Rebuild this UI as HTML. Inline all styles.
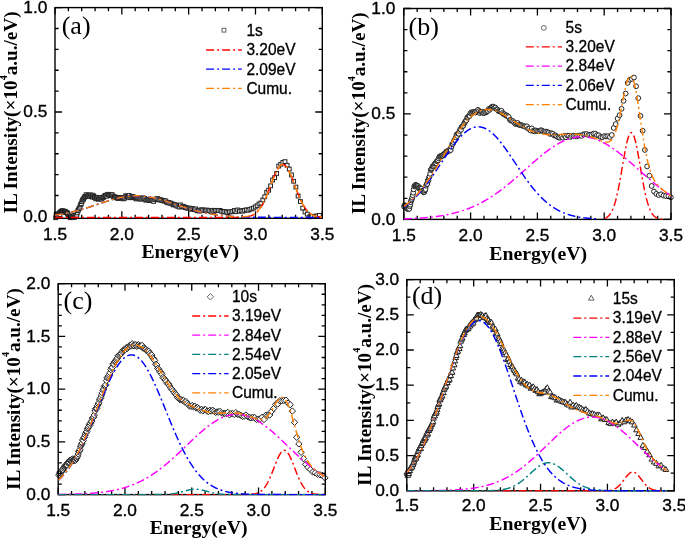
<!DOCTYPE html>
<html><head><meta charset="utf-8"><style>
html,body{margin:0;padding:0;background:#fff;}
svg{display:block;will-change:transform;}
</style></head><body>
<svg width="685" height="539" viewBox="0 0 685 539">
<rect width="685" height="539" fill="#fff"/>
<clipPath id="clipa"><rect x="55.0" y="7.6" width="267.3" height="211.6"/></clipPath>
<g fill="#fff" stroke="#222" stroke-width="1.0">
<rect x="53.77" y="215.82" width="3.8" height="3.8"/>
<rect x="54.24" y="213.02" width="3.8" height="3.8"/>
<rect x="54.71" y="214.73" width="3.8" height="3.8"/>
<rect x="55.18" y="214.04" width="3.8" height="3.8"/>
<rect x="55.65" y="213.83" width="3.8" height="3.8"/>
<rect x="56.12" y="213.51" width="3.8" height="3.8"/>
<rect x="56.6" y="211.89" width="3.8" height="3.8"/>
<rect x="57.07" y="212.21" width="3.8" height="3.8"/>
<rect x="57.55" y="210.9" width="3.8" height="3.8"/>
<rect x="58.04" y="212.66" width="3.8" height="3.8"/>
<rect x="58.52" y="210.35" width="3.8" height="3.8"/>
<rect x="59.01" y="209.63" width="3.8" height="3.8"/>
<rect x="59.5" y="209.45" width="3.8" height="3.8"/>
<rect x="59.99" y="209.14" width="3.8" height="3.8"/>
<rect x="60.49" y="208.85" width="3.8" height="3.8"/>
<rect x="60.98" y="209.21" width="3.8" height="3.8"/>
<rect x="61.48" y="209.7" width="3.8" height="3.8"/>
<rect x="61.98" y="209.26" width="3.8" height="3.8"/>
<rect x="62.49" y="210" width="3.8" height="3.8"/>
<rect x="62.99" y="209.4" width="3.8" height="3.8"/>
<rect x="63.5" y="209.68" width="3.8" height="3.8"/>
<rect x="64.01" y="210.79" width="3.8" height="3.8"/>
<rect x="64.52" y="210.53" width="3.8" height="3.8"/>
<rect x="65.04" y="210.52" width="3.8" height="3.8"/>
<rect x="65.56" y="211.44" width="3.8" height="3.8"/>
<rect x="66.08" y="212.72" width="3.8" height="3.8"/>
<rect x="66.6" y="214.53" width="3.8" height="3.8"/>
<rect x="67.13" y="213.97" width="3.8" height="3.8"/>
<rect x="67.66" y="214.57" width="3.8" height="3.8"/>
<rect x="68.19" y="215.77" width="3.8" height="3.8"/>
<rect x="68.72" y="214.77" width="3.8" height="3.8"/>
<rect x="69.26" y="215.11" width="3.8" height="3.8"/>
<rect x="69.8" y="215.77" width="3.8" height="3.8"/>
<rect x="70.34" y="215.54" width="3.8" height="3.8"/>
<rect x="70.89" y="215.18" width="3.8" height="3.8"/>
<rect x="71.44" y="215.46" width="3.8" height="3.8"/>
<rect x="71.99" y="213.28" width="3.8" height="3.8"/>
<rect x="72.54" y="215.48" width="3.8" height="3.8"/>
<rect x="73.09" y="214.14" width="3.8" height="3.8"/>
<rect x="73.65" y="213.51" width="3.8" height="3.8"/>
<rect x="74.21" y="214.26" width="3.8" height="3.8"/>
<rect x="74.78" y="213.33" width="3.8" height="3.8"/>
<rect x="75.35" y="210.99" width="3.8" height="3.8"/>
<rect x="75.92" y="208.93" width="3.8" height="3.8"/>
<rect x="76.49" y="208.15" width="3.8" height="3.8"/>
<rect x="77.07" y="206.63" width="3.8" height="3.8"/>
<rect x="77.64" y="206.05" width="3.8" height="3.8"/>
<rect x="78.23" y="204.25" width="3.8" height="3.8"/>
<rect x="78.81" y="202.53" width="3.8" height="3.8"/>
<rect x="79.4" y="201.74" width="3.8" height="3.8"/>
<rect x="79.99" y="199.69" width="3.8" height="3.8"/>
<rect x="80.59" y="198.08" width="3.8" height="3.8"/>
<rect x="81.18" y="197.86" width="3.8" height="3.8"/>
<rect x="81.78" y="196.87" width="3.8" height="3.8"/>
<rect x="82.39" y="195.63" width="3.8" height="3.8"/>
<rect x="82.99" y="194.58" width="3.8" height="3.8"/>
<rect x="83.6" y="194.64" width="3.8" height="3.8"/>
<rect x="84.22" y="192.79" width="3.8" height="3.8"/>
<rect x="84.83" y="194.63" width="3.8" height="3.8"/>
<rect x="85.45" y="194.46" width="3.8" height="3.8"/>
<rect x="86.08" y="193.14" width="3.8" height="3.8"/>
<rect x="86.7" y="194.14" width="3.8" height="3.8"/>
<rect x="87.33" y="193.52" width="3.8" height="3.8"/>
<rect x="87.97" y="194.58" width="3.8" height="3.8"/>
<rect x="88.6" y="192.97" width="3.8" height="3.8"/>
<rect x="89.24" y="193.72" width="3.8" height="3.8"/>
<rect x="89.89" y="194.79" width="3.8" height="3.8"/>
<rect x="90.53" y="195.18" width="3.8" height="3.8"/>
<rect x="91.18" y="193.32" width="3.8" height="3.8"/>
<rect x="91.84" y="194.59" width="3.8" height="3.8"/>
<rect x="92.5" y="195.48" width="3.8" height="3.8"/>
<rect x="93.16" y="195.33" width="3.8" height="3.8"/>
<rect x="93.82" y="196.98" width="3.8" height="3.8"/>
<rect x="94.49" y="195.46" width="3.8" height="3.8"/>
<rect x="95.16" y="196.52" width="3.8" height="3.8"/>
<rect x="95.84" y="195.79" width="3.8" height="3.8"/>
<rect x="96.52" y="197.35" width="3.8" height="3.8"/>
<rect x="97.2" y="196.56" width="3.8" height="3.8"/>
<rect x="97.89" y="196.37" width="3.8" height="3.8"/>
<rect x="98.58" y="195.51" width="3.8" height="3.8"/>
<rect x="99.28" y="197.28" width="3.8" height="3.8"/>
<rect x="99.98" y="196.32" width="3.8" height="3.8"/>
<rect x="100.68" y="195.85" width="3.8" height="3.8"/>
<rect x="101.39" y="195.63" width="3.8" height="3.8"/>
<rect x="102.1" y="194.81" width="3.8" height="3.8"/>
<rect x="102.82" y="193.93" width="3.8" height="3.8"/>
<rect x="103.54" y="193.54" width="3.8" height="3.8"/>
<rect x="104.26" y="193.26" width="3.8" height="3.8"/>
<rect x="104.99" y="194.3" width="3.8" height="3.8"/>
<rect x="105.72" y="192.4" width="3.8" height="3.8"/>
<rect x="106.46" y="192.78" width="3.8" height="3.8"/>
<rect x="107.2" y="192.91" width="3.8" height="3.8"/>
<rect x="107.94" y="193.31" width="3.8" height="3.8"/>
<rect x="108.69" y="193.68" width="3.8" height="3.8"/>
<rect x="109.45" y="192.81" width="3.8" height="3.8"/>
<rect x="110.21" y="192.77" width="3.8" height="3.8"/>
<rect x="110.97" y="194.06" width="3.8" height="3.8"/>
<rect x="111.74" y="195.06" width="3.8" height="3.8"/>
<rect x="112.51" y="195.16" width="3.8" height="3.8"/>
<rect x="113.28" y="195.25" width="3.8" height="3.8"/>
<rect x="114.07" y="195.34" width="3.8" height="3.8"/>
<rect x="114.85" y="196.04" width="3.8" height="3.8"/>
<rect x="115.64" y="195.92" width="3.8" height="3.8"/>
<rect x="116.44" y="196.58" width="3.8" height="3.8"/>
<rect x="117.24" y="195.55" width="3.8" height="3.8"/>
<rect x="118.04" y="196" width="3.8" height="3.8"/>
<rect x="118.85" y="195.72" width="3.8" height="3.8"/>
<rect x="119.67" y="195.98" width="3.8" height="3.8"/>
<rect x="120.49" y="195.69" width="3.8" height="3.8"/>
<rect x="121.31" y="196.96" width="3.8" height="3.8"/>
<rect x="122.14" y="196.2" width="3.8" height="3.8"/>
<rect x="122.98" y="196.07" width="3.8" height="3.8"/>
<rect x="123.82" y="193.84" width="3.8" height="3.8"/>
<rect x="124.67" y="194.77" width="3.8" height="3.8"/>
<rect x="125.52" y="194.55" width="3.8" height="3.8"/>
<rect x="126.37" y="195.22" width="3.8" height="3.8"/>
<rect x="127.24" y="193.58" width="3.8" height="3.8"/>
<rect x="128.1" y="195.74" width="3.8" height="3.8"/>
<rect x="128.98" y="195.8" width="3.8" height="3.8"/>
<rect x="129.85" y="194.51" width="3.8" height="3.8"/>
<rect x="130.74" y="194.84" width="3.8" height="3.8"/>
<rect x="131.63" y="195.07" width="3.8" height="3.8"/>
<rect x="132.52" y="195.67" width="3.8" height="3.8"/>
<rect x="133.42" y="196.1" width="3.8" height="3.8"/>
<rect x="134.33" y="197.01" width="3.8" height="3.8"/>
<rect x="135.24" y="195.73" width="3.8" height="3.8"/>
<rect x="136.16" y="196.37" width="3.8" height="3.8"/>
<rect x="137.09" y="196.09" width="3.8" height="3.8"/>
<rect x="138.02" y="197.15" width="3.8" height="3.8"/>
<rect x="138.95" y="196.67" width="3.8" height="3.8"/>
<rect x="139.9" y="197.21" width="3.8" height="3.8"/>
<rect x="140.85" y="195.94" width="3.8" height="3.8"/>
<rect x="141.8" y="196.69" width="3.8" height="3.8"/>
<rect x="142.76" y="196.54" width="3.8" height="3.8"/>
<rect x="143.73" y="198.16" width="3.8" height="3.8"/>
<rect x="144.71" y="197.95" width="3.8" height="3.8"/>
<rect x="145.69" y="197.69" width="3.8" height="3.8"/>
<rect x="146.68" y="197.9" width="3.8" height="3.8"/>
<rect x="147.67" y="198.69" width="3.8" height="3.8"/>
<rect x="148.67" y="198.08" width="3.8" height="3.8"/>
<rect x="149.68" y="197.88" width="3.8" height="3.8"/>
<rect x="150.7" y="198.55" width="3.8" height="3.8"/>
<rect x="151.72" y="199.51" width="3.8" height="3.8"/>
<rect x="152.75" y="197.7" width="3.8" height="3.8"/>
<rect x="153.78" y="197.39" width="3.8" height="3.8"/>
<rect x="154.83" y="196.92" width="3.8" height="3.8"/>
<rect x="155.88" y="196.74" width="3.8" height="3.8"/>
<rect x="156.94" y="197.82" width="3.8" height="3.8"/>
<rect x="158" y="198.11" width="3.8" height="3.8"/>
<rect x="159.07" y="197.88" width="3.8" height="3.8"/>
<rect x="160.15" y="198.46" width="3.8" height="3.8"/>
<rect x="161.24" y="198.72" width="3.8" height="3.8"/>
<rect x="162.34" y="199.25" width="3.8" height="3.8"/>
<rect x="163.44" y="198.86" width="3.8" height="3.8"/>
<rect x="164.55" y="200.09" width="3.8" height="3.8"/>
<rect x="165.67" y="200.87" width="3.8" height="3.8"/>
<rect x="166.8" y="200.7" width="3.8" height="3.8"/>
<rect x="167.94" y="201.21" width="3.8" height="3.8"/>
<rect x="169.08" y="201.31" width="3.8" height="3.8"/>
<rect x="170.23" y="201.94" width="3.8" height="3.8"/>
<rect x="171.39" y="203.02" width="3.8" height="3.8"/>
<rect x="172.56" y="202.65" width="3.8" height="3.8"/>
<rect x="173.74" y="203.17" width="3.8" height="3.8"/>
<rect x="174.93" y="204.08" width="3.8" height="3.8"/>
<rect x="176.12" y="204.24" width="3.8" height="3.8"/>
<rect x="177.33" y="205.1" width="3.8" height="3.8"/>
<rect x="178.54" y="203.03" width="3.8" height="3.8"/>
<rect x="179.76" y="204.98" width="3.8" height="3.8"/>
<rect x="180.99" y="204.37" width="3.8" height="3.8"/>
<rect x="182.23" y="204.94" width="3.8" height="3.8"/>
<rect x="183.48" y="205.6" width="3.8" height="3.8"/>
<rect x="184.74" y="206.03" width="3.8" height="3.8"/>
<rect x="186.01" y="206.34" width="3.8" height="3.8"/>
<rect x="187.29" y="206.16" width="3.8" height="3.8"/>
<rect x="188.58" y="207.39" width="3.8" height="3.8"/>
<rect x="189.88" y="206.58" width="3.8" height="3.8"/>
<rect x="191.19" y="206.93" width="3.8" height="3.8"/>
<rect x="192.51" y="207.7" width="3.8" height="3.8"/>
<rect x="193.84" y="207.07" width="3.8" height="3.8"/>
<rect x="195.18" y="208.87" width="3.8" height="3.8"/>
<rect x="196.53" y="208.34" width="3.8" height="3.8"/>
<rect x="197.89" y="209.18" width="3.8" height="3.8"/>
<rect x="199.26" y="207.99" width="3.8" height="3.8"/>
<rect x="200.65" y="207.9" width="3.8" height="3.8"/>
<rect x="202.04" y="208.35" width="3.8" height="3.8"/>
<rect x="203.45" y="208.8" width="3.8" height="3.8"/>
<rect x="204.86" y="208.11" width="3.8" height="3.8"/>
<rect x="206.29" y="208.78" width="3.8" height="3.8"/>
<rect x="207.73" y="208.63" width="3.8" height="3.8"/>
<rect x="209.18" y="209.69" width="3.8" height="3.8"/>
<rect x="210.65" y="208.4" width="3.8" height="3.8"/>
<rect x="212.12" y="209.51" width="3.8" height="3.8"/>
<rect x="213.61" y="208.57" width="3.8" height="3.8"/>
<rect x="215.11" y="208.46" width="3.8" height="3.8"/>
<rect x="216.62" y="208.69" width="3.8" height="3.8"/>
<rect x="218.15" y="208.51" width="3.8" height="3.8"/>
<rect x="219.68" y="209.42" width="3.8" height="3.8"/>
<rect x="221.24" y="210.07" width="3.8" height="3.8"/>
<rect x="222.8" y="209.66" width="3.8" height="3.8"/>
<rect x="224.38" y="210.04" width="3.8" height="3.8"/>
<rect x="225.97" y="210.73" width="3.8" height="3.8"/>
<rect x="227.57" y="209.95" width="3.8" height="3.8"/>
<rect x="229.19" y="209.91" width="3.8" height="3.8"/>
<rect x="230.83" y="209.54" width="3.8" height="3.8"/>
<rect x="232.47" y="208.58" width="3.8" height="3.8"/>
<rect x="234.13" y="209.8" width="3.8" height="3.8"/>
<rect x="235.81" y="208.06" width="3.8" height="3.8"/>
<rect x="237.5" y="209.29" width="3.8" height="3.8"/>
<rect x="239.21" y="208.71" width="3.8" height="3.8"/>
<rect x="240.93" y="209.27" width="3.8" height="3.8"/>
<rect x="242.66" y="208.45" width="3.8" height="3.8"/>
<rect x="244.42" y="207.88" width="3.8" height="3.8"/>
<rect x="246.18" y="208.4" width="3.8" height="3.8"/>
<rect x="247.97" y="207.41" width="3.8" height="3.8"/>
<rect x="249.77" y="206.9" width="3.8" height="3.8"/>
<rect x="251.58" y="206.19" width="3.8" height="3.8"/>
<rect x="253.42" y="205.06" width="3.8" height="3.8"/>
<rect x="255.27" y="203.79" width="3.8" height="3.8"/>
<rect x="257.13" y="202.06" width="3.8" height="3.8"/>
<rect x="259.02" y="201.13" width="3.8" height="3.8"/>
<rect x="260.92" y="198.05" width="3.8" height="3.8"/>
<rect x="262.84" y="194.91" width="3.8" height="3.8"/>
<rect x="264.78" y="190.42" width="3.8" height="3.8"/>
<rect x="266.74" y="188.3" width="3.8" height="3.8"/>
<rect x="268.71" y="183.96" width="3.8" height="3.8"/>
<rect x="270.71" y="178.11" width="3.8" height="3.8"/>
<rect x="272.72" y="175.76" width="3.8" height="3.8"/>
<rect x="274.75" y="171.54" width="3.8" height="3.8"/>
<rect x="276.81" y="164.16" width="3.8" height="3.8"/>
<rect x="278.88" y="162.35" width="3.8" height="3.8"/>
<rect x="280.97" y="160.52" width="3.8" height="3.8"/>
<rect x="283.09" y="159.74" width="3.8" height="3.8"/>
<rect x="285.22" y="163.42" width="3.8" height="3.8"/>
<rect x="287.38" y="167.16" width="3.8" height="3.8"/>
<rect x="289.56" y="173.03" width="3.8" height="3.8"/>
<rect x="291.76" y="179.36" width="3.8" height="3.8"/>
<rect x="293.98" y="185.18" width="3.8" height="3.8"/>
<rect x="296.22" y="194.14" width="3.8" height="3.8"/>
<rect x="298.49" y="199.63" width="3.8" height="3.8"/>
<rect x="300.78" y="206.23" width="3.8" height="3.8"/>
<rect x="303.09" y="210.05" width="3.8" height="3.8"/>
<rect x="305.43" y="212.24" width="3.8" height="3.8"/>
<rect x="307.8" y="214.89" width="3.8" height="3.8"/>
<rect x="310.18" y="214.65" width="3.8" height="3.8"/>
<rect x="312.6" y="214.29" width="3.8" height="3.8"/>
<rect x="315.04" y="214.1" width="3.8" height="3.8"/>
<rect x="317.5" y="213.47" width="3.8" height="3.8"/>
</g>
<rect x="55.0" y="7.6" width="267.3" height="210.7" fill="none" stroke="#000" stroke-width="1.4"/>
<path d="M55 218.3v-7M55 7.6v7M68.37 218.3v-3.6M68.37 7.6v3.6M81.73 218.3v-3.6M81.73 7.6v3.6M95.09 218.3v-3.6M95.09 7.6v3.6M108.46 218.3v-3.6M108.46 7.6v3.6M121.83 218.3v-7M121.83 7.6v7M135.19 218.3v-3.6M135.19 7.6v3.6M148.56 218.3v-3.6M148.56 7.6v3.6M161.92 218.3v-3.6M161.92 7.6v3.6M175.28 218.3v-3.6M175.28 7.6v3.6M188.65 218.3v-7M188.65 7.6v7M202.02 218.3v-3.6M202.02 7.6v3.6M215.38 218.3v-3.6M215.38 7.6v3.6M228.74 218.3v-3.6M228.74 7.6v3.6M242.11 218.3v-3.6M242.11 7.6v3.6M255.48 218.3v-7M255.48 7.6v7M268.84 218.3v-3.6M268.84 7.6v3.6M282.21 218.3v-3.6M282.21 7.6v3.6M295.57 218.3v-3.6M295.57 7.6v3.6M308.94 218.3v-3.6M308.94 7.6v3.6M322.3 218.3v-7M322.3 7.6v7M55 218.3h7M322.3 218.3h-7M55 195.52h3.6M322.3 195.52h-3.6M55 174.64h3.6M322.3 174.64h-3.6M55 153.76h3.6M322.3 153.76h-3.6M55 132.88h3.6M322.3 132.88h-3.6M55 112h7M322.3 112h-7M55 91.12h3.6M322.3 91.12h-3.6M55 70.24h3.6M322.3 70.24h-3.6M55 49.36h3.6M322.3 49.36h-3.6M55 28.48h3.6M322.3 28.48h-3.6M55 7.6h7M322.3 7.6h-7" stroke="#000" stroke-width="1.3" fill="none"/>
<g fill="none" stroke-width="1.45" stroke-dasharray="8 3 2 3" clip-path="url(#clipa)">
<path stroke="#ff0000" d="M55 217.4 L55.67 217.4 L56.34 217.4 L57.01 217.4 L57.68 217.4 L58.35 217.4 L59.02 217.4 L59.69 217.4 L60.36 217.4 L61.03 217.4 L61.7 217.4 L62.37 217.4 L63.04 217.4 L63.71 217.4 L64.38 217.4 L65.05 217.4 L65.72 217.4 L66.39 217.4 L67.06 217.4 L67.73 217.4 L68.4 217.4 L69.07 217.4 L69.74 217.4 L70.41 217.4 L71.08 217.4 L71.75 217.4 L72.42 217.4 L73.09 217.4 L73.76 217.4 L74.43 217.4 L75.1 217.4 L75.77 217.4 L76.44 217.4 L77.11 217.4 L77.78 217.4 L78.45 217.4 L79.12 217.4 L79.79 217.4 L80.46 217.4 L81.13 217.4 L81.8 217.4 L82.47 217.4 L83.14 217.4 L83.81 217.4 L84.48 217.4 L85.15 217.4 L85.82 217.4 L86.49 217.4 L87.16 217.4 L87.83 217.4 L88.5 217.4 L89.17 217.4 L89.84 217.4 L90.51 217.4 L91.18 217.4 L91.85 217.4 L92.52 217.4 L93.19 217.4 L93.86 217.4 L94.53 217.4 L95.2 217.4 L95.87 217.4 L96.54 217.4 L97.21 217.4 L97.88 217.4 L98.55 217.4 L99.22 217.4 L99.88 217.4 L100.55 217.4 L101.22 217.4 L101.89 217.4 L102.56 217.4 L103.23 217.4 L103.9 217.4 L104.57 217.4 L105.24 217.4 L105.91 217.4 L106.58 217.4 L107.25 217.4 L107.92 217.4 L108.59 217.4 L109.26 217.4 L109.93 217.4 L110.6 217.4 L111.27 217.4 L111.94 217.4 L112.61 217.4 L113.28 217.4 L113.95 217.4 L114.62 217.4 L115.29 217.4 L115.96 217.4 L116.63 217.4 L117.3 217.4 L117.97 217.4 L118.64 217.4 L119.31 217.4 L119.98 217.4 L120.65 217.4 L121.32 217.4 L121.99 217.4 L122.66 217.4 L123.33 217.4 L124 217.4 L124.67 217.4 L125.34 217.4 L126.01 217.4 L126.68 217.4 L127.35 217.4 L128.02 217.4 L128.69 217.4 L129.36 217.4 L130.03 217.4 L130.7 217.4 L131.37 217.4 L132.04 217.4 L132.71 217.4 L133.38 217.4 L134.05 217.4 L134.72 217.4 L135.39 217.4 L136.06 217.4 L136.73 217.4 L137.4 217.4 L138.07 217.4 L138.74 217.4 L139.41 217.4 L140.08 217.4 L140.75 217.4 L141.42 217.4 L142.09 217.4 L142.76 217.4 L143.43 217.4 L144.1 217.4 L144.77 217.4 L145.44 217.4 L146.11 217.4 L146.78 217.4 L147.45 217.4 L148.12 217.4 L148.79 217.4 L149.46 217.4 L150.13 217.4 L150.8 217.4 L151.47 217.4 L152.14 217.4 L152.81 217.4 L153.48 217.4 L154.15 217.4 L154.82 217.4 L155.49 217.4 L156.16 217.4 L156.83 217.4 L157.5 217.4 L158.17 217.4 L158.84 217.4 L159.51 217.4 L160.18 217.4 L160.85 217.4 L161.52 217.4 L162.19 217.4 L162.86 217.4 L163.53 217.4 L164.2 217.4 L164.87 217.4 L165.54 217.4 L166.21 217.4 L166.88 217.4 L167.55 217.4 L168.22 217.4 L168.89 217.4 L169.56 217.4 L170.23 217.4 L170.9 217.4 L171.57 217.4 L172.24 217.4 L172.91 217.4 L173.58 217.4 L174.25 217.4 L174.92 217.4 L175.59 217.4 L176.26 217.4 L176.93 217.4 L177.6 217.4 L178.27 217.4 L178.94 217.4 L179.61 217.4 L180.28 217.4 L180.95 217.4 L181.62 217.4 L182.29 217.4 L182.96 217.4 L183.63 217.4 L184.3 217.4 L184.97 217.4 L185.64 217.4 L186.31 217.4 L186.98 217.4 L187.65 217.4 L188.32 217.4 L188.98 217.4 L189.65 217.4 L190.32 217.4 L190.99 217.4 L191.66 217.4 L192.33 217.4 L193 217.4 L193.67 217.4 L194.34 217.4 L195.01 217.4 L195.68 217.4 L196.35 217.4 L197.02 217.4 L197.69 217.4 L198.36 217.4 L199.03 217.4 L199.7 217.4 L200.37 217.4 L201.04 217.4 L201.71 217.4 L202.38 217.4 L203.05 217.4 L203.72 217.4 L204.39 217.4 L205.06 217.4 L205.73 217.4 L206.4 217.4 L207.07 217.4 L207.74 217.4 L208.41 217.4 L209.08 217.4 L209.75 217.4 L210.42 217.4 L211.09 217.4 L211.76 217.4 L212.43 217.4 L213.1 217.4 L213.77 217.4 L214.44 217.4 L215.11 217.4 L215.78 217.4 L216.45 217.4 L217.12 217.4 L217.79 217.4 L218.46 217.4 L219.13 217.4 L219.8 217.4 L220.47 217.4 L221.14 217.4 L221.81 217.4 L222.48 217.4 L223.15 217.4 L223.82 217.4 L224.49 217.4 L225.16 217.4 L225.83 217.4 L226.5 217.4 L227.17 217.4 L227.84 217.4 L228.51 217.4 L229.18 217.4 L229.85 217.4 L230.52 217.4 L231.19 217.39 L231.86 217.39 L232.53 217.39 L233.2 217.39 L233.87 217.39 L234.54 217.38 L235.21 217.38 L235.88 217.37 L236.55 217.37 L237.22 217.36 L237.89 217.35 L238.56 217.34 L239.23 217.32 L239.9 217.31 L240.57 217.29 L241.24 217.26 L241.91 217.23 L242.58 217.2 L243.25 217.16 L243.92 217.11 L244.59 217.05 L245.26 216.99 L245.93 216.91 L246.6 216.82 L247.27 216.72 L247.94 216.6 L248.61 216.46 L249.28 216.3 L249.95 216.11 L250.62 215.9 L251.29 215.67 L251.96 215.4 L252.63 215.1 L253.3 214.76 L253.97 214.37 L254.64 213.95 L255.31 213.48 L255.98 212.95 L256.65 212.37 L257.32 211.73 L257.99 211.04 L258.66 210.28 L259.33 209.45 L260 208.55 L260.67 207.58 L261.34 206.54 L262.01 205.43 L262.68 204.24 L263.35 202.99 L264.02 201.66 L264.69 200.26 L265.36 198.79 L266.03 197.26 L266.7 195.68 L267.37 194.04 L268.04 192.35 L268.71 190.63 L269.38 188.88 L270.05 187.1 L270.72 185.32 L271.39 183.54 L272.06 181.76 L272.73 180.01 L273.4 178.3 L274.07 176.64 L274.74 175.03 L275.41 173.5 L276.08 172.05 L276.75 170.7 L277.42 169.46 L278.08 168.34 L278.75 167.35 L279.42 166.5 L280.09 165.79 L280.76 165.24 L281.43 164.84 L282.1 164.6 L282.77 164.53 L283.44 164.62 L284.11 164.87 L284.78 165.29 L285.45 165.86 L286.12 166.58 L286.79 167.45 L287.46 168.45 L288.13 169.59 L288.8 170.84 L289.47 172.2 L290.14 173.65 L290.81 175.19 L291.48 176.81 L292.15 178.48 L292.82 180.2 L293.49 181.95 L294.16 183.72 L294.83 185.51 L295.5 187.29 L296.17 189.06 L296.84 190.81 L297.51 192.53 L298.18 194.21 L298.85 195.85 L299.52 197.43 L300.19 198.95 L300.86 200.41 L301.53 201.8 L302.2 203.12 L302.87 204.37 L303.54 205.55 L304.21 206.65 L304.88 207.69 L305.55 208.65 L306.22 209.54 L306.89 210.36 L307.56 211.11 L308.23 211.8 L308.9 212.43 L309.57 213.01 L310.24 213.53 L310.91 214 L311.58 214.42 L312.25 214.79 L312.92 215.13 L313.59 215.43 L314.26 215.69 L314.93 215.93 L315.6 216.13 L316.27 216.31 L316.94 216.47 L317.61 216.61 L318.28 216.73 L318.95 216.83 L319.62 216.92 L320.29 217 L320.96 217.06 L321.63 217.12 L322.3 217.16"/>
<path stroke="#0000ff" d="M55 215.03 L55.67 214.95 L56.34 214.86 L57.01 214.77 L57.68 214.67 L58.35 214.57 L59.02 214.47 L59.69 214.37 L60.36 214.27 L61.03 214.16 L61.7 214.05 L62.37 213.93 L63.04 213.82 L63.71 213.7 L64.38 213.58 L65.05 213.45 L65.72 213.33 L66.39 213.2 L67.06 213.06 L67.73 212.93 L68.4 212.79 L69.07 212.65 L69.74 212.5 L70.41 212.36 L71.08 212.21 L71.75 212.05 L72.42 211.9 L73.09 211.74 L73.76 211.58 L74.43 211.41 L75.1 211.25 L75.77 211.08 L76.44 210.9 L77.11 210.73 L77.78 210.55 L78.45 210.37 L79.12 210.19 L79.79 210 L80.46 209.81 L81.13 209.62 L81.8 209.43 L82.47 209.23 L83.14 209.03 L83.81 208.83 L84.48 208.63 L85.15 208.42 L85.82 208.22 L86.49 208.01 L87.16 207.8 L87.83 207.59 L88.5 207.37 L89.17 207.16 L89.84 206.94 L90.51 206.72 L91.18 206.5 L91.85 206.28 L92.52 206.06 L93.19 205.84 L93.86 205.61 L94.53 205.39 L95.2 205.16 L95.87 204.94 L96.54 204.71 L97.21 204.48 L97.88 204.26 L98.55 204.03 L99.22 203.8 L99.88 203.58 L100.55 203.35 L101.22 203.13 L101.89 202.9 L102.56 202.68 L103.23 202.46 L103.9 202.24 L104.57 202.02 L105.24 201.8 L105.91 201.58 L106.58 201.37 L107.25 201.15 L107.92 200.94 L108.59 200.73 L109.26 200.53 L109.93 200.32 L110.6 200.12 L111.27 199.92 L111.94 199.73 L112.61 199.54 L113.28 199.35 L113.95 199.16 L114.62 198.98 L115.29 198.8 L115.96 198.63 L116.63 198.46 L117.3 198.29 L117.97 198.13 L118.64 197.97 L119.31 197.82 L119.98 197.67 L120.65 197.53 L121.32 197.39 L121.99 197.26 L122.66 197.13 L123.33 197.01 L124 196.89 L124.67 196.78 L125.34 196.67 L126.01 196.57 L126.68 196.48 L127.35 196.39 L128.02 196.3 L128.69 196.23 L129.36 196.16 L130.03 196.09 L130.7 196.03 L131.37 195.98 L132.04 195.93 L132.71 195.9 L133.38 195.86 L134.05 195.83 L134.72 195.81 L135.39 195.8 L136.06 195.79 L136.73 195.79 L137.4 195.8 L138.07 195.81 L138.74 195.83 L139.41 195.85 L140.08 195.88 L140.75 195.92 L141.42 195.96 L142.09 196.01 L142.76 196.07 L143.43 196.13 L144.1 196.2 L144.77 196.27 L145.44 196.35 L146.11 196.44 L146.78 196.53 L147.45 196.63 L148.12 196.74 L148.79 196.85 L149.46 196.96 L150.13 197.08 L150.8 197.21 L151.47 197.34 L152.14 197.47 L152.81 197.62 L153.48 197.76 L154.15 197.91 L154.82 198.07 L155.49 198.23 L156.16 198.39 L156.83 198.56 L157.5 198.73 L158.17 198.91 L158.84 199.09 L159.51 199.27 L160.18 199.46 L160.85 199.65 L161.52 199.85 L162.19 200.04 L162.86 200.24 L163.53 200.45 L164.2 200.65 L164.87 200.86 L165.54 201.07 L166.21 201.28 L166.88 201.5 L167.55 201.71 L168.22 201.93 L168.89 202.15 L169.56 202.37 L170.23 202.59 L170.9 202.82 L171.57 203.04 L172.24 203.26 L172.91 203.49 L173.58 203.72 L174.25 203.94 L174.92 204.17 L175.59 204.4 L176.26 204.62 L176.93 204.85 L177.6 205.07 L178.27 205.3 L178.94 205.52 L179.61 205.75 L180.28 205.97 L180.95 206.19 L181.62 206.42 L182.29 206.64 L182.96 206.86 L183.63 207.07 L184.3 207.29 L184.97 207.5 L185.64 207.72 L186.31 207.93 L186.98 208.14 L187.65 208.34 L188.32 208.55 L188.98 208.75 L189.65 208.95 L190.32 209.15 L190.99 209.35 L191.66 209.54 L192.33 209.74 L193 209.93 L193.67 210.11 L194.34 210.3 L195.01 210.48 L195.68 210.66 L196.35 210.83 L197.02 211.01 L197.69 211.18 L198.36 211.35 L199.03 211.51 L199.7 211.68 L200.37 211.84 L201.04 211.99 L201.71 212.15 L202.38 212.3 L203.05 212.45 L203.72 212.59 L204.39 212.73 L205.06 212.87 L205.73 213.01 L206.4 213.15 L207.07 213.28 L207.74 213.41 L208.41 213.53 L209.08 213.65 L209.75 213.77 L210.42 213.89 L211.09 214 L211.76 214.12 L212.43 214.22 L213.1 214.33 L213.77 214.43 L214.44 214.54 L215.11 214.63 L215.78 214.73 L216.45 214.82 L217.12 214.91 L217.79 215 L218.46 215.09 L219.13 215.17 L219.8 215.25 L220.47 215.33 L221.14 215.41 L221.81 215.48 L222.48 215.55 L223.15 215.62 L223.82 215.69 L224.49 215.76 L225.16 215.82 L225.83 215.88 L226.5 215.94 L227.17 216 L227.84 216.05 L228.51 216.11 L229.18 216.16 L229.85 216.21 L230.52 216.26 L231.19 216.31 L231.86 216.35 L232.53 216.39 L233.2 216.44 L233.87 216.48 L234.54 216.52 L235.21 216.55 L235.88 216.59 L236.55 216.63 L237.22 216.66 L237.89 216.69 L238.56 216.72 L239.23 216.75 L239.9 216.78 L240.57 216.81 L241.24 216.84 L241.91 216.86 L242.58 216.89 L243.25 216.91 L243.92 216.93 L244.59 216.96 L245.26 216.98 L245.93 217 L246.6 217.02 L247.27 217.04 L247.94 217.05 L248.61 217.07 L249.28 217.09 L249.95 217.1 L250.62 217.12 L251.29 217.13 L251.96 217.14 L252.63 217.16 L253.3 217.17 L253.97 217.18 L254.64 217.19 L255.31 217.2 L255.98 217.21 L256.65 217.22 L257.32 217.23 L257.99 217.24 L258.66 217.25 L259.33 217.26 L260 217.26 L260.67 217.27 L261.34 217.28 L262.01 217.29 L262.68 217.29 L263.35 217.3 L264.02 217.3 L264.69 217.31 L265.36 217.31 L266.03 217.32 L266.7 217.32 L267.37 217.33 L268.04 217.33 L268.71 217.34 L269.38 217.34 L270.05 217.34 L270.72 217.35 L271.39 217.35 L272.06 217.35 L272.73 217.36 L273.4 217.36 L274.07 217.36 L274.74 217.36 L275.41 217.36 L276.08 217.37 L276.75 217.37 L277.42 217.37 L278.08 217.37 L278.75 217.37 L279.42 217.38 L280.09 217.38 L280.76 217.38 L281.43 217.38 L282.1 217.38 L282.77 217.38 L283.44 217.38 L284.11 217.38 L284.78 217.39 L285.45 217.39 L286.12 217.39 L286.79 217.39 L287.46 217.39 L288.13 217.39 L288.8 217.39 L289.47 217.39 L290.14 217.39 L290.81 217.39 L291.48 217.39 L292.15 217.39 L292.82 217.39 L293.49 217.39 L294.16 217.39 L294.83 217.39 L295.5 217.4 L296.17 217.4 L296.84 217.4 L297.51 217.4 L298.18 217.4 L298.85 217.4 L299.52 217.4 L300.19 217.4 L300.86 217.4 L301.53 217.4 L302.2 217.4 L302.87 217.4 L303.54 217.4 L304.21 217.4 L304.88 217.4 L305.55 217.4 L306.22 217.4 L306.89 217.4 L307.56 217.4 L308.23 217.4 L308.9 217.4 L309.57 217.4 L310.24 217.4 L310.91 217.4 L311.58 217.4 L312.25 217.4 L312.92 217.4 L313.59 217.4 L314.26 217.4 L314.93 217.4 L315.6 217.4 L316.27 217.4 L316.94 217.4 L317.61 217.4 L318.28 217.4 L318.95 217.4 L319.62 217.4 L320.29 217.4 L320.96 217.4 L321.63 217.4 L322.3 217.4"/>
<path stroke="#ff8000" d="M55 215.03 L55.67 214.95 L56.34 214.86 L57.01 214.77 L57.68 214.67 L58.35 214.57 L59.02 214.47 L59.69 214.37 L60.36 214.27 L61.03 214.16 L61.7 214.05 L62.37 213.93 L63.04 213.82 L63.71 213.7 L64.38 213.58 L65.05 213.45 L65.72 213.33 L66.39 213.2 L67.06 213.06 L67.73 212.93 L68.4 212.79 L69.07 212.65 L69.74 212.5 L70.41 212.36 L71.08 212.21 L71.75 212.05 L72.42 211.9 L73.09 211.74 L73.76 211.58 L74.43 211.41 L75.1 211.25 L75.77 211.08 L76.44 210.9 L77.11 210.73 L77.78 210.55 L78.45 210.37 L79.12 210.19 L79.79 210 L80.46 209.81 L81.13 209.62 L81.8 209.43 L82.47 209.23 L83.14 209.03 L83.81 208.83 L84.48 208.63 L85.15 208.42 L85.82 208.22 L86.49 208.01 L87.16 207.8 L87.83 207.59 L88.5 207.37 L89.17 207.16 L89.84 206.94 L90.51 206.72 L91.18 206.5 L91.85 206.28 L92.52 206.06 L93.19 205.84 L93.86 205.61 L94.53 205.39 L95.2 205.16 L95.87 204.94 L96.54 204.71 L97.21 204.48 L97.88 204.26 L98.55 204.03 L99.22 203.8 L99.88 203.58 L100.55 203.35 L101.22 203.13 L101.89 202.9 L102.56 202.68 L103.23 202.46 L103.9 202.24 L104.57 202.02 L105.24 201.8 L105.91 201.58 L106.58 201.37 L107.25 201.15 L107.92 200.94 L108.59 200.73 L109.26 200.53 L109.93 200.32 L110.6 200.12 L111.27 199.92 L111.94 199.73 L112.61 199.54 L113.28 199.35 L113.95 199.16 L114.62 198.98 L115.29 198.8 L115.96 198.63 L116.63 198.46 L117.3 198.29 L117.97 198.13 L118.64 197.97 L119.31 197.82 L119.98 197.67 L120.65 197.53 L121.32 197.39 L121.99 197.26 L122.66 197.13 L123.33 197.01 L124 196.89 L124.67 196.78 L125.34 196.67 L126.01 196.57 L126.68 196.48 L127.35 196.39 L128.02 196.3 L128.69 196.23 L129.36 196.16 L130.03 196.09 L130.7 196.03 L131.37 195.98 L132.04 195.93 L132.71 195.9 L133.38 195.86 L134.05 195.83 L134.72 195.81 L135.39 195.8 L136.06 195.79 L136.73 195.79 L137.4 195.8 L138.07 195.81 L138.74 195.83 L139.41 195.85 L140.08 195.88 L140.75 195.92 L141.42 195.96 L142.09 196.01 L142.76 196.07 L143.43 196.13 L144.1 196.2 L144.77 196.27 L145.44 196.35 L146.11 196.44 L146.78 196.53 L147.45 196.63 L148.12 196.74 L148.79 196.85 L149.46 196.96 L150.13 197.08 L150.8 197.21 L151.47 197.34 L152.14 197.47 L152.81 197.62 L153.48 197.76 L154.15 197.91 L154.82 198.07 L155.49 198.23 L156.16 198.39 L156.83 198.56 L157.5 198.73 L158.17 198.91 L158.84 199.09 L159.51 199.27 L160.18 199.46 L160.85 199.65 L161.52 199.85 L162.19 200.04 L162.86 200.24 L163.53 200.45 L164.2 200.65 L164.87 200.86 L165.54 201.07 L166.21 201.28 L166.88 201.5 L167.55 201.71 L168.22 201.93 L168.89 202.15 L169.56 202.37 L170.23 202.59 L170.9 202.82 L171.57 203.04 L172.24 203.26 L172.91 203.49 L173.58 203.72 L174.25 203.94 L174.92 204.17 L175.59 204.4 L176.26 204.62 L176.93 204.85 L177.6 205.07 L178.27 205.3 L178.94 205.52 L179.61 205.75 L180.28 205.97 L180.95 206.19 L181.62 206.42 L182.29 206.64 L182.96 206.86 L183.63 207.07 L184.3 207.29 L184.97 207.5 L185.64 207.72 L186.31 207.93 L186.98 208.14 L187.65 208.34 L188.32 208.55 L188.98 208.75 L189.65 208.95 L190.32 209.15 L190.99 209.35 L191.66 209.54 L192.33 209.74 L193 209.93 L193.67 210.11 L194.34 210.3 L195.01 210.48 L195.68 210.66 L196.35 210.83 L197.02 211.01 L197.69 211.18 L198.36 211.35 L199.03 211.51 L199.7 211.68 L200.37 211.84 L201.04 211.99 L201.71 212.15 L202.38 212.3 L203.05 212.45 L203.72 212.59 L204.39 212.73 L205.06 212.87 L205.73 213.01 L206.4 213.15 L207.07 213.28 L207.74 213.41 L208.41 213.53 L209.08 213.65 L209.75 213.77 L210.42 213.89 L211.09 214 L211.76 214.12 L212.43 214.22 L213.1 214.33 L213.77 214.43 L214.44 214.54 L215.11 214.63 L215.78 214.73 L216.45 214.82 L217.12 214.91 L217.79 215 L218.46 215.09 L219.13 215.17 L219.8 215.25 L220.47 215.33 L221.14 215.41 L221.81 215.48 L222.48 215.55 L223.15 215.62 L223.82 215.69 L224.49 215.75 L225.16 215.82 L225.83 215.88 L226.5 215.94 L227.17 216 L227.84 216.05 L228.51 216.1 L229.18 216.16 L229.85 216.21 L230.52 216.25 L231.19 216.3 L231.86 216.34 L232.53 216.39 L233.2 216.43 L233.87 216.46 L234.54 216.5 L235.21 216.53 L235.88 216.56 L236.55 216.59 L237.22 216.62 L237.89 216.64 L238.56 216.66 L239.23 216.68 L239.9 216.69 L240.57 216.7 L241.24 216.7 L241.91 216.7 L242.58 216.69 L243.25 216.67 L243.92 216.65 L244.59 216.61 L245.26 216.57 L245.93 216.51 L246.6 216.44 L247.27 216.35 L247.94 216.25 L248.61 216.13 L249.28 215.98 L249.95 215.81 L250.62 215.62 L251.29 215.4 L251.96 215.14 L252.63 214.85 L253.3 214.53 L253.97 214.16 L254.64 213.74 L255.31 213.28 L255.98 212.76 L256.65 212.19 L257.32 211.57 L257.99 210.88 L258.66 210.12 L259.33 209.3 L260 208.41 L260.67 207.45 L261.34 206.42 L262.01 205.32 L262.68 204.14 L263.35 202.88 L264.02 201.56 L264.69 200.17 L265.36 198.71 L266.03 197.18 L266.7 195.6 L267.37 193.97 L268.04 192.29 L268.71 190.57 L269.38 188.82 L270.05 187.05 L270.72 185.27 L271.39 183.49 L272.06 181.72 L272.73 179.97 L273.4 178.26 L274.07 176.6 L274.74 174.99 L275.41 173.46 L276.08 172.02 L276.75 170.67 L277.42 169.44 L278.08 168.32 L278.75 167.33 L279.42 166.48 L280.09 165.77 L280.76 165.22 L281.43 164.82 L282.1 164.59 L282.77 164.51 L283.44 164.6 L284.11 164.86 L284.78 165.27 L285.45 165.85 L286.12 166.57 L286.79 167.44 L287.46 168.44 L288.13 169.58 L288.8 170.83 L289.47 172.19 L290.14 173.65 L290.81 175.19 L291.48 176.8 L292.15 178.47 L292.82 180.19 L293.49 181.94 L294.16 183.72 L294.83 185.5 L295.5 187.28 L296.17 189.06 L296.84 190.81 L297.51 192.53 L298.18 194.21 L298.85 195.84 L299.52 197.42 L300.19 198.94 L300.86 200.4 L301.53 201.8 L302.2 203.12 L302.87 204.37 L303.54 205.55 L304.21 206.65 L304.88 207.68 L305.55 208.65 L306.22 209.53 L306.89 210.36 L307.56 211.11 L308.23 211.8 L308.9 212.43 L309.57 213.01 L310.24 213.53 L310.91 213.99 L311.58 214.42 L312.25 214.79 L312.92 215.13 L313.59 215.43 L314.26 215.69 L314.93 215.93 L315.6 216.13 L316.27 216.31 L316.94 216.47 L317.61 216.61 L318.28 216.73 L318.95 216.83 L319.62 216.92 L320.29 217 L320.96 217.06 L321.63 217.12 L322.3 217.16"/>
</g>
<g font-family="Liberation Sans" font-size="17.3" fill="#000" stroke="#000" stroke-width="0.35">
<text x="55" y="239.7" text-anchor="middle">1.5</text>
<text x="121.83" y="239.7" text-anchor="middle">2.0</text>
<text x="188.65" y="239.7" text-anchor="middle">2.5</text>
<text x="255.48" y="239.7" text-anchor="middle">3.0</text>
<text x="322.3" y="239.7" text-anchor="middle">3.5</text>
<text x="47.4" y="221.6" text-anchor="end">0.0</text>
<text x="47.4" y="117.2" text-anchor="end">0.5</text>
<text x="47.4" y="12.8" text-anchor="end">1.0</text>
</g>
<text x="61.7" y="33.7" font-family="Liberation Serif" font-size="26" fill="#000">(a)</text>
<text x="190.3" y="257.9" text-anchor="middle" font-family="Liberation Serif" font-weight="bold" font-size="19.8" fill="#000">Energy(eV)</text>
<text transform="translate(17.3 112.4) rotate(-90)" text-anchor="middle" font-family="Liberation Serif" font-weight="bold" font-size="19.2" fill="#000">IL Intensity(×10<tspan dy="-10.5" font-size="10">4</tspan><tspan dy="10.5">a.u./eV)</tspan></text>
<g font-family="Liberation Sans" font-size="15.5" fill="#000" stroke="#000" stroke-width="0.3">
<text transform="translate(246.4 35.5) scale(1 1.06)">1s</text>
<text transform="translate(246.4 55.3) scale(1 1.06)">3.20eV</text>
<line x1="206.1" y1="50" x2="241.8" y2="50" stroke="#ff0000" stroke-width="1.3" stroke-dasharray="8 3 2 3"/>
<text transform="translate(246.4 74.5) scale(1 1.06)">2.09eV</text>
<line x1="206.1" y1="69.2" x2="241.8" y2="69.2" stroke="#0000ff" stroke-width="1.3" stroke-dasharray="8 3 2 3"/>
<text transform="translate(246.4 93.7) scale(1 1.06)">Cumu.</text>
<line x1="206.1" y1="88.4" x2="241.8" y2="88.4" stroke="#ff8000" stroke-width="1.3" stroke-dasharray="8 3 2 3"/>
</g>
<g fill="#fff" stroke="#555" stroke-width="0.9"><rect x="222.05" y="28.3" width="3.8" height="3.8"/></g>
<clipPath id="clipb"><rect x="403.8" y="8.5" width="267.2" height="211.8"/></clipPath>
<g fill="#fff" stroke="#222" stroke-width="1.0">
<circle cx="404.07" cy="206.64" r="2.4"/>
<circle cx="404.53" cy="205.17" r="2.4"/>
<circle cx="405" cy="205.68" r="2.4"/>
<circle cx="405.46" cy="206.28" r="2.4"/>
<circle cx="405.93" cy="206.28" r="2.4"/>
<circle cx="406.4" cy="208.46" r="2.4"/>
<circle cx="406.88" cy="207.12" r="2.4"/>
<circle cx="407.35" cy="208.61" r="2.4"/>
<circle cx="407.83" cy="208.64" r="2.4"/>
<circle cx="408.31" cy="209.13" r="2.4"/>
<circle cx="408.8" cy="207.56" r="2.4"/>
<circle cx="409.28" cy="208.79" r="2.4"/>
<circle cx="409.77" cy="206.19" r="2.4"/>
<circle cx="410.26" cy="204.69" r="2.4"/>
<circle cx="410.75" cy="202.17" r="2.4"/>
<circle cx="411.24" cy="200.33" r="2.4"/>
<circle cx="411.74" cy="199.24" r="2.4"/>
<circle cx="412.24" cy="197.61" r="2.4"/>
<circle cx="412.74" cy="195.25" r="2.4"/>
<circle cx="413.24" cy="192.72" r="2.4"/>
<circle cx="413.75" cy="189.4" r="2.4"/>
<circle cx="414.26" cy="186.4" r="2.4"/>
<circle cx="414.77" cy="185.47" r="2.4"/>
<circle cx="415.28" cy="185.14" r="2.4"/>
<circle cx="415.8" cy="184.8" r="2.4"/>
<circle cx="416.32" cy="185.63" r="2.4"/>
<circle cx="416.84" cy="186.33" r="2.4"/>
<circle cx="417.36" cy="185.95" r="2.4"/>
<circle cx="417.89" cy="185.88" r="2.4"/>
<circle cx="418.42" cy="187.08" r="2.4"/>
<circle cx="418.95" cy="188.45" r="2.4"/>
<circle cx="419.48" cy="187.58" r="2.4"/>
<circle cx="420.02" cy="188.3" r="2.4"/>
<circle cx="420.56" cy="188.87" r="2.4"/>
<circle cx="421.1" cy="190.37" r="2.4"/>
<circle cx="421.65" cy="188.68" r="2.4"/>
<circle cx="422.2" cy="190.6" r="2.4"/>
<circle cx="422.75" cy="191.57" r="2.4"/>
<circle cx="423.3" cy="190.5" r="2.4"/>
<circle cx="423.86" cy="192.35" r="2.4"/>
<circle cx="424.41" cy="191.77" r="2.4"/>
<circle cx="424.98" cy="190.31" r="2.4"/>
<circle cx="425.54" cy="189.12" r="2.4"/>
<circle cx="426.11" cy="185.67" r="2.4"/>
<circle cx="426.68" cy="184.09" r="2.4"/>
<circle cx="427.25" cy="183.93" r="2.4"/>
<circle cx="427.83" cy="180.33" r="2.4"/>
<circle cx="428.41" cy="180.57" r="2.4"/>
<circle cx="428.99" cy="177.52" r="2.4"/>
<circle cx="429.57" cy="176.49" r="2.4"/>
<circle cx="430.16" cy="173.81" r="2.4"/>
<circle cx="430.75" cy="169.95" r="2.4"/>
<circle cx="431.35" cy="169.13" r="2.4"/>
<circle cx="431.95" cy="168.4" r="2.4"/>
<circle cx="432.55" cy="166.6" r="2.4"/>
<circle cx="433.15" cy="165.77" r="2.4"/>
<circle cx="433.76" cy="166.37" r="2.4"/>
<circle cx="434.37" cy="165.03" r="2.4"/>
<circle cx="434.98" cy="163.54" r="2.4"/>
<circle cx="435.6" cy="163.29" r="2.4"/>
<circle cx="436.22" cy="163.26" r="2.4"/>
<circle cx="436.84" cy="161.15" r="2.4"/>
<circle cx="437.47" cy="160.96" r="2.4"/>
<circle cx="438.1" cy="160.28" r="2.4"/>
<circle cx="438.73" cy="158.33" r="2.4"/>
<circle cx="439.37" cy="156.84" r="2.4"/>
<circle cx="440.01" cy="156.14" r="2.4"/>
<circle cx="440.65" cy="156.52" r="2.4"/>
<circle cx="441.3" cy="156.68" r="2.4"/>
<circle cx="441.95" cy="155.82" r="2.4"/>
<circle cx="442.6" cy="155.6" r="2.4"/>
<circle cx="443.26" cy="154.48" r="2.4"/>
<circle cx="443.92" cy="154.55" r="2.4"/>
<circle cx="444.59" cy="153.53" r="2.4"/>
<circle cx="445.26" cy="153.18" r="2.4"/>
<circle cx="445.93" cy="152.08" r="2.4"/>
<circle cx="446.61" cy="151.48" r="2.4"/>
<circle cx="447.29" cy="151.8" r="2.4"/>
<circle cx="447.97" cy="150.88" r="2.4"/>
<circle cx="448.66" cy="150.41" r="2.4"/>
<circle cx="449.35" cy="150.87" r="2.4"/>
<circle cx="450.05" cy="149.41" r="2.4"/>
<circle cx="450.75" cy="150.02" r="2.4"/>
<circle cx="451.45" cy="146.89" r="2.4"/>
<circle cx="452.16" cy="144.24" r="2.4"/>
<circle cx="452.87" cy="143.83" r="2.4"/>
<circle cx="453.59" cy="142.17" r="2.4"/>
<circle cx="454.31" cy="140.1" r="2.4"/>
<circle cx="455.03" cy="140.03" r="2.4"/>
<circle cx="455.76" cy="137.42" r="2.4"/>
<circle cx="456.49" cy="134.52" r="2.4"/>
<circle cx="457.23" cy="135.92" r="2.4"/>
<circle cx="457.97" cy="133.62" r="2.4"/>
<circle cx="458.71" cy="133.77" r="2.4"/>
<circle cx="459.46" cy="130.94" r="2.4"/>
<circle cx="460.22" cy="129.24" r="2.4"/>
<circle cx="460.98" cy="129.81" r="2.4"/>
<circle cx="461.74" cy="126.65" r="2.4"/>
<circle cx="462.51" cy="126.22" r="2.4"/>
<circle cx="463.28" cy="125.79" r="2.4"/>
<circle cx="464.06" cy="123.57" r="2.4"/>
<circle cx="464.84" cy="122.17" r="2.4"/>
<circle cx="465.63" cy="121.05" r="2.4"/>
<circle cx="466.42" cy="120.21" r="2.4"/>
<circle cx="467.21" cy="117.64" r="2.4"/>
<circle cx="468.01" cy="117.22" r="2.4"/>
<circle cx="468.82" cy="115.89" r="2.4"/>
<circle cx="469.63" cy="115.98" r="2.4"/>
<circle cx="470.44" cy="113.25" r="2.4"/>
<circle cx="471.26" cy="112.33" r="2.4"/>
<circle cx="472.09" cy="113.17" r="2.4"/>
<circle cx="472.92" cy="112.09" r="2.4"/>
<circle cx="473.76" cy="112.32" r="2.4"/>
<circle cx="474.6" cy="112" r="2.4"/>
<circle cx="475.44" cy="112.56" r="2.4"/>
<circle cx="476.29" cy="111.18" r="2.4"/>
<circle cx="477.15" cy="111.54" r="2.4"/>
<circle cx="478.01" cy="109.86" r="2.4"/>
<circle cx="478.88" cy="111.17" r="2.4"/>
<circle cx="479.75" cy="113.07" r="2.4"/>
<circle cx="480.63" cy="111.75" r="2.4"/>
<circle cx="481.52" cy="111.96" r="2.4"/>
<circle cx="482.41" cy="111.8" r="2.4"/>
<circle cx="483.3" cy="113.18" r="2.4"/>
<circle cx="484.2" cy="112.9" r="2.4"/>
<circle cx="485.11" cy="111.67" r="2.4"/>
<circle cx="486.03" cy="112.42" r="2.4"/>
<circle cx="486.94" cy="111.38" r="2.4"/>
<circle cx="487.87" cy="110.85" r="2.4"/>
<circle cx="488.8" cy="108.95" r="2.4"/>
<circle cx="489.74" cy="109.73" r="2.4"/>
<circle cx="490.68" cy="108.03" r="2.4"/>
<circle cx="491.63" cy="107.1" r="2.4"/>
<circle cx="492.59" cy="106.55" r="2.4"/>
<circle cx="493.55" cy="106.81" r="2.4"/>
<circle cx="494.52" cy="107.91" r="2.4"/>
<circle cx="495.49" cy="107.63" r="2.4"/>
<circle cx="496.47" cy="109.24" r="2.4"/>
<circle cx="497.46" cy="109.65" r="2.4"/>
<circle cx="498.46" cy="110.97" r="2.4"/>
<circle cx="499.46" cy="111.36" r="2.4"/>
<circle cx="500.47" cy="111.43" r="2.4"/>
<circle cx="501.48" cy="110.79" r="2.4"/>
<circle cx="502.51" cy="113.01" r="2.4"/>
<circle cx="503.54" cy="114.04" r="2.4"/>
<circle cx="504.57" cy="114.32" r="2.4"/>
<circle cx="505.62" cy="115.34" r="2.4"/>
<circle cx="506.67" cy="115.42" r="2.4"/>
<circle cx="507.73" cy="116.34" r="2.4"/>
<circle cx="508.79" cy="117" r="2.4"/>
<circle cx="509.87" cy="119.85" r="2.4"/>
<circle cx="510.95" cy="120.28" r="2.4"/>
<circle cx="512.04" cy="120.97" r="2.4"/>
<circle cx="513.13" cy="121.23" r="2.4"/>
<circle cx="514.24" cy="122.53" r="2.4"/>
<circle cx="515.35" cy="123.96" r="2.4"/>
<circle cx="516.47" cy="123.53" r="2.4"/>
<circle cx="517.6" cy="122.92" r="2.4"/>
<circle cx="518.73" cy="124.69" r="2.4"/>
<circle cx="519.88" cy="125.02" r="2.4"/>
<circle cx="521.03" cy="125.1" r="2.4"/>
<circle cx="522.19" cy="125.41" r="2.4"/>
<circle cx="523.36" cy="126.15" r="2.4"/>
<circle cx="524.54" cy="126.23" r="2.4"/>
<circle cx="525.73" cy="126.92" r="2.4"/>
<circle cx="526.92" cy="126.36" r="2.4"/>
<circle cx="528.13" cy="128.6" r="2.4"/>
<circle cx="529.34" cy="128.5" r="2.4"/>
<circle cx="530.57" cy="130.56" r="2.4"/>
<circle cx="531.8" cy="128.44" r="2.4"/>
<circle cx="533.04" cy="130.89" r="2.4"/>
<circle cx="534.29" cy="131.29" r="2.4"/>
<circle cx="535.55" cy="130.36" r="2.4"/>
<circle cx="536.82" cy="130.92" r="2.4"/>
<circle cx="538.1" cy="131.12" r="2.4"/>
<circle cx="539.39" cy="131" r="2.4"/>
<circle cx="540.69" cy="130.22" r="2.4"/>
<circle cx="542" cy="130.5" r="2.4"/>
<circle cx="543.32" cy="131.46" r="2.4"/>
<circle cx="544.65" cy="131.96" r="2.4"/>
<circle cx="545.99" cy="131.57" r="2.4"/>
<circle cx="547.34" cy="132.03" r="2.4"/>
<circle cx="548.7" cy="132.64" r="2.4"/>
<circle cx="550.08" cy="133.92" r="2.4"/>
<circle cx="551.46" cy="133.23" r="2.4"/>
<circle cx="552.86" cy="133.8" r="2.4"/>
<circle cx="554.26" cy="135.52" r="2.4"/>
<circle cx="555.68" cy="135.47" r="2.4"/>
<circle cx="557.11" cy="136.57" r="2.4"/>
<circle cx="558.55" cy="137.44" r="2.4"/>
<circle cx="560" cy="137.72" r="2.4"/>
<circle cx="561.47" cy="136.55" r="2.4"/>
<circle cx="562.94" cy="137.74" r="2.4"/>
<circle cx="564.43" cy="135.79" r="2.4"/>
<circle cx="565.93" cy="137.25" r="2.4"/>
<circle cx="567.45" cy="135.62" r="2.4"/>
<circle cx="568.97" cy="135.72" r="2.4"/>
<circle cx="570.51" cy="136.95" r="2.4"/>
<circle cx="572.07" cy="136.11" r="2.4"/>
<circle cx="573.63" cy="135.72" r="2.4"/>
<circle cx="575.21" cy="135.84" r="2.4"/>
<circle cx="576.8" cy="136.31" r="2.4"/>
<circle cx="578.41" cy="135.73" r="2.4"/>
<circle cx="580.03" cy="135.46" r="2.4"/>
<circle cx="581.66" cy="135.9" r="2.4"/>
<circle cx="583.31" cy="134.35" r="2.4"/>
<circle cx="584.97" cy="134.25" r="2.4"/>
<circle cx="586.65" cy="134.01" r="2.4"/>
<circle cx="588.34" cy="134.98" r="2.4"/>
<circle cx="590.05" cy="134.66" r="2.4"/>
<circle cx="591.77" cy="134.71" r="2.4"/>
<circle cx="593.51" cy="133.69" r="2.4"/>
<circle cx="595.26" cy="133.68" r="2.4"/>
<circle cx="597.03" cy="135.11" r="2.4"/>
<circle cx="598.82" cy="135.29" r="2.4"/>
<circle cx="600.62" cy="137.04" r="2.4"/>
<circle cx="602.44" cy="137.2" r="2.4"/>
<circle cx="604.27" cy="136.14" r="2.4"/>
<circle cx="606.12" cy="136.43" r="2.4"/>
<circle cx="607.99" cy="136.15" r="2.4"/>
<circle cx="609.88" cy="136.95" r="2.4"/>
<circle cx="611.78" cy="135.04" r="2.4"/>
<circle cx="613.7" cy="127.98" r="2.4"/>
<circle cx="615.64" cy="124.14" r="2.4"/>
<circle cx="617.6" cy="118.58" r="2.4"/>
<circle cx="619.58" cy="115.2" r="2.4"/>
<circle cx="621.57" cy="108.82" r="2.4"/>
<circle cx="623.59" cy="100.84" r="2.4"/>
<circle cx="625.62" cy="93.56" r="2.4"/>
<circle cx="627.68" cy="82.91" r="2.4"/>
<circle cx="629.75" cy="79.77" r="2.4"/>
<circle cx="631.85" cy="78.94" r="2.4"/>
<circle cx="633.96" cy="77.53" r="2.4"/>
<circle cx="636.1" cy="86.29" r="2.4"/>
<circle cx="638.26" cy="98.14" r="2.4"/>
<circle cx="640.44" cy="115.87" r="2.4"/>
<circle cx="642.64" cy="130.76" r="2.4"/>
<circle cx="644.86" cy="149.95" r="2.4"/>
<circle cx="647.11" cy="166.41" r="2.4"/>
<circle cx="649.38" cy="175.67" r="2.4"/>
<circle cx="651.67" cy="185.96" r="2.4"/>
<circle cx="653.99" cy="191.52" r="2.4"/>
<circle cx="656.33" cy="193.88" r="2.4"/>
<circle cx="658.69" cy="195.04" r="2.4"/>
<circle cx="661.08" cy="194.29" r="2.4"/>
<circle cx="663.5" cy="195.62" r="2.4"/>
<circle cx="665.94" cy="196.02" r="2.4"/>
<circle cx="668.41" cy="196.21" r="2.4"/>
<circle cx="670.9" cy="197.35" r="2.4"/>
</g>
<rect x="403.8" y="8.5" width="267.2" height="210.9" fill="none" stroke="#000" stroke-width="1.4"/>
<path d="M403.8 219.4v-7M403.8 8.5v7M417.16 219.4v-3.6M417.16 8.5v3.6M430.52 219.4v-3.6M430.52 8.5v3.6M443.88 219.4v-3.6M443.88 8.5v3.6M457.24 219.4v-3.6M457.24 8.5v3.6M470.6 219.4v-7M470.6 8.5v7M483.96 219.4v-3.6M483.96 8.5v3.6M497.32 219.4v-3.6M497.32 8.5v3.6M510.68 219.4v-3.6M510.68 8.5v3.6M524.04 219.4v-3.6M524.04 8.5v3.6M537.4 219.4v-7M537.4 8.5v7M550.76 219.4v-3.6M550.76 8.5v3.6M564.12 219.4v-3.6M564.12 8.5v3.6M577.48 219.4v-3.6M577.48 8.5v3.6M590.84 219.4v-3.6M590.84 8.5v3.6M604.2 219.4v-7M604.2 8.5v7M617.56 219.4v-3.6M617.56 8.5v3.6M630.92 219.4v-3.6M630.92 8.5v3.6M644.28 219.4v-3.6M644.28 8.5v3.6M657.64 219.4v-3.6M657.64 8.5v3.6M671 219.4v-7M671 8.5v7M403.8 219.4h7M671 219.4h-7M403.8 198.31h3.6M671 198.31h-3.6M403.8 177.22h3.6M671 177.22h-3.6M403.8 156.13h3.6M671 156.13h-3.6M403.8 135.04h3.6M671 135.04h-3.6M403.8 113.95h7M671 113.95h-7M403.8 92.86h3.6M671 92.86h-3.6M403.8 71.77h3.6M671 71.77h-3.6M403.8 50.68h3.6M671 50.68h-3.6M403.8 29.59h3.6M671 29.59h-3.6M403.8 8.5h7M671 8.5h-7" stroke="#000" stroke-width="1.3" fill="none"/>
<g fill="none" stroke-width="1.45" stroke-dasharray="8 3 2 3" clip-path="url(#clipb)">
<path stroke="#ff0000" d="M604.7 218.36 L605.37 218.1 L606.04 217.79 L606.71 217.42 L607.38 216.97 L608.05 216.44 L608.72 215.81 L609.39 215.08 L610.06 214.23 L610.73 213.24 L611.4 212.1 L612.07 210.8 L612.74 209.33 L613.41 207.67 L614.08 205.81 L614.75 203.75 L615.42 201.47 L616.09 198.98 L616.76 196.27 L617.43 193.35 L618.1 190.23 L618.77 186.91 L619.44 183.42 L620.1 179.77 L620.77 176 L621.44 172.13 L622.11 168.2 L622.78 164.26 L623.45 160.35 L624.12 156.51 L624.79 152.8 L625.46 149.26 L626.13 145.95 L626.8 142.91 L627.47 140.18 L628.14 137.82 L628.81 135.86 L629.48 134.33 L630.15 133.25 L630.82 132.65 L631.49 132.52 L632.16 132.89 L632.83 133.73 L633.5 135.04 L634.17 136.8 L634.84 138.96 L635.51 141.51 L636.18 144.4 L636.85 147.58 L637.52 151.02 L638.19 154.65 L638.86 158.43 L639.53 162.31 L640.19 166.24 L640.86 170.18 L641.53 174.08 L642.2 177.91 L642.87 181.62 L643.54 185.19 L644.21 188.6 L644.88 191.83 L645.55 194.85 L646.22 197.66 L646.89 200.26 L647.56 202.64 L648.23 204.81 L648.9 206.77 L649.57 208.53 L650.24 210.09 L650.91 211.47 L651.58 212.69 L652.25 213.75 L652.92 214.67 L653.59 215.46 L654.26 216.14 L654.93 216.72 L655.6 217.2 L656.27 217.61 L656.94 217.95 L657.61 218.23 L658.28 218.47 L658.95 218.66 L659.62 218.81 L660.29 218.94 L660.95 219.04 L661.62 219.12 L662.29 219.18 L662.96 219.23"/>
<path stroke="#ff00ff" d="M403.8 218.85 L404.47 218.83 L405.14 218.81 L405.81 218.78 L406.48 218.76 L407.15 218.74 L407.82 218.71 L408.49 218.69 L409.16 218.66 L409.83 218.63 L410.5 218.6 L411.17 218.57 L411.84 218.54 L412.51 218.51 L413.18 218.48 L413.85 218.45 L414.51 218.41 L415.18 218.38 L415.85 218.34 L416.52 218.3 L417.19 218.26 L417.86 218.22 L418.53 218.18 L419.2 218.14 L419.87 218.1 L420.54 218.05 L421.21 218 L421.88 217.95 L422.55 217.9 L423.22 217.85 L423.89 217.8 L424.56 217.75 L425.23 217.69 L425.9 217.63 L426.57 217.57 L427.24 217.51 L427.91 217.45 L428.58 217.39 L429.25 217.32 L429.92 217.25 L430.59 217.18 L431.26 217.11 L431.93 217.04 L432.6 216.96 L433.27 216.88 L433.94 216.8 L434.61 216.72 L435.27 216.63 L435.94 216.55 L436.61 216.46 L437.28 216.37 L437.95 216.27 L438.62 216.18 L439.29 216.08 L439.96 215.97 L440.63 215.87 L441.3 215.76 L441.97 215.65 L442.64 215.54 L443.31 215.43 L443.98 215.31 L444.65 215.19 L445.32 215.06 L445.99 214.94 L446.66 214.81 L447.33 214.67 L448 214.54 L448.67 214.4 L449.34 214.26 L450.01 214.11 L450.68 213.96 L451.35 213.81 L452.02 213.65 L452.69 213.49 L453.36 213.33 L454.03 213.16 L454.7 212.99 L455.36 212.82 L456.03 212.64 L456.7 212.45 L457.37 212.27 L458.04 212.08 L458.71 211.88 L459.38 211.69 L460.05 211.48 L460.72 211.28 L461.39 211.07 L462.06 210.85 L462.73 210.63 L463.4 210.41 L464.07 210.18 L464.74 209.95 L465.41 209.71 L466.08 209.47 L466.75 209.23 L467.42 208.98 L468.09 208.72 L468.76 208.46 L469.43 208.2 L470.1 207.93 L470.77 207.66 L471.44 207.38 L472.11 207.09 L472.78 206.81 L473.45 206.51 L474.12 206.21 L474.79 205.91 L475.46 205.6 L476.12 205.29 L476.79 204.97 L477.46 204.65 L478.13 204.32 L478.8 203.98 L479.47 203.65 L480.14 203.3 L480.81 202.95 L481.48 202.6 L482.15 202.24 L482.82 201.87 L483.49 201.5 L484.16 201.13 L484.83 200.75 L485.5 200.36 L486.17 199.97 L486.84 199.57 L487.51 199.17 L488.18 198.77 L488.85 198.35 L489.52 197.94 L490.19 197.51 L490.86 197.09 L491.53 196.65 L492.2 196.22 L492.87 195.77 L493.54 195.33 L494.21 194.87 L494.88 194.42 L495.55 193.95 L496.22 193.49 L496.88 193.01 L497.55 192.54 L498.22 192.05 L498.89 191.57 L499.56 191.08 L500.23 190.58 L500.9 190.08 L501.57 189.57 L502.24 189.07 L502.91 188.55 L503.58 188.03 L504.25 187.51 L504.92 186.99 L505.59 186.46 L506.26 185.92 L506.93 185.38 L507.6 184.84 L508.27 184.3 L508.94 183.75 L509.61 183.2 L510.28 182.64 L510.95 182.08 L511.62 181.52 L512.29 180.95 L512.96 180.39 L513.63 179.82 L514.3 179.24 L514.97 178.67 L515.64 178.09 L516.31 177.51 L516.97 176.93 L517.64 176.34 L518.31 175.75 L518.98 175.17 L519.65 174.58 L520.32 173.99 L520.99 173.39 L521.66 172.8 L522.33 172.2 L523 171.61 L523.67 171.01 L524.34 170.42 L525.01 169.82 L525.68 169.22 L526.35 168.63 L527.02 168.03 L527.69 167.43 L528.36 166.84 L529.03 166.24 L529.7 165.65 L530.37 165.05 L531.04 164.46 L531.71 163.87 L532.38 163.28 L533.05 162.7 L533.72 162.11 L534.39 161.53 L535.06 160.95 L535.73 160.37 L536.4 159.79 L537.07 159.22 L537.73 158.65 L538.4 158.08 L539.07 157.52 L539.74 156.96 L540.41 156.41 L541.08 155.86 L541.75 155.31 L542.42 154.77 L543.09 154.23 L543.76 153.7 L544.43 153.17 L545.1 152.65 L545.77 152.13 L546.44 151.62 L547.11 151.11 L547.78 150.61 L548.45 150.12 L549.12 149.63 L549.79 149.15 L550.46 148.68 L551.13 148.21 L551.8 147.75 L552.47 147.3 L553.14 146.85 L553.81 146.41 L554.48 145.98 L555.15 145.56 L555.82 145.15 L556.49 144.74 L557.16 144.35 L557.83 143.96 L558.49 143.58 L559.16 143.21 L559.83 142.84 L560.5 142.49 L561.17 142.15 L561.84 141.81 L562.51 141.49 L563.18 141.18 L563.85 140.87 L564.52 140.58 L565.19 140.29 L565.86 140.02 L566.53 139.75 L567.2 139.5 L567.87 139.26 L568.54 139.02 L569.21 138.8 L569.88 138.59 L570.55 138.39 L571.22 138.2 L571.89 138.02 L572.56 137.86 L573.23 137.7 L573.9 137.56 L574.57 137.42 L575.24 137.3 L575.91 137.19 L576.58 137.1 L577.25 137.01 L577.92 136.93 L578.58 136.87 L579.25 136.82 L579.92 136.78 L580.59 136.75 L581.26 136.73 L581.93 136.73 L582.6 136.73 L583.27 136.75 L583.94 136.78 L584.61 136.82 L585.28 136.88 L585.95 136.94 L586.62 137.02 L587.29 137.11 L587.96 137.21 L588.63 137.32 L589.3 137.44 L589.97 137.58 L590.64 137.72 L591.31 137.88 L591.98 138.05 L592.65 138.23 L593.32 138.42 L593.99 138.62 L594.66 138.83 L595.33 139.05 L596 139.29 L596.67 139.53 L597.34 139.79 L598.01 140.05 L598.68 140.33 L599.34 140.61 L600.01 140.91 L600.68 141.22 L601.35 141.53 L602.02 141.86 L602.69 142.19 L603.36 142.54 L604.03 142.89 L604.7 143.26 L605.37 143.63 L606.04 144.01 L606.71 144.4 L607.38 144.8 L608.05 145.2 L608.72 145.62 L609.39 146.04 L610.06 146.47 L610.73 146.91 L611.4 147.36 L612.07 147.81 L612.74 148.27 L613.41 148.74 L614.08 149.22 L614.75 149.7 L615.42 150.18 L616.09 150.68 L616.76 151.18 L617.43 151.69 L618.1 152.2 L618.77 152.72 L619.44 153.24 L620.1 153.77 L620.77 154.3 L621.44 154.84 L622.11 155.38 L622.78 155.93 L623.45 156.48 L624.12 157.04 L624.79 157.6 L625.46 158.16 L626.13 158.73 L626.8 159.3 L627.47 159.87 L628.14 160.44 L628.81 161.02 L629.48 161.6 L630.15 162.19 L630.82 162.77 L631.49 163.36 L632.16 163.95 L632.83 164.54 L633.5 165.13 L634.17 165.73 L634.84 166.32 L635.51 166.92 L636.18 167.51 L636.85 168.11 L637.52 168.71 L638.19 169.3 L638.86 169.9 L639.53 170.5 L640.19 171.09 L640.86 171.69 L641.53 172.28 L642.2 172.88 L642.87 173.47 L643.54 174.06 L644.21 174.66 L644.88 175.24 L645.55 175.83 L646.22 176.42 L646.89 177 L647.56 177.59 L648.23 178.17 L648.9 178.74 L649.57 179.32 L650.24 179.89 L650.91 180.46 L651.58 181.03 L652.25 181.59 L652.92 182.16 L653.59 182.71 L654.26 183.27 L654.93 183.82 L655.6 184.37 L656.27 184.91 L656.94 185.46 L657.61 185.99 L658.28 186.53 L658.95 187.06 L659.62 187.58 L660.29 188.1 L660.95 188.62 L661.62 189.13 L662.29 189.64 L662.96 190.15 L663.63 190.65 L664.3 191.14 L664.97 191.63 L665.64 192.12 L666.31 192.6 L666.98 193.08 L667.65 193.55 L668.32 194.01 L668.99 194.48 L669.66 194.93 L670.33 195.39 L671 195.83"/>
<path stroke="#0000ff" d="M403.8 206.96 L404.47 206.5 L405.14 206.04 L405.81 205.56 L406.48 205.06 L407.15 204.56 L407.82 204.04 L408.49 203.51 L409.16 202.96 L409.83 202.41 L410.5 201.83 L411.17 201.25 L411.84 200.65 L412.51 200.04 L413.18 199.42 L413.85 198.78 L414.51 198.13 L415.18 197.46 L415.85 196.79 L416.52 196.1 L417.19 195.39 L417.86 194.67 L418.53 193.94 L419.2 193.2 L419.87 192.44 L420.54 191.67 L421.21 190.89 L421.88 190.09 L422.55 189.29 L423.22 188.47 L423.89 187.63 L424.56 186.79 L425.23 185.93 L425.9 185.07 L426.57 184.19 L427.24 183.3 L427.91 182.4 L428.58 181.5 L429.25 180.58 L429.92 179.65 L430.59 178.71 L431.26 177.77 L431.93 176.82 L432.6 175.85 L433.27 174.89 L433.94 173.91 L434.61 172.93 L435.27 171.95 L435.94 170.95 L436.61 169.96 L437.28 168.96 L437.95 167.95 L438.62 166.95 L439.29 165.94 L439.96 164.93 L440.63 163.91 L441.3 162.9 L441.97 161.89 L442.64 160.88 L443.31 159.87 L443.98 158.86 L444.65 157.85 L445.32 156.85 L445.99 155.86 L446.66 154.87 L447.33 153.88 L448 152.9 L448.67 151.93 L449.34 150.97 L450.01 150.01 L450.68 149.07 L451.35 148.13 L452.02 147.21 L452.69 146.29 L453.36 145.4 L454.03 144.51 L454.7 143.64 L455.36 142.78 L456.03 141.94 L456.7 141.11 L457.37 140.3 L458.04 139.51 L458.71 138.74 L459.38 137.98 L460.05 137.25 L460.72 136.53 L461.39 135.84 L462.06 135.17 L462.73 134.52 L463.4 133.89 L464.07 133.29 L464.74 132.71 L465.41 132.16 L466.08 131.63 L466.75 131.12 L467.42 130.64 L468.09 130.19 L468.76 129.77 L469.43 129.37 L470.1 129 L470.77 128.66 L471.44 128.34 L472.11 128.06 L472.78 127.8 L473.45 127.58 L474.12 127.38 L474.79 127.21 L475.46 127.07 L476.12 126.96 L476.79 126.88 L477.46 126.83 L478.13 126.82 L478.8 126.83 L479.47 126.87 L480.14 126.94 L480.81 127.04 L481.48 127.17 L482.15 127.33 L482.82 127.52 L483.49 127.74 L484.16 127.99 L484.83 128.27 L485.5 128.58 L486.17 128.91 L486.84 129.28 L487.51 129.67 L488.18 130.09 L488.85 130.53 L489.52 131 L490.19 131.5 L490.86 132.03 L491.53 132.57 L492.2 133.15 L492.87 133.75 L493.54 134.37 L494.21 135.01 L494.88 135.68 L495.55 136.36 L496.22 137.07 L496.88 137.8 L497.55 138.55 L498.22 139.32 L498.89 140.11 L499.56 140.91 L500.23 141.73 L500.9 142.57 L501.57 143.43 L502.24 144.3 L502.91 145.18 L503.58 146.08 L504.25 146.98 L504.92 147.91 L505.59 148.84 L506.26 149.78 L506.93 150.73 L507.6 151.69 L508.27 152.66 L508.94 153.64 L509.61 154.63 L510.28 155.62 L510.95 156.61 L511.62 157.61 L512.29 158.62 L512.96 159.62 L513.63 160.63 L514.3 161.64 L514.97 162.65 L515.64 163.67 L516.31 164.68 L516.97 165.69 L517.64 166.7 L518.31 167.71 L518.98 168.71 L519.65 169.71 L520.32 170.71 L520.99 171.7 L521.66 172.69 L522.33 173.67 L523 174.65 L523.67 175.62 L524.34 176.58 L525.01 177.54 L525.68 178.48 L526.35 179.42 L527.02 180.35 L527.69 181.27 L528.36 182.18 L529.03 183.09 L529.7 183.98 L530.37 184.86 L531.04 185.73 L531.71 186.58 L532.38 187.43 L533.05 188.26 L533.72 189.09 L534.39 189.9 L535.06 190.7 L535.73 191.48 L536.4 192.25 L537.07 193.02 L537.73 193.76 L538.4 194.5 L539.07 195.22 L539.74 195.93 L540.41 196.62 L541.08 197.3 L541.75 197.97 L542.42 198.62 L543.09 199.26 L543.76 199.89 L544.43 200.51 L545.1 201.11 L545.77 201.69 L546.44 202.27 L547.11 202.83 L547.78 203.38 L548.45 203.91 L549.12 204.43 L549.79 204.94 L550.46 205.44 L551.13 205.92 L551.8 206.39 L552.47 206.85 L553.14 207.3 L553.81 207.73 L554.48 208.15 L555.15 208.56 L555.82 208.96 L556.49 209.35 L557.16 209.73 L557.83 210.09 L558.49 210.45 L559.16 210.79 L559.83 211.12 L560.5 211.45 L561.17 211.76 L561.84 212.06 L562.51 212.35 L563.18 212.64 L563.85 212.91 L564.52 213.18 L565.19 213.43 L565.86 213.68 L566.53 213.92 L567.2 214.15 L567.87 214.37 L568.54 214.59 L569.21 214.8 L569.88 215 L570.55 215.19 L571.22 215.37 L571.89 215.55 L572.56 215.72 L573.23 215.89 L573.9 216.05 L574.57 216.2 L575.24 216.35 L575.91 216.49 L576.58 216.62 L577.25 216.75 L577.92 216.88 L578.58 217 L579.25 217.11 L579.92 217.22 L580.59 217.33 L581.26 217.43 L581.93 217.52 L582.6 217.62 L583.27 217.71 L583.94 217.79 L584.61 217.87 L585.28 217.95 L585.95 218.02 L586.62 218.09 L587.29 218.16 L587.96 218.22 L588.63 218.28 L589.3 218.34 L589.97 218.4 L590.64 218.45 L591.31 218.5 L591.98 218.55 L592.65 218.6 L593.32 218.64 L593.99 218.68 L594.66 218.72 L595.33 218.76 L596 218.79"/>
<path stroke="#ff8000" d="M403.8 206.41 L404.47 205.93 L405.14 205.44 L405.81 204.94 L406.48 204.42 L407.15 203.89 L407.82 203.35 L408.49 202.79 L409.16 202.22 L409.83 201.64 L410.5 201.04 L411.17 200.42 L411.84 199.8 L412.51 199.15 L413.18 198.5 L413.85 197.83 L414.51 197.14 L415.18 196.44 L415.85 195.73 L416.52 195 L417.19 194.25 L417.86 193.5 L418.53 192.72 L419.2 191.94 L419.87 191.14 L420.54 190.32 L421.21 189.49 L421.88 188.65 L422.55 187.79 L423.22 186.92 L423.89 186.03 L424.56 185.14 L425.23 184.23 L425.9 183.3 L426.57 182.36 L427.24 181.42 L427.91 180.45 L428.58 179.48 L429.25 178.5 L429.92 177.5 L430.59 176.5 L431.26 175.48 L431.93 174.45 L432.6 173.41 L433.27 172.37 L433.94 171.31 L434.61 170.25 L435.27 169.18 L435.94 168.1 L436.61 167.01 L437.28 165.92 L437.95 164.82 L438.62 163.72 L439.29 162.61 L439.96 161.5 L440.63 160.38 L441.3 159.26 L441.97 158.14 L442.64 157.02 L443.31 155.89 L443.98 154.77 L444.65 153.64 L445.32 152.52 L445.99 151.39 L446.66 150.27 L447.33 149.15 L448 148.04 L448.67 146.93 L449.34 145.82 L450.01 144.72 L450.68 143.63 L451.35 142.54 L452.02 141.46 L452.69 140.39 L453.36 139.32 L454.03 138.27 L454.7 137.23 L455.36 136.19 L456.03 135.17 L456.7 134.17 L457.37 133.17 L458.04 132.19 L458.71 131.22 L459.38 130.27 L460.05 129.33 L460.72 128.41 L461.39 127.51 L462.06 126.62 L462.73 125.76 L463.4 124.91 L464.07 124.07 L464.74 123.26 L465.41 122.47 L466.08 121.7 L466.75 120.95 L467.42 120.22 L468.09 119.52 L468.76 118.83 L469.43 118.17 L470.1 117.53 L470.77 116.91 L471.44 116.32 L472.11 115.75 L472.78 115.21 L473.45 114.69 L474.12 114.19 L474.79 113.72 L475.46 113.27 L476.12 112.85 L476.79 112.45 L477.46 112.08 L478.13 111.73 L478.8 111.41 L479.47 111.11 L480.14 110.84 L480.81 110.59 L481.48 110.37 L482.15 110.17 L482.82 110 L483.49 109.85 L484.16 109.72 L484.83 109.62 L485.5 109.54 L486.17 109.48 L486.84 109.45 L487.51 109.44 L488.18 109.45 L488.85 109.49 L489.52 109.54 L490.19 109.62 L490.86 109.71 L491.53 109.83 L492.2 109.96 L492.87 110.12 L493.54 110.29 L494.21 110.48 L494.88 110.69 L495.55 110.92 L496.22 111.16 L496.88 111.42 L497.55 111.69 L498.22 111.97 L498.89 112.28 L499.56 112.59 L500.23 112.91 L500.9 113.25 L501.57 113.6 L502.24 113.96 L502.91 114.33 L503.58 114.71 L504.25 115.1 L504.92 115.49 L505.59 115.89 L506.26 116.3 L506.93 116.72 L507.6 117.14 L508.27 117.56 L508.94 117.99 L509.61 118.42 L510.28 118.86 L510.95 119.29 L511.62 119.73 L512.29 120.17 L512.96 120.61 L513.63 121.05 L514.3 121.49 L514.97 121.92 L515.64 122.36 L516.31 122.79 L516.97 123.22 L517.64 123.64 L518.31 124.06 L518.98 124.48 L519.65 124.89 L520.32 125.3 L520.99 125.7 L521.66 126.09 L522.33 126.48 L523 126.86 L523.67 127.23 L524.34 127.6 L525.01 127.96 L525.68 128.31 L526.35 128.65 L527.02 128.98 L527.69 129.31 L528.36 129.62 L529.03 129.93 L529.7 130.22 L530.37 130.51 L531.04 130.79 L531.71 131.05 L532.38 131.31 L533.05 131.56 L533.72 131.8 L534.39 132.02 L535.06 132.24 L535.73 132.45 L536.4 132.65 L537.07 132.83 L537.73 133.01 L538.4 133.18 L539.07 133.34 L539.74 133.49 L540.41 133.63 L541.08 133.76 L541.75 133.88 L542.42 133.99 L543.09 134.09 L543.76 134.19 L544.43 134.28 L545.1 134.35 L545.77 134.42 L546.44 134.49 L547.11 134.54 L547.78 134.59 L548.45 134.63 L549.12 134.67 L549.79 134.69 L550.46 134.72 L551.13 134.73 L551.8 134.74 L552.47 134.75 L553.14 134.75 L553.81 134.75 L554.48 134.74 L555.15 134.73 L555.82 134.71 L556.49 134.69 L557.16 134.67 L557.83 134.65 L558.49 134.62 L559.16 134.6 L559.83 134.57 L560.5 134.54 L561.17 134.51 L561.84 134.48 L562.51 134.44 L563.18 134.41 L563.85 134.38 L564.52 134.35 L565.19 134.32 L565.86 134.3 L566.53 134.27 L567.2 134.25 L567.87 134.23 L568.54 134.21 L569.21 134.2 L569.88 134.19 L570.55 134.18 L571.22 134.17 L571.89 134.18 L572.56 134.18 L573.23 134.19 L573.9 134.2 L574.57 134.22 L575.24 134.25 L575.91 134.28 L576.58 134.32 L577.25 134.36 L577.92 134.41 L578.58 134.47 L579.25 134.53 L579.92 134.6 L580.59 134.68 L581.26 134.76 L581.93 134.85 L582.6 134.95 L583.27 135.06 L583.94 135.17 L584.61 135.29 L585.28 135.43 L585.95 135.56 L586.62 135.71 L587.29 135.87 L587.96 136.03 L588.63 136.2 L589.3 136.38 L589.97 136.57 L590.64 136.77 L591.31 136.98 L591.98 137.19 L592.65 137.41 L593.32 137.65 L593.99 137.88 L594.66 138.13 L595.33 138.38 L596 138.64 L596.67 138.91 L597.34 139.18 L598.01 139.46 L598.68 139.73 L599.34 140.01 L600.01 140.29 L600.68 140.57 L601.35 140.83 L602.02 141.09 L602.69 141.33 L603.36 141.56 L604.03 141.76 L604.7 141.93 L605.37 142.06 L606.04 142.15 L606.71 142.18 L607.38 142.15 L608.05 142.04 L608.72 141.84 L609.39 141.54 L610.06 141.13 L610.73 140.59 L611.4 139.91 L612.07 139.07 L612.74 138.07 L613.41 136.89 L614.08 135.51 L614.75 133.94 L615.42 132.16 L616.09 130.17 L616.76 127.97 L617.43 125.56 L618.1 122.95 L618.77 120.15 L619.44 117.19 L620.1 114.07 L620.77 110.84 L621.44 107.51 L622.11 104.14 L622.78 100.75 L623.45 97.39 L624.12 94.11 L624.79 90.96 L625.46 87.99 L626.13 85.24 L626.8 82.77 L627.47 80.62 L628.14 78.84 L628.81 77.46 L629.48 76.51 L630.15 76.02 L630.82 76 L631.49 76.47 L632.16 77.42 L632.83 78.86 L633.5 80.76 L634.17 83.11 L634.84 85.87 L635.51 89.02 L636.18 92.5 L636.85 96.28 L637.52 100.31 L638.19 104.54 L638.86 108.92 L639.53 113.4 L640.19 117.93 L640.86 122.46 L641.53 126.96 L642.2 131.38 L642.87 135.69 L643.54 139.85 L644.21 143.85 L644.88 147.67 L645.55 151.28 L646.22 154.68 L646.89 157.86 L647.56 160.83 L648.23 163.58 L648.9 166.11 L649.57 168.44 L650.24 170.58 L650.91 172.54 L651.58 174.32 L652.25 175.94 L652.92 177.43 L653.59 178.78 L654.26 180.01 L654.93 181.14 L655.6 182.17 L656.27 183.13 L656.94 184.01 L657.61 184.83 L658.28 185.59 L658.95 186.31 L659.62 186.99 L660.29 187.64 L660.95 188.26 L661.62 188.85 L662.29 189.42 L662.96 189.98 L663.63 190.52 L664.3 191.04 L664.97 191.56 L665.64 192.06 L666.31 192.56 L666.98 193.04 L667.65 193.52 L668.32 194 L668.99 194.46 L669.66 194.92 L670.33 195.38 L671 195.83"/>
</g>
<g font-family="Liberation Sans" font-size="17.3" fill="#000" stroke="#000" stroke-width="0.35">
<text x="403.8" y="240.6" text-anchor="middle">1.5</text>
<text x="470.6" y="240.6" text-anchor="middle">2.0</text>
<text x="537.4" y="240.6" text-anchor="middle">2.5</text>
<text x="604.2" y="240.6" text-anchor="middle">3.0</text>
<text x="671" y="240.6" text-anchor="middle">3.5</text>
<text x="395.3" y="224.6" text-anchor="end">0.0</text>
<text x="395.3" y="119.15" text-anchor="end">0.5</text>
<text x="395.3" y="13.7" text-anchor="end">1.0</text>
</g>
<text x="408.6" y="35" font-family="Liberation Serif" font-size="26" fill="#000">(b)</text>
<text x="538.2" y="259.7" text-anchor="middle" font-family="Liberation Serif" font-weight="bold" font-size="19.8" fill="#000">Energy(eV)</text>
<text transform="translate(365.3 113.3) rotate(-90)" text-anchor="middle" font-family="Liberation Serif" font-weight="bold" font-size="19.2" fill="#000">IL Intensity(×10<tspan dy="-10.5" font-size="10">4</tspan><tspan dy="10.5">a.u./eV)</tspan></text>
<g font-family="Liberation Sans" font-size="15.5" fill="#000" stroke="#000" stroke-width="0.3">
<text transform="translate(565.6 33.2) scale(1 1.06)">5s</text>
<text transform="translate(565.6 52.1) scale(1 1.06)">3.20eV</text>
<line x1="525.8" y1="46.8" x2="561.9" y2="46.8" stroke="#ff0000" stroke-width="1.3" stroke-dasharray="8 3 2 3"/>
<text transform="translate(565.6 71.4) scale(1 1.06)">2.84eV</text>
<line x1="525.8" y1="66.1" x2="561.9" y2="66.1" stroke="#ff00ff" stroke-width="1.3" stroke-dasharray="8 3 2 3"/>
<text transform="translate(565.6 90.7) scale(1 1.06)">2.06eV</text>
<line x1="525.8" y1="85.4" x2="561.9" y2="85.4" stroke="#0000ff" stroke-width="1.3" stroke-dasharray="8 3 2 3"/>
<text transform="translate(565.6 110) scale(1 1.06)">Cumu.</text>
<line x1="525.8" y1="104.7" x2="561.9" y2="104.7" stroke="#ff8000" stroke-width="1.3" stroke-dasharray="8 3 2 3"/>
</g>
<g fill="#fff" stroke="#555" stroke-width="0.9"><circle cx="543.85" cy="27.9" r="2.4"/></g>
<clipPath id="clipc"><rect x="58.2" y="283.7" width="267.1" height="211.8"/></clipPath>
<g fill="#fff" stroke="#222" stroke-width="1.0">
<path d="M58.88 472.16L62.08 475.36L58.88 478.56L55.68 475.36Z"/>
<path d="M59.34 471.04L62.54 474.24L59.34 477.44L56.14 474.24Z"/>
<path d="M59.81 469L63.01 472.2L59.81 475.4L56.61 472.2Z"/>
<path d="M60.28 469.79L63.48 472.99L60.28 476.19L57.08 472.99Z"/>
<path d="M60.75 468.57L63.95 471.77L60.75 474.97L57.55 471.77Z"/>
<path d="M61.22 468.99L64.42 472.19L61.22 475.39L58.02 472.19Z"/>
<path d="M61.7 467.27L64.9 470.47L61.7 473.67L58.5 470.47Z"/>
<path d="M62.17 466.94L65.37 470.14L62.17 473.34L58.97 470.14Z"/>
<path d="M62.65 466.16L65.85 469.36L62.65 472.56L59.45 469.36Z"/>
<path d="M63.14 466.48L66.34 469.68L63.14 472.88L59.94 469.68Z"/>
<path d="M63.62 464.8L66.82 468L63.62 471.2L60.42 468Z"/>
<path d="M64.11 463.86L67.31 467.06L64.11 470.26L60.91 467.06Z"/>
<path d="M64.6 463.66L67.8 466.86L64.6 470.06L61.4 466.86Z"/>
<path d="M65.09 462.54L68.29 465.74L65.09 468.94L61.89 465.74Z"/>
<path d="M65.58 462.39L68.78 465.59L65.58 468.79L62.38 465.59Z"/>
<path d="M66.08 461.71L69.28 464.91L66.08 468.11L62.88 464.91Z"/>
<path d="M66.58 461.34L69.78 464.54L66.58 467.74L63.38 464.54Z"/>
<path d="M67.08 461.93L70.28 465.13L67.08 468.33L63.88 465.13Z"/>
<path d="M67.58 459.74L70.78 462.94L67.58 466.14L64.38 462.94Z"/>
<path d="M68.09 459.51L71.29 462.71L68.09 465.91L64.89 462.71Z"/>
<path d="M68.59 458.83L71.79 462.03L68.59 465.23L65.39 462.03Z"/>
<path d="M69.1 458.96L72.3 462.16L69.1 465.36L65.9 462.16Z"/>
<path d="M69.62 457.24L72.82 460.44L69.62 463.64L66.42 460.44Z"/>
<path d="M70.13 457.23L73.33 460.43L70.13 463.63L66.93 460.43Z"/>
<path d="M70.65 457.33L73.85 460.53L70.65 463.73L67.45 460.53Z"/>
<path d="M71.17 457.39L74.37 460.59L71.17 463.79L67.97 460.59Z"/>
<path d="M71.7 456.66L74.9 459.86L71.7 463.06L68.5 459.86Z"/>
<path d="M72.22 456.1L75.42 459.3L72.22 462.5L69.02 459.3Z"/>
<path d="M72.75 455.71L75.95 458.91L72.75 462.11L69.55 458.91Z"/>
<path d="M73.28 456.68L76.48 459.88L73.28 463.08L70.08 459.88Z"/>
<path d="M73.81 457.43L77.01 460.63L73.81 463.83L70.61 460.63Z"/>
<path d="M74.35 456.81L77.55 460.01L74.35 463.21L71.15 460.01Z"/>
<path d="M74.89 456.86L78.09 460.06L74.89 463.26L71.69 460.06Z"/>
<path d="M75.43 457.11L78.63 460.31L75.43 463.51L72.23 460.31Z"/>
<path d="M75.98 455.78L79.18 458.98L75.98 462.18L72.78 458.98Z"/>
<path d="M76.52 455.14L79.72 458.34L76.52 461.54L73.32 458.34Z"/>
<path d="M77.07 453.73L80.27 456.93L77.07 460.13L73.87 456.93Z"/>
<path d="M77.63 452.69L80.83 455.89L77.63 459.09L74.43 455.89Z"/>
<path d="M78.18 450.81L81.38 454.01L78.18 457.21L74.98 454.01Z"/>
<path d="M78.74 448.1L81.94 451.3L78.74 454.5L75.54 451.3Z"/>
<path d="M79.3 447.83L82.5 451.03L79.3 454.23L76.1 451.03Z"/>
<path d="M79.86 446.51L83.06 449.71L79.86 452.91L76.66 449.71Z"/>
<path d="M80.43 443.55L83.63 446.75L80.43 449.95L77.23 446.75Z"/>
<path d="M81 442.47L84.2 445.67L81 448.87L77.8 445.67Z"/>
<path d="M81.57 440.88L84.77 444.08L81.57 447.28L78.37 444.08Z"/>
<path d="M82.15 439.75L85.35 442.95L82.15 446.15L78.95 442.95Z"/>
<path d="M82.73 436.67L85.93 439.87L82.73 443.07L79.53 439.87Z"/>
<path d="M83.31 437.34L86.51 440.54L83.31 443.74L80.11 440.54Z"/>
<path d="M83.89 434.39L87.09 437.59L83.89 440.79L80.69 437.59Z"/>
<path d="M84.48 434.12L87.68 437.32L84.48 440.52L81.28 437.32Z"/>
<path d="M85.07 431.83L88.27 435.03L85.07 438.23L81.87 435.03Z"/>
<path d="M85.67 430.08L88.87 433.28L85.67 436.48L82.47 433.28Z"/>
<path d="M86.26 428.86L89.46 432.06L86.26 435.26L83.06 432.06Z"/>
<path d="M86.86 428.25L90.06 431.45L86.86 434.65L83.66 431.45Z"/>
<path d="M87.47 425.7L90.67 428.9L87.47 432.1L84.27 428.9Z"/>
<path d="M88.07 424.76L91.27 427.96L88.07 431.16L84.87 427.96Z"/>
<path d="M88.68 423.41L91.88 426.61L88.68 429.81L85.48 426.61Z"/>
<path d="M89.3 421.27L92.5 424.47L89.3 427.67L86.1 424.47Z"/>
<path d="M89.91 422.09L93.11 425.29L89.91 428.49L86.71 425.29Z"/>
<path d="M90.53 420.27L93.73 423.47L90.53 426.67L87.33 423.47Z"/>
<path d="M91.15 418.5L94.35 421.7L91.15 424.9L87.95 421.7Z"/>
<path d="M91.78 417.92L94.98 421.12L91.78 424.32L88.58 421.12Z"/>
<path d="M92.41 414.98L95.61 418.18L92.41 421.38L89.21 418.18Z"/>
<path d="M93.04 414.1L96.24 417.3L93.04 420.5L89.84 417.3Z"/>
<path d="M93.68 413.83L96.88 417.03L93.68 420.23L90.48 417.03Z"/>
<path d="M94.32 411.75L97.52 414.95L94.32 418.15L91.12 414.95Z"/>
<path d="M94.96 407.91L98.16 411.11L94.96 414.31L91.76 411.11Z"/>
<path d="M95.61 405.51L98.81 408.71L95.61 411.91L92.41 408.71Z"/>
<path d="M96.26 405.46L99.46 408.66L96.26 411.86L93.06 408.66Z"/>
<path d="M96.91 405.24L100.11 408.44L96.91 411.64L93.71 408.44Z"/>
<path d="M97.57 402.44L100.77 405.64L97.57 408.84L94.37 405.64Z"/>
<path d="M98.23 400.87L101.43 404.07L98.23 407.27L95.03 404.07Z"/>
<path d="M98.89 399.63L102.09 402.83L98.89 406.03L95.69 402.83Z"/>
<path d="M99.56 396.7L102.76 399.9L99.56 403.1L96.36 399.9Z"/>
<path d="M100.24 395.53L103.44 398.73L100.24 401.93L97.04 398.73Z"/>
<path d="M100.91 393.96L104.11 397.16L100.91 400.36L97.71 397.16Z"/>
<path d="M101.59 391.73L104.79 394.93L101.59 398.13L98.39 394.93Z"/>
<path d="M102.27 389.68L105.47 392.88L102.27 396.08L99.07 392.88Z"/>
<path d="M102.96 387L106.16 390.2L102.96 393.4L99.76 390.2Z"/>
<path d="M103.65 385.84L106.85 389.04L103.65 392.24L100.45 389.04Z"/>
<path d="M104.35 383.28L107.55 386.48L104.35 389.68L101.15 386.48Z"/>
<path d="M105.05 382.6L108.25 385.8L105.05 389L101.85 385.8Z"/>
<path d="M105.75 381.6L108.95 384.8L105.75 388L102.55 384.8Z"/>
<path d="M106.46 377.4L109.66 380.6L106.46 383.8L103.26 380.6Z"/>
<path d="M107.17 374.53L110.37 377.73L107.17 380.93L103.97 377.73Z"/>
<path d="M107.88 373.9L111.08 377.1L107.88 380.3L104.68 377.1Z"/>
<path d="M108.6 372.63L111.8 375.83L108.6 379.03L105.4 375.83Z"/>
<path d="M109.32 371.3L112.52 374.5L109.32 377.7L106.12 374.5Z"/>
<path d="M110.05 369.54L113.25 372.74L110.05 375.94L106.85 372.74Z"/>
<path d="M110.78 366.42L113.98 369.62L110.78 372.82L107.58 369.62Z"/>
<path d="M111.52 364.59L114.72 367.79L111.52 370.99L108.32 367.79Z"/>
<path d="M112.26 364.25L115.46 367.45L112.26 370.65L109.06 367.45Z"/>
<path d="M113 360.91L116.2 364.11L113 367.31L109.8 364.11Z"/>
<path d="M113.75 360.88L116.95 364.08L113.75 367.28L110.55 364.08Z"/>
<path d="M114.51 358.58L117.71 361.78L114.51 364.98L111.31 361.78Z"/>
<path d="M115.27 358.02L118.47 361.22L115.27 364.42L112.07 361.22Z"/>
<path d="M116.03 356.78L119.23 359.98L116.03 363.18L112.83 359.98Z"/>
<path d="M116.79 355.71L119.99 358.91L116.79 362.11L113.59 358.91Z"/>
<path d="M117.57 354.67L120.77 357.87L117.57 361.07L114.37 357.87Z"/>
<path d="M118.34 352.4L121.54 355.6L118.34 358.8L115.14 355.6Z"/>
<path d="M119.12 352.34L122.32 355.54L119.12 358.74L115.92 355.54Z"/>
<path d="M119.91 351.24L123.11 354.44L119.91 357.64L116.71 354.44Z"/>
<path d="M120.7 350.57L123.9 353.77L120.7 356.97L117.5 353.77Z"/>
<path d="M121.49 350.35L124.69 353.55L121.49 356.75L118.29 353.55Z"/>
<path d="M122.29 348.45L125.49 351.65L122.29 354.85L119.09 351.65Z"/>
<path d="M123.1 347.31L126.3 350.51L123.1 353.71L119.9 350.51Z"/>
<path d="M123.91 346.51L127.11 349.71L123.91 352.91L120.71 349.71Z"/>
<path d="M124.72 346.06L127.92 349.26L124.72 352.46L121.52 349.26Z"/>
<path d="M125.54 346.12L128.74 349.32L125.54 352.52L122.34 349.32Z"/>
<path d="M126.37 344.4L129.57 347.6L126.37 350.8L123.17 347.6Z"/>
<path d="M127.2 345.24L130.4 348.44L127.2 351.64L124 348.44Z"/>
<path d="M128.03 344.17L131.23 347.37L128.03 350.57L124.83 347.37Z"/>
<path d="M128.87 343.35L132.07 346.55L128.87 349.75L125.67 346.55Z"/>
<path d="M129.72 342.11L132.92 345.31L129.72 348.51L126.52 345.31Z"/>
<path d="M130.57 342.78L133.77 345.98L130.57 349.18L127.37 345.98Z"/>
<path d="M131.42 342.69L134.62 345.89L131.42 349.09L128.22 345.89Z"/>
<path d="M132.28 340.63L135.48 343.83L132.28 347.03L129.08 343.83Z"/>
<path d="M133.15 342.42L136.35 345.62L133.15 348.82L129.95 345.62Z"/>
<path d="M134.02 342.54L137.22 345.74L134.02 348.94L130.82 345.74Z"/>
<path d="M134.9 341.54L138.1 344.74L134.9 347.94L131.7 344.74Z"/>
<path d="M135.78 341.68L138.98 344.88L135.78 348.08L132.58 344.88Z"/>
<path d="M136.67 343.16L139.87 346.36L136.67 349.56L133.47 346.36Z"/>
<path d="M137.57 342.57L140.77 345.77L137.57 348.97L134.37 345.77Z"/>
<path d="M138.47 341.41L141.67 344.61L138.47 347.81L135.27 344.61Z"/>
<path d="M139.37 342.42L142.57 345.62L139.37 348.82L136.17 345.62Z"/>
<path d="M140.28 342.77L143.48 345.97L140.28 349.17L137.08 345.97Z"/>
<path d="M141.2 343.27L144.4 346.47L141.2 349.67L138 346.47Z"/>
<path d="M142.13 342.25L145.33 345.45L142.13 348.65L138.93 345.45Z"/>
<path d="M143.06 344.98L146.26 348.18L143.06 351.38L139.86 348.18Z"/>
<path d="M143.99 344.55L147.19 347.75L143.99 350.95L140.79 347.75Z"/>
<path d="M144.94 345.69L148.14 348.89L144.94 352.09L141.74 348.89Z"/>
<path d="M145.88 346.13L149.08 349.33L145.88 352.53L142.68 349.33Z"/>
<path d="M146.84 347.57L150.04 350.77L146.84 353.97L143.64 350.77Z"/>
<path d="M147.8 347.57L151 350.77L147.8 353.97L144.6 350.77Z"/>
<path d="M148.77 348.13L151.97 351.33L148.77 354.53L145.57 351.33Z"/>
<path d="M149.74 350.06L152.94 353.26L149.74 356.46L146.54 353.26Z"/>
<path d="M150.72 351.77L153.92 354.97L150.72 358.17L147.52 354.97Z"/>
<path d="M151.71 351.78L154.91 354.98L151.71 358.18L148.51 354.98Z"/>
<path d="M152.7 354.54L155.9 357.74L152.7 360.94L149.5 357.74Z"/>
<path d="M153.7 355.69L156.9 358.89L153.7 362.09L150.5 358.89Z"/>
<path d="M154.71 357.3L157.91 360.5L154.71 363.7L151.51 360.5Z"/>
<path d="M155.73 361.04L158.93 364.24L155.73 367.44L152.53 364.24Z"/>
<path d="M156.75 361.72L159.95 364.92L156.75 368.12L153.55 364.92Z"/>
<path d="M157.78 365.23L160.98 368.43L157.78 371.63L154.58 368.43Z"/>
<path d="M158.81 366.17L162.01 369.37L158.81 372.57L155.61 369.37Z"/>
<path d="M159.85 368.65L163.05 371.85L159.85 375.05L156.65 371.85Z"/>
<path d="M160.9 369.23L164.1 372.43L160.9 375.63L157.7 372.43Z"/>
<path d="M161.96 371.22L165.16 374.42L161.96 377.62L158.76 374.42Z"/>
<path d="M163.03 374.23L166.23 377.43L163.03 380.63L159.83 377.43Z"/>
<path d="M164.1 375.27L167.3 378.47L164.1 381.67L160.9 378.47Z"/>
<path d="M165.18 376.8L168.38 380L165.18 383.2L161.98 380Z"/>
<path d="M166.26 378.09L169.46 381.29L166.26 384.49L163.06 381.29Z"/>
<path d="M167.36 380.35L170.56 383.55L167.36 386.75L164.16 383.55Z"/>
<path d="M168.46 380.7L171.66 383.9L168.46 387.1L165.26 383.9Z"/>
<path d="M169.57 382.52L172.77 385.72L169.57 388.92L166.37 385.72Z"/>
<path d="M170.69 384.79L173.89 387.99L170.69 391.19L167.49 387.99Z"/>
<path d="M171.82 385.86L175.02 389.06L171.82 392.26L168.62 389.06Z"/>
<path d="M172.95 387.42L176.15 390.62L172.95 393.82L169.75 390.62Z"/>
<path d="M174.1 389.24L177.3 392.44L174.1 395.64L170.9 392.44Z"/>
<path d="M175.25 390.55L178.45 393.75L175.25 396.95L172.05 393.75Z"/>
<path d="M176.41 391.81L179.61 395.01L176.41 398.21L173.21 395.01Z"/>
<path d="M177.58 394.4L180.78 397.6L177.58 400.8L174.38 397.6Z"/>
<path d="M178.75 395.13L181.95 398.33L178.75 401.53L175.55 398.33Z"/>
<path d="M179.94 396.38L183.14 399.58L179.94 402.78L176.74 399.58Z"/>
<path d="M181.13 396.48L184.33 399.68L181.13 402.88L177.93 399.68Z"/>
<path d="M182.34 397.05L185.54 400.25L182.34 403.45L179.14 400.25Z"/>
<path d="M183.55 397.25L186.75 400.45L183.55 403.65L180.35 400.45Z"/>
<path d="M184.77 398.83L187.97 402.03L184.77 405.23L181.57 402.03Z"/>
<path d="M186 398.38L189.2 401.58L186 404.78L182.8 401.58Z"/>
<path d="M187.24 400.14L190.44 403.34L187.24 406.54L184.04 403.34Z"/>
<path d="M188.49 401.74L191.69 404.94L188.49 408.14L185.29 404.94Z"/>
<path d="M189.75 402.94L192.95 406.14L189.75 409.34L186.55 406.14Z"/>
<path d="M191.02 403.02L194.22 406.22L191.02 409.42L187.82 406.22Z"/>
<path d="M192.3 402.24L195.5 405.44L192.3 408.64L189.1 405.44Z"/>
<path d="M193.58 403.66L196.78 406.86L193.58 410.06L190.38 406.86Z"/>
<path d="M194.88 403.19L198.08 406.39L194.88 409.59L191.68 406.39Z"/>
<path d="M196.19 404.73L199.39 407.93L196.19 411.13L192.99 407.93Z"/>
<path d="M197.51 404.47L200.71 407.67L197.51 410.87L194.31 407.67Z"/>
<path d="M198.84 405.52L202.04 408.72L198.84 411.92L195.64 408.72Z"/>
<path d="M200.18 407.08L203.38 410.28L200.18 413.48L196.98 410.28Z"/>
<path d="M201.53 406.28L204.73 409.48L201.53 412.68L198.33 409.48Z"/>
<path d="M202.89 407.61L206.09 410.81L202.89 414.01L199.69 410.81Z"/>
<path d="M204.26 406.43L207.46 409.63L204.26 412.83L201.06 409.63Z"/>
<path d="M205.64 406.39L208.84 409.59L205.64 412.79L202.44 409.59Z"/>
<path d="M207.03 407.87L210.23 411.07L207.03 414.27L203.83 411.07Z"/>
<path d="M208.44 408.44L211.64 411.64L208.44 414.84L205.24 411.64Z"/>
<path d="M209.85 407.12L213.05 410.32L209.85 413.52L206.65 410.32Z"/>
<path d="M211.28 407.84L214.48 411.04L211.28 414.24L208.08 411.04Z"/>
<path d="M212.72 407.04L215.92 410.24L212.72 413.44L209.52 410.24Z"/>
<path d="M214.17 408.16L217.37 411.36L214.17 414.56L210.97 411.36Z"/>
<path d="M215.63 409.17L218.83 412.37L215.63 415.57L212.43 412.37Z"/>
<path d="M217.11 408.73L220.31 411.93L217.11 415.13L213.91 411.93Z"/>
<path d="M218.59 408.63L221.79 411.83L218.59 415.03L215.39 411.83Z"/>
<path d="M220.09 408.26L223.29 411.46L220.09 414.66L216.89 411.46Z"/>
<path d="M221.6 409.72L224.8 412.92L221.6 416.12L218.4 412.92Z"/>
<path d="M223.13 410.21L226.33 413.41L223.13 416.61L219.93 413.41Z"/>
<path d="M224.67 410.26L227.87 413.46L224.67 416.66L221.47 413.46Z"/>
<path d="M226.22 410.18L229.42 413.38L226.22 416.58L223.02 413.38Z"/>
<path d="M227.78 409.26L230.98 412.46L227.78 415.66L224.58 412.46Z"/>
<path d="M229.36 411.51L232.56 414.71L229.36 417.91L226.16 414.71Z"/>
<path d="M230.95 410.37L234.15 413.57L230.95 416.77L227.75 413.57Z"/>
<path d="M232.55 410.44L235.75 413.64L232.55 416.84L229.35 413.64Z"/>
<path d="M234.17 411.21L237.37 414.41L234.17 417.61L230.97 414.41Z"/>
<path d="M235.8 409.37L239 412.57L235.8 415.77L232.6 412.57Z"/>
<path d="M237.44 411.06L240.64 414.26L237.44 417.46L234.24 414.26Z"/>
<path d="M239.1 411.31L242.3 414.51L239.1 417.71L235.9 414.51Z"/>
<path d="M240.78 412.03L243.98 415.23L240.78 418.43L237.58 415.23Z"/>
<path d="M242.47 413.12L245.67 416.32L242.47 419.52L239.27 416.32Z"/>
<path d="M244.17 412.95L247.37 416.15L244.17 419.35L240.97 416.15Z"/>
<path d="M245.89 411.8L249.09 415L245.89 418.2L242.69 415Z"/>
<path d="M247.63 413.31L250.83 416.51L247.63 419.71L244.43 416.51Z"/>
<path d="M249.38 414.14L252.58 417.34L249.38 420.54L246.18 417.34Z"/>
<path d="M251.15 414.62L254.35 417.82L251.15 421.02L247.95 417.82Z"/>
<path d="M252.93 414.21L256.13 417.41L252.93 420.61L249.73 417.41Z"/>
<path d="M254.73 414.44L257.93 417.64L254.73 420.84L251.53 417.64Z"/>
<path d="M256.54 416.18L259.74 419.38L256.54 422.58L253.34 419.38Z"/>
<path d="M258.37 415.98L261.57 419.18L258.37 422.38L255.17 419.18Z"/>
<path d="M260.22 415.57L263.42 418.77L260.22 421.97L257.02 418.77Z"/>
<path d="M262.09 414.14L265.29 417.34L262.09 420.54L258.89 417.34Z"/>
<path d="M263.97 416.26L267.17 419.46L263.97 422.66L260.77 419.46Z"/>
<path d="M265.87 411.99L269.07 415.19L265.87 418.39L262.67 415.19Z"/>
<path d="M267.79 412.08L270.99 415.28L267.79 418.48L264.59 415.28Z"/>
<path d="M269.73 411.78L272.93 414.98L269.73 418.18L266.53 414.98Z"/>
<path d="M271.68 408.02L274.88 411.22L271.68 414.42L268.48 411.22Z"/>
<path d="M273.66 405.3L276.86 408.5L273.66 411.7L270.46 408.5Z"/>
<path d="M275.65 401.22L278.85 404.42L275.65 407.62L272.45 404.42Z"/>
<path d="M277.66 400.78L280.86 403.98L277.66 407.18L274.46 403.98Z"/>
<path d="M279.7 397.54L282.9 400.74L279.7 403.94L276.5 400.74Z"/>
<path d="M281.75 397.56L284.95 400.76L281.75 403.96L278.55 400.76Z"/>
<path d="M283.82 397.1L287.02 400.3L283.82 403.5L280.62 400.3Z"/>
<path d="M285.91 397.04L289.11 400.24L285.91 403.44L282.71 400.24Z"/>
<path d="M288.02 399.94L291.22 403.14L288.02 406.34L284.82 403.14Z"/>
<path d="M290.16 401.47L293.36 404.67L290.16 407.87L286.96 404.67Z"/>
<path d="M292.31 407.84L295.51 411.04L292.31 414.24L289.11 411.04Z"/>
<path d="M294.49 419.11L297.69 422.31L294.49 425.51L291.29 422.31Z"/>
<path d="M296.68 434.11L299.88 437.31L296.68 440.51L293.48 437.31Z"/>
<path d="M298.91 440.69L302.11 443.89L298.91 447.09L295.71 443.89Z"/>
<path d="M301.15 449.06L304.35 452.26L301.15 455.46L297.95 452.26Z"/>
<path d="M303.41 455.42L306.61 458.62L303.41 461.82L300.21 458.62Z"/>
<path d="M305.7 461.1L308.9 464.3L305.7 467.5L302.5 464.3Z"/>
<path d="M308.02 464.16L311.22 467.36L308.02 470.56L304.82 467.36Z"/>
<path d="M310.35 466.22L313.55 469.42L310.35 472.62L307.15 469.42Z"/>
<path d="M312.71 468.82L315.91 472.02L312.71 475.22L309.51 472.02Z"/>
<path d="M315.1 469.64L318.3 472.84L315.1 476.04L311.9 472.84Z"/>
<path d="M317.51 471.02L320.71 474.22L317.51 477.42L314.31 474.22Z"/>
<path d="M319.95 471.62L323.15 474.82L319.95 478.02L316.75 474.82Z"/>
<path d="M322.41 472.15L325.61 475.35L322.41 478.55L319.21 475.35Z"/>
<path d="M324.9 474.7L328.1 477.9L324.9 481.1L321.7 477.9Z"/>
</g>
<rect x="58.2" y="283.7" width="267.1" height="210.9" fill="none" stroke="#000" stroke-width="1.4"/>
<path d="M58.2 494.6v-7M58.2 283.7v7M71.56 494.6v-3.6M71.56 283.7v3.6M84.91 494.6v-3.6M84.91 283.7v3.6M98.27 494.6v-3.6M98.27 283.7v3.6M111.62 494.6v-3.6M111.62 283.7v3.6M124.98 494.6v-7M124.98 283.7v7M138.33 494.6v-3.6M138.33 283.7v3.6M151.69 494.6v-3.6M151.69 283.7v3.6M165.04 494.6v-3.6M165.04 283.7v3.6M178.39 494.6v-3.6M178.39 283.7v3.6M191.75 494.6v-7M191.75 283.7v7M205.11 494.6v-3.6M205.11 283.7v3.6M218.46 494.6v-3.6M218.46 283.7v3.6M231.81 494.6v-3.6M231.81 283.7v3.6M245.17 494.6v-3.6M245.17 283.7v3.6M258.53 494.6v-7M258.53 283.7v7M271.88 494.6v-3.6M271.88 283.7v3.6M285.24 494.6v-3.6M285.24 283.7v3.6M298.59 494.6v-3.6M298.59 283.7v3.6M311.95 494.6v-3.6M311.95 283.7v3.6M325.3 494.6v-7M325.3 283.7v7M58.2 494.6h7M325.3 494.6h-7M58.2 484.06h3.6M325.3 484.06h-3.6M58.2 473.51h3.6M325.3 473.51h-3.6M58.2 462.97h3.6M325.3 462.97h-3.6M58.2 452.42h3.6M325.3 452.42h-3.6M58.2 441.88h7M325.3 441.88h-7M58.2 431.33h3.6M325.3 431.33h-3.6M58.2 420.79h3.6M325.3 420.79h-3.6M58.2 410.24h3.6M325.3 410.24h-3.6M58.2 399.69h3.6M325.3 399.69h-3.6M58.2 389.15h7M325.3 389.15h-7M58.2 378.61h3.6M325.3 378.61h-3.6M58.2 368.06h3.6M325.3 368.06h-3.6M58.2 357.51h3.6M325.3 357.51h-3.6M58.2 346.97h3.6M325.3 346.97h-3.6M58.2 336.43h7M325.3 336.43h-7M58.2 325.88h3.6M325.3 325.88h-3.6M58.2 315.33h3.6M325.3 315.33h-3.6M58.2 304.79h3.6M325.3 304.79h-3.6M58.2 294.25h3.6M325.3 294.25h-3.6M58.2 283.7h7M325.3 283.7h-7" stroke="#000" stroke-width="1.3" fill="none"/>
<g fill="none" stroke-width="1.45" stroke-dasharray="8 3 2 3" clip-path="url(#clipc)">
<path stroke="#ff0000" d="M58.2 494.6 L58.87 494.6 L59.54 494.6 L60.21 494.6 L60.88 494.6 L61.55 494.6 L62.22 494.6 L62.89 494.6 L63.56 494.6 L64.22 494.6 L64.89 494.6 L65.56 494.6 L66.23 494.6 L66.9 494.6 L67.57 494.6 L68.24 494.6 L68.91 494.6 L69.58 494.6 L70.25 494.6 L70.92 494.6 L71.59 494.6 L72.26 494.6 L72.93 494.6 L73.6 494.6 L74.27 494.6 L74.94 494.6 L75.61 494.6 L76.27 494.6 L76.94 494.6 L77.61 494.6 L78.28 494.6 L78.95 494.6 L79.62 494.6 L80.29 494.6 L80.96 494.6 L81.63 494.6 L82.3 494.6 L82.97 494.6 L83.64 494.6 L84.31 494.6 L84.98 494.6 L85.65 494.6 L86.32 494.6 L86.99 494.6 L87.65 494.6 L88.32 494.6 L88.99 494.6 L89.66 494.6 L90.33 494.6 L91 494.6 L91.67 494.6 L92.34 494.6 L93.01 494.6 L93.68 494.6 L94.35 494.6 L95.02 494.6 L95.69 494.6 L96.36 494.6 L97.03 494.6 L97.7 494.6 L98.37 494.6 L99.03 494.6 L99.7 494.6 L100.37 494.6 L101.04 494.6 L101.71 494.6 L102.38 494.6 L103.05 494.6 L103.72 494.6 L104.39 494.6 L105.06 494.6 L105.73 494.6 L106.4 494.6 L107.07 494.6 L107.74 494.6 L108.41 494.6 L109.08 494.6 L109.75 494.6 L110.42 494.6 L111.08 494.6 L111.75 494.6 L112.42 494.6 L113.09 494.6 L113.76 494.6 L114.43 494.6 L115.1 494.6 L115.77 494.6 L116.44 494.6 L117.11 494.6 L117.78 494.6 L118.45 494.6 L119.12 494.6 L119.79 494.6 L120.46 494.6 L121.13 494.6 L121.8 494.6 L122.46 494.6 L123.13 494.6 L123.8 494.6 L124.47 494.6 L125.14 494.6 L125.81 494.6 L126.48 494.6 L127.15 494.6 L127.82 494.6 L128.49 494.6 L129.16 494.6 L129.83 494.6 L130.5 494.6 L131.17 494.6 L131.84 494.6 L132.51 494.6 L133.18 494.6 L133.84 494.6 L134.51 494.6 L135.18 494.6 L135.85 494.6 L136.52 494.6 L137.19 494.6 L137.86 494.6 L138.53 494.6 L139.2 494.6 L139.87 494.6 L140.54 494.6 L141.21 494.6 L141.88 494.6 L142.55 494.6 L143.22 494.6 L143.89 494.6 L144.56 494.6 L145.23 494.6 L145.89 494.6 L146.56 494.6 L147.23 494.6 L147.9 494.6 L148.57 494.6 L149.24 494.6 L149.91 494.6 L150.58 494.6 L151.25 494.6 L151.92 494.6 L152.59 494.6 L153.26 494.6 L153.93 494.6 L154.6 494.6 L155.27 494.6 L155.94 494.6 L156.61 494.6 L157.27 494.6 L157.94 494.6 L158.61 494.6 L159.28 494.6 L159.95 494.6 L160.62 494.6 L161.29 494.6 L161.96 494.6 L162.63 494.6 L163.3 494.6 L163.97 494.6 L164.64 494.6 L165.31 494.6 L165.98 494.6 L166.65 494.6 L167.32 494.6 L167.99 494.6 L168.65 494.6 L169.32 494.6 L169.99 494.6 L170.66 494.6 L171.33 494.6 L172 494.6 L172.67 494.6 L173.34 494.6 L174.01 494.6 L174.68 494.6 L175.35 494.6 L176.02 494.6 L176.69 494.6 L177.36 494.6 L178.03 494.6 L178.7 494.6 L179.37 494.6 L180.04 494.6 L180.7 494.6 L181.37 494.6 L182.04 494.6 L182.71 494.6 L183.38 494.6 L184.05 494.6 L184.72 494.6 L185.39 494.6 L186.06 494.6 L186.73 494.6 L187.4 494.6 L188.07 494.6 L188.74 494.6 L189.41 494.6 L190.08 494.6 L190.75 494.6 L191.42 494.6 L192.08 494.6 L192.75 494.6 L193.42 494.6 L194.09 494.6 L194.76 494.6 L195.43 494.6 L196.1 494.6 L196.77 494.6 L197.44 494.6 L198.11 494.6 L198.78 494.6 L199.45 494.6 L200.12 494.6 L200.79 494.6 L201.46 494.6 L202.13 494.6 L202.8 494.6 L203.46 494.6 L204.13 494.6 L204.8 494.6 L205.47 494.6 L206.14 494.6 L206.81 494.6 L207.48 494.6 L208.15 494.6 L208.82 494.6 L209.49 494.6 L210.16 494.6 L210.83 494.6 L211.5 494.6 L212.17 494.6 L212.84 494.6 L213.51 494.6 L214.18 494.6 L214.85 494.6 L215.51 494.6 L216.18 494.6 L216.85 494.6 L217.52 494.6 L218.19 494.6 L218.86 494.6 L219.53 494.6 L220.2 494.6 L220.87 494.6 L221.54 494.6 L222.21 494.6 L222.88 494.6 L223.55 494.6 L224.22 494.6 L224.89 494.6 L225.56 494.6 L226.23 494.6 L226.89 494.6 L227.56 494.6 L228.23 494.6 L228.9 494.6 L229.57 494.6 L230.24 494.6 L230.91 494.6 L231.58 494.6 L232.25 494.6 L232.92 494.6 L233.59 494.6 L234.26 494.6 L234.93 494.6 L235.6 494.6 L236.27 494.6 L236.94 494.6 L237.61 494.6 L238.27 494.6 L238.94 494.6 L239.61 494.6 L240.28 494.6 L240.95 494.59 L241.62 494.59 L242.29 494.59 L242.96 494.59 L243.63 494.58 L244.3 494.58 L244.97 494.57 L245.64 494.56 L246.31 494.55 L246.98 494.54 L247.65 494.52 L248.32 494.5 L248.99 494.48 L249.66 494.45 L250.32 494.41 L250.99 494.37 L251.66 494.31 L252.33 494.25 L253 494.17 L253.67 494.08 L254.34 493.96 L255.01 493.83 L255.68 493.68 L256.35 493.5 L257.02 493.29 L257.69 493.04 L258.36 492.76 L259.03 492.44 L259.7 492.07 L260.37 491.65 L261.04 491.17 L261.7 490.64 L262.37 490.04 L263.04 489.37 L263.71 488.63 L264.38 487.81 L265.05 486.92 L265.72 485.94 L266.39 484.88 L267.06 483.74 L267.73 482.51 L268.4 481.2 L269.07 479.81 L269.74 478.35 L270.41 476.82 L271.08 475.23 L271.75 473.58 L272.42 471.89 L273.08 470.17 L273.75 468.42 L274.42 466.67 L275.09 464.94 L275.76 463.22 L276.43 461.55 L277.1 459.94 L277.77 458.4 L278.44 456.95 L279.11 455.61 L279.78 454.39 L280.45 453.31 L281.12 452.38 L281.79 451.61 L282.46 451.02 L283.13 450.6 L283.8 450.36 L284.47 450.32 L285.13 450.46 L285.8 450.78 L286.47 451.29 L287.14 451.97 L287.81 452.82 L288.48 453.83 L289.15 454.97 L289.82 456.25 L290.49 457.65 L291.16 459.14 L291.83 460.72 L292.5 462.37 L293.17 464.06 L293.84 465.79 L294.51 467.54 L295.18 469.28 L295.85 471.02 L296.51 472.73 L297.18 474.4 L297.85 476.02 L298.52 477.58 L299.19 479.08 L299.86 480.51 L300.53 481.86 L301.2 483.12 L301.87 484.31 L302.54 485.41 L303.21 486.43 L303.88 487.37 L304.55 488.23 L305.22 489 L305.89 489.71 L306.56 490.34 L307.23 490.91 L307.89 491.42 L308.56 491.86 L309.23 492.26 L309.9 492.6 L310.57 492.91 L311.24 493.17 L311.91 493.4 L312.58 493.59 L313.25 493.76 L313.92 493.9 L314.59 494.02 L315.26 494.12 L315.93 494.21 L316.6 494.28 L317.27 494.34 L317.94 494.39 L318.61 494.43 L319.28 494.46 L319.94 494.49 L320.61 494.51 L321.28 494.53 L321.95 494.55 L322.62 494.56 L323.29 494.57 L323.96 494.57 L324.63 494.58 L325.3 494.58"/>
<path stroke="#ff00ff" d="M58.2 494.44 L58.87 494.43 L59.54 494.42 L60.21 494.41 L60.88 494.4 L61.55 494.39 L62.22 494.39 L62.89 494.38 L63.56 494.36 L64.22 494.35 L64.89 494.34 L65.56 494.33 L66.23 494.32 L66.9 494.31 L67.57 494.29 L68.24 494.28 L68.91 494.26 L69.58 494.25 L70.25 494.23 L70.92 494.22 L71.59 494.2 L72.26 494.18 L72.93 494.17 L73.6 494.15 L74.27 494.13 L74.94 494.11 L75.61 494.09 L76.27 494.06 L76.94 494.04 L77.61 494.02 L78.28 493.99 L78.95 493.97 L79.62 493.94 L80.29 493.91 L80.96 493.88 L81.63 493.86 L82.3 493.82 L82.97 493.79 L83.64 493.76 L84.31 493.73 L84.98 493.69 L85.65 493.65 L86.32 493.62 L86.99 493.58 L87.65 493.54 L88.32 493.49 L88.99 493.45 L89.66 493.41 L90.33 493.36 L91 493.31 L91.67 493.26 L92.34 493.21 L93.01 493.16 L93.68 493.1 L94.35 493.05 L95.02 492.99 L95.69 492.93 L96.36 492.87 L97.03 492.8 L97.7 492.73 L98.37 492.67 L99.03 492.59 L99.7 492.52 L100.37 492.45 L101.04 492.37 L101.71 492.29 L102.38 492.21 L103.05 492.12 L103.72 492.03 L104.39 491.94 L105.06 491.85 L105.73 491.76 L106.4 491.66 L107.07 491.56 L107.74 491.45 L108.41 491.34 L109.08 491.23 L109.75 491.12 L110.42 491 L111.08 490.88 L111.75 490.76 L112.42 490.63 L113.09 490.5 L113.76 490.37 L114.43 490.23 L115.1 490.09 L115.77 489.95 L116.44 489.8 L117.11 489.65 L117.78 489.49 L118.45 489.33 L119.12 489.17 L119.79 489 L120.46 488.83 L121.13 488.65 L121.8 488.47 L122.46 488.28 L123.13 488.09 L123.8 487.9 L124.47 487.7 L125.14 487.5 L125.81 487.29 L126.48 487.07 L127.15 486.85 L127.82 486.63 L128.49 486.4 L129.16 486.17 L129.83 485.93 L130.5 485.69 L131.17 485.44 L131.84 485.18 L132.51 484.92 L133.18 484.66 L133.84 484.39 L134.51 484.11 L135.18 483.83 L135.85 483.54 L136.52 483.25 L137.19 482.95 L137.86 482.64 L138.53 482.33 L139.2 482.02 L139.87 481.69 L140.54 481.37 L141.21 481.03 L141.88 480.69 L142.55 480.34 L143.22 479.99 L143.89 479.63 L144.56 479.27 L145.23 478.9 L145.89 478.52 L146.56 478.14 L147.23 477.75 L147.9 477.35 L148.57 476.95 L149.24 476.54 L149.91 476.13 L150.58 475.7 L151.25 475.28 L151.92 474.84 L152.59 474.41 L153.26 473.96 L153.93 473.51 L154.6 473.05 L155.27 472.59 L155.94 472.12 L156.61 471.64 L157.27 471.16 L157.94 470.67 L158.61 470.18 L159.28 469.68 L159.95 469.17 L160.62 468.66 L161.29 468.14 L161.96 467.62 L162.63 467.09 L163.3 466.56 L163.97 466.02 L164.64 465.47 L165.31 464.92 L165.98 464.37 L166.65 463.81 L167.32 463.24 L167.99 462.68 L168.65 462.1 L169.32 461.52 L169.99 460.94 L170.66 460.35 L171.33 459.76 L172 459.16 L172.67 458.57 L173.34 457.96 L174.01 457.36 L174.68 456.74 L175.35 456.13 L176.02 455.51 L176.69 454.89 L177.36 454.27 L178.03 453.65 L178.7 453.02 L179.37 452.39 L180.04 451.76 L180.7 451.12 L181.37 450.49 L182.04 449.85 L182.71 449.21 L183.38 448.57 L184.05 447.93 L184.72 447.29 L185.39 446.65 L186.06 446.01 L186.73 445.36 L187.4 444.72 L188.07 444.08 L188.74 443.44 L189.41 442.8 L190.08 442.16 L190.75 441.52 L191.42 440.89 L192.08 440.25 L192.75 439.62 L193.42 438.99 L194.09 438.37 L194.76 437.74 L195.43 437.12 L196.1 436.5 L196.77 435.89 L197.44 435.28 L198.11 434.67 L198.78 434.07 L199.45 433.47 L200.12 432.88 L200.79 432.29 L201.46 431.71 L202.13 431.13 L202.8 430.56 L203.46 430 L204.13 429.44 L204.8 428.89 L205.47 428.35 L206.14 427.81 L206.81 427.28 L207.48 426.76 L208.15 426.24 L208.82 425.73 L209.49 425.24 L210.16 424.75 L210.83 424.27 L211.5 423.79 L212.17 423.33 L212.84 422.88 L213.51 422.43 L214.18 422 L214.85 421.58 L215.51 421.16 L216.18 420.76 L216.85 420.37 L217.52 419.99 L218.19 419.62 L218.86 419.26 L219.53 418.91 L220.2 418.58 L220.87 418.25 L221.54 417.94 L222.21 417.64 L222.88 417.35 L223.55 417.08 L224.22 416.82 L224.89 416.57 L225.56 416.33 L226.23 416.11 L226.89 415.89 L227.56 415.7 L228.23 415.51 L228.9 415.34 L229.57 415.18 L230.24 415.04 L230.91 414.91 L231.58 414.79 L232.25 414.69 L232.92 414.6 L233.59 414.52 L234.26 414.46 L234.93 414.41 L235.6 414.38 L236.27 414.36 L236.94 414.35 L237.61 414.36 L238.27 414.38 L238.94 414.42 L239.61 414.47 L240.28 414.53 L240.95 414.61 L241.62 414.7 L242.29 414.81 L242.96 414.92 L243.63 415.06 L244.3 415.2 L244.97 415.36 L245.64 415.54 L246.31 415.72 L246.98 415.92 L247.65 416.14 L248.32 416.36 L248.99 416.6 L249.66 416.85 L250.32 417.12 L250.99 417.39 L251.66 417.68 L252.33 417.98 L253 418.3 L253.67 418.62 L254.34 418.96 L255.01 419.31 L255.68 419.67 L256.35 420.04 L257.02 420.42 L257.69 420.82 L258.36 421.22 L259.03 421.64 L259.7 422.06 L260.37 422.5 L261.04 422.94 L261.7 423.39 L262.37 423.86 L263.04 424.33 L263.71 424.81 L264.38 425.3 L265.05 425.8 L265.72 426.31 L266.39 426.83 L267.06 427.35 L267.73 427.88 L268.4 428.42 L269.07 428.97 L269.74 429.52 L270.41 430.08 L271.08 430.64 L271.75 431.21 L272.42 431.79 L273.08 432.37 L273.75 432.96 L274.42 433.55 L275.09 434.15 L275.76 434.76 L276.43 435.36 L277.1 435.97 L277.77 436.59 L278.44 437.21 L279.11 437.83 L279.78 438.45 L280.45 439.08 L281.12 439.71 L281.79 440.34 L282.46 440.98 L283.13 441.61 L283.8 442.25 L284.47 442.89 L285.13 443.53 L285.8 444.17 L286.47 444.81 L287.14 445.45 L287.81 446.09 L288.48 446.74 L289.15 447.38 L289.82 448.02 L290.49 448.66 L291.16 449.3 L291.83 449.94 L292.5 450.57 L293.17 451.21 L293.84 451.84 L294.51 452.48 L295.18 453.11 L295.85 453.73 L296.51 454.36 L297.18 454.98 L297.85 455.6 L298.52 456.22 L299.19 456.83 L299.86 457.44 L300.53 458.05 L301.2 458.65 L301.87 459.25 L302.54 459.84 L303.21 460.43 L303.88 461.02 L304.55 461.6 L305.22 462.18 L305.89 462.75 L306.56 463.32 L307.23 463.89 L307.89 464.45 L308.56 465 L309.23 465.55 L309.9 466.09 L310.57 466.63 L311.24 467.16 L311.91 467.69 L312.58 468.21 L313.25 468.73 L313.92 469.24 L314.59 469.75 L315.26 470.24 L315.93 470.74 L316.6 471.22 L317.27 471.71 L317.94 472.18 L318.61 472.65 L319.28 473.11 L319.94 473.57 L320.61 474.02 L321.28 474.47 L321.95 474.9 L322.62 475.34 L323.29 475.76 L323.96 476.18 L324.63 476.6 L325.3 477"/>
<path stroke="#008080" d="M58.2 494.6 L58.87 494.6 L59.54 494.6 L60.21 494.6 L60.88 494.6 L61.55 494.6 L62.22 494.6 L62.89 494.6 L63.56 494.6 L64.22 494.6 L64.89 494.6 L65.56 494.6 L66.23 494.6 L66.9 494.6 L67.57 494.6 L68.24 494.6 L68.91 494.6 L69.58 494.6 L70.25 494.6 L70.92 494.6 L71.59 494.6 L72.26 494.6 L72.93 494.6 L73.6 494.6 L74.27 494.6 L74.94 494.6 L75.61 494.6 L76.27 494.6 L76.94 494.6 L77.61 494.6 L78.28 494.6 L78.95 494.6 L79.62 494.6 L80.29 494.6 L80.96 494.6 L81.63 494.6 L82.3 494.6 L82.97 494.6 L83.64 494.6 L84.31 494.6 L84.98 494.6 L85.65 494.6 L86.32 494.6 L86.99 494.6 L87.65 494.6 L88.32 494.6 L88.99 494.6 L89.66 494.6 L90.33 494.6 L91 494.6 L91.67 494.6 L92.34 494.6 L93.01 494.6 L93.68 494.6 L94.35 494.6 L95.02 494.6 L95.69 494.6 L96.36 494.6 L97.03 494.6 L97.7 494.6 L98.37 494.6 L99.03 494.6 L99.7 494.6 L100.37 494.6 L101.04 494.6 L101.71 494.6 L102.38 494.6 L103.05 494.6 L103.72 494.6 L104.39 494.6 L105.06 494.6 L105.73 494.6 L106.4 494.6 L107.07 494.6 L107.74 494.6 L108.41 494.6 L109.08 494.6 L109.75 494.6 L110.42 494.6 L111.08 494.6 L111.75 494.6 L112.42 494.6 L113.09 494.6 L113.76 494.6 L114.43 494.6 L115.1 494.6 L115.77 494.6 L116.44 494.6 L117.11 494.6 L117.78 494.6 L118.45 494.6 L119.12 494.6 L119.79 494.6 L120.46 494.6 L121.13 494.6 L121.8 494.6 L122.46 494.6 L123.13 494.6 L123.8 494.6 L124.47 494.6 L125.14 494.6 L125.81 494.6 L126.48 494.6 L127.15 494.6 L127.82 494.6 L128.49 494.6 L129.16 494.6 L129.83 494.6 L130.5 494.6 L131.17 494.6 L131.84 494.6 L132.51 494.6 L133.18 494.6 L133.84 494.6 L134.51 494.6 L135.18 494.6 L135.85 494.6 L136.52 494.6 L137.19 494.6 L137.86 494.6 L138.53 494.6 L139.2 494.6 L139.87 494.6 L140.54 494.6 L141.21 494.6 L141.88 494.6 L142.55 494.6 L143.22 494.6 L143.89 494.6 L144.56 494.6 L145.23 494.6 L145.89 494.6 L146.56 494.6 L147.23 494.6 L147.9 494.6 L148.57 494.6 L149.24 494.6 L149.91 494.6 L150.58 494.6 L151.25 494.6 L151.92 494.6 L152.59 494.59 L153.26 494.59 L153.93 494.59 L154.6 494.59 L155.27 494.59 L155.94 494.58 L156.61 494.58 L157.27 494.57 L157.94 494.57 L158.61 494.56 L159.28 494.56 L159.95 494.55 L160.62 494.54 L161.29 494.53 L161.96 494.51 L162.63 494.5 L163.3 494.48 L163.97 494.46 L164.64 494.44 L165.31 494.41 L165.98 494.38 L166.65 494.35 L167.32 494.31 L167.99 494.26 L168.65 494.22 L169.32 494.16 L169.99 494.1 L170.66 494.04 L171.33 493.97 L172 493.89 L172.67 493.8 L173.34 493.71 L174.01 493.61 L174.68 493.5 L175.35 493.38 L176.02 493.25 L176.69 493.12 L177.36 492.98 L178.03 492.83 L178.7 492.68 L179.37 492.51 L180.04 492.35 L180.7 492.17 L181.37 491.99 L182.04 491.81 L182.71 491.62 L183.38 491.44 L184.05 491.25 L184.72 491.06 L185.39 490.88 L186.06 490.7 L186.73 490.52 L187.4 490.35 L188.07 490.18 L188.74 490.03 L189.41 489.88 L190.08 489.75 L190.75 489.63 L191.42 489.52 L192.08 489.43 L192.75 489.36 L193.42 489.3 L194.09 489.25 L194.76 489.23 L195.43 489.22 L196.1 489.23 L196.77 489.26 L197.44 489.31 L198.11 489.37 L198.78 489.45 L199.45 489.55 L200.12 489.66 L200.79 489.78 L201.46 489.91 L202.13 490.06 L202.8 490.22 L203.46 490.38 L204.13 490.56 L204.8 490.74 L205.47 490.92 L206.14 491.1 L206.81 491.29 L207.48 491.48 L208.15 491.67 L208.82 491.85 L209.49 492.03 L210.16 492.21 L210.83 492.38 L211.5 492.55 L212.17 492.71 L212.84 492.87 L213.51 493.01 L214.18 493.15 L214.85 493.28 L215.51 493.41 L216.18 493.52 L216.85 493.63 L217.52 493.73 L218.19 493.82 L218.86 493.91 L219.53 493.98 L220.2 494.05 L220.87 494.12 L221.54 494.18 L222.21 494.23 L222.88 494.27 L223.55 494.32 L224.22 494.35 L224.89 494.39 L225.56 494.42 L226.23 494.44 L226.89 494.46 L227.56 494.48 L228.23 494.5 L228.9 494.52 L229.57 494.53 L230.24 494.54 L230.91 494.55 L231.58 494.56 L232.25 494.57 L232.92 494.57 L233.59 494.58 L234.26 494.58 L234.93 494.58 L235.6 494.59 L236.27 494.59 L236.94 494.59 L237.61 494.59 L238.27 494.59 L238.94 494.6 L239.61 494.6 L240.28 494.6 L240.95 494.6 L241.62 494.6 L242.29 494.6 L242.96 494.6 L243.63 494.6 L244.3 494.6 L244.97 494.6 L245.64 494.6 L246.31 494.6 L246.98 494.6 L247.65 494.6 L248.32 494.6 L248.99 494.6 L249.66 494.6 L250.32 494.6 L250.99 494.6 L251.66 494.6 L252.33 494.6 L253 494.6 L253.67 494.6 L254.34 494.6 L255.01 494.6 L255.68 494.6 L256.35 494.6 L257.02 494.6 L257.69 494.6 L258.36 494.6 L259.03 494.6 L259.7 494.6 L260.37 494.6 L261.04 494.6 L261.7 494.6 L262.37 494.6 L263.04 494.6 L263.71 494.6 L264.38 494.6 L265.05 494.6 L265.72 494.6 L266.39 494.6 L267.06 494.6 L267.73 494.6 L268.4 494.6 L269.07 494.6 L269.74 494.6 L270.41 494.6 L271.08 494.6 L271.75 494.6 L272.42 494.6 L273.08 494.6 L273.75 494.6 L274.42 494.6 L275.09 494.6 L275.76 494.6 L276.43 494.6 L277.1 494.6 L277.77 494.6 L278.44 494.6 L279.11 494.6 L279.78 494.6 L280.45 494.6 L281.12 494.6 L281.79 494.6 L282.46 494.6 L283.13 494.6 L283.8 494.6 L284.47 494.6 L285.13 494.6 L285.8 494.6 L286.47 494.6 L287.14 494.6 L287.81 494.6 L288.48 494.6 L289.15 494.6 L289.82 494.6 L290.49 494.6 L291.16 494.6 L291.83 494.6 L292.5 494.6 L293.17 494.6 L293.84 494.6 L294.51 494.6 L295.18 494.6 L295.85 494.6 L296.51 494.6 L297.18 494.6 L297.85 494.6 L298.52 494.6 L299.19 494.6 L299.86 494.6 L300.53 494.6 L301.2 494.6 L301.87 494.6 L302.54 494.6 L303.21 494.6 L303.88 494.6 L304.55 494.6 L305.22 494.6 L305.89 494.6 L306.56 494.6 L307.23 494.6 L307.89 494.6 L308.56 494.6 L309.23 494.6 L309.9 494.6 L310.57 494.6 L311.24 494.6 L311.91 494.6 L312.58 494.6 L313.25 494.6 L313.92 494.6 L314.59 494.6 L315.26 494.6 L315.93 494.6 L316.6 494.6 L317.27 494.6 L317.94 494.6 L318.61 494.6 L319.28 494.6 L319.94 494.6 L320.61 494.6 L321.28 494.6 L321.95 494.6 L322.62 494.6 L323.29 494.6 L323.96 494.6 L324.63 494.6 L325.3 494.6"/>
<path stroke="#0000ff" d="M58.2 480.47 L58.87 479.86 L59.54 479.24 L60.21 478.6 L60.88 477.94 L61.55 477.26 L62.22 476.55 L62.89 475.83 L63.56 475.08 L64.22 474.31 L64.89 473.52 L65.56 472.7 L66.23 471.87 L66.9 471.01 L67.57 470.12 L68.24 469.22 L68.91 468.29 L69.58 467.33 L70.25 466.36 L70.92 465.36 L71.59 464.33 L72.26 463.28 L72.93 462.21 L73.6 461.11 L74.27 459.99 L74.94 458.85 L75.61 457.68 L76.27 456.49 L76.94 455.28 L77.61 454.04 L78.28 452.78 L78.95 451.5 L79.62 450.19 L80.29 448.86 L80.96 447.51 L81.63 446.14 L82.3 444.75 L82.97 443.34 L83.64 441.91 L84.31 440.46 L84.98 438.99 L85.65 437.5 L86.32 436 L86.99 434.48 L87.65 432.94 L88.32 431.39 L88.99 429.82 L89.66 428.25 L90.33 426.65 L91 425.05 L91.67 423.44 L92.34 421.81 L93.01 420.18 L93.68 418.54 L94.35 416.9 L95.02 415.25 L95.69 413.59 L96.36 411.94 L97.03 410.28 L97.7 408.62 L98.37 406.96 L99.03 405.3 L99.7 403.65 L100.37 402 L101.04 400.36 L101.71 398.73 L102.38 397.1 L103.05 395.49 L103.72 393.89 L104.39 392.3 L105.06 390.72 L105.73 389.17 L106.4 387.63 L107.07 386.11 L107.74 384.61 L108.41 383.13 L109.08 381.67 L109.75 380.24 L110.42 378.84 L111.08 377.46 L111.75 376.11 L112.42 374.8 L113.09 373.51 L113.76 372.26 L114.43 371.04 L115.1 369.86 L115.77 368.72 L116.44 367.61 L117.11 366.54 L117.78 365.52 L118.45 364.53 L119.12 363.59 L119.79 362.69 L120.46 361.84 L121.13 361.03 L121.8 360.27 L122.46 359.55 L123.13 358.89 L123.8 358.27 L124.47 357.71 L125.14 357.19 L125.81 356.72 L126.48 356.31 L127.15 355.95 L127.82 355.64 L128.49 355.38 L129.16 355.17 L129.83 355.02 L130.5 354.93 L131.17 354.88 L131.84 354.89 L132.51 354.95 L133.18 355.07 L133.84 355.24 L134.51 355.46 L135.18 355.74 L135.85 356.07 L136.52 356.45 L137.19 356.88 L137.86 357.36 L138.53 357.9 L139.2 358.48 L139.87 359.12 L140.54 359.8 L141.21 360.53 L141.88 361.31 L142.55 362.13 L143.22 363 L143.89 363.91 L144.56 364.87 L145.23 365.87 L145.89 366.91 L146.56 367.99 L147.23 369.11 L147.9 370.27 L148.57 371.46 L149.24 372.69 L149.91 373.96 L150.58 375.25 L151.25 376.58 L151.92 377.94 L152.59 379.32 L153.26 380.74 L153.93 382.18 L154.6 383.64 L155.27 385.13 L155.94 386.63 L156.61 388.16 L157.27 389.71 L157.94 391.27 L158.61 392.85 L159.28 394.44 L159.95 396.05 L160.62 397.67 L161.29 399.3 L161.96 400.93 L162.63 402.58 L163.3 404.22 L163.97 405.88 L164.64 407.54 L165.31 409.19 L165.98 410.85 L166.65 412.51 L167.32 414.17 L167.99 415.82 L168.65 417.47 L169.32 419.11 L169.99 420.75 L170.66 422.38 L171.33 424 L172 425.61 L172.67 427.21 L173.34 428.8 L174.01 430.37 L174.68 431.93 L175.35 433.48 L176.02 435.01 L176.69 436.52 L177.36 438.02 L178.03 439.5 L178.7 440.97 L179.37 442.41 L180.04 443.83 L180.7 445.24 L181.37 446.62 L182.04 447.99 L182.71 449.33 L183.38 450.65 L184.05 451.94 L184.72 453.22 L185.39 454.47 L186.06 455.7 L186.73 456.91 L187.4 458.09 L188.07 459.25 L188.74 460.39 L189.41 461.5 L190.08 462.59 L190.75 463.65 L191.42 464.69 L192.08 465.71 L192.75 466.7 L193.42 467.67 L194.09 468.61 L194.76 469.53 L195.43 470.43 L196.1 471.31 L196.77 472.16 L197.44 472.99 L198.11 473.79 L198.78 474.58 L199.45 475.34 L200.12 476.08 L200.79 476.8 L201.46 477.5 L202.13 478.17 L202.8 478.83 L203.46 479.46 L204.13 480.08 L204.8 480.67 L205.47 481.25 L206.14 481.81 L206.81 482.34 L207.48 482.86 L208.15 483.37 L208.82 483.85 L209.49 484.32 L210.16 484.77 L210.83 485.21 L211.5 485.63 L212.17 486.03 L212.84 486.42 L213.51 486.79 L214.18 487.15 L214.85 487.5 L215.51 487.83 L216.18 488.15 L216.85 488.46 L217.52 488.75 L218.19 489.04 L218.86 489.31 L219.53 489.57 L220.2 489.82 L220.87 490.05 L221.54 490.28 L222.21 490.5 L222.88 490.71 L223.55 490.91 L224.22 491.1 L224.89 491.28 L225.56 491.45 L226.23 491.62 L226.89 491.78 L227.56 491.93 L228.23 492.07 L228.9 492.21 L229.57 492.34 L230.24 492.46 L230.91 492.58 L231.58 492.69 L232.25 492.8 L232.92 492.9 L233.59 493 L234.26 493.09 L234.93 493.18 L235.6 493.26 L236.27 493.34 L236.94 493.41 L237.61 493.48 L238.27 493.55 L238.94 493.61 L239.61 493.67 L240.28 493.72 L240.95 493.78 L241.62 493.83 L242.29 493.88 L242.96 493.92 L243.63 493.96 L244.3 494 L244.97 494.04 L245.64 494.07 L246.31 494.11 L246.98 494.14 L247.65 494.17 L248.32 494.2 L248.99 494.22 L249.66 494.25 L250.32 494.27 L250.99 494.29 L251.66 494.31 L252.33 494.33 L253 494.35 L253.67 494.37 L254.34 494.38 L255.01 494.4 L255.68 494.41 L256.35 494.42 L257.02 494.44 L257.69 494.45 L258.36 494.46 L259.03 494.47 L259.7 494.48 L260.37 494.49 L261.04 494.49 L261.7 494.5 L262.37 494.51 L263.04 494.52 L263.71 494.52 L264.38 494.53 L265.05 494.53 L265.72 494.54 L266.39 494.54 L267.06 494.55 L267.73 494.55 L268.4 494.55 L269.07 494.56 L269.74 494.56 L270.41 494.56 L271.08 494.57 L271.75 494.57 L272.42 494.57 L273.08 494.57 L273.75 494.58 L274.42 494.58 L275.09 494.58 L275.76 494.58 L276.43 494.58 L277.1 494.58 L277.77 494.59 L278.44 494.59 L279.11 494.59 L279.78 494.59 L280.45 494.59 L281.12 494.59 L281.79 494.59 L282.46 494.59 L283.13 494.59 L283.8 494.59 L284.47 494.59 L285.13 494.59 L285.8 494.59 L286.47 494.6 L287.14 494.6 L287.81 494.6 L288.48 494.6 L289.15 494.6 L289.82 494.6 L290.49 494.6 L291.16 494.6 L291.83 494.6 L292.5 494.6 L293.17 494.6 L293.84 494.6 L294.51 494.6 L295.18 494.6 L295.85 494.6 L296.51 494.6 L297.18 494.6 L297.85 494.6 L298.52 494.6 L299.19 494.6 L299.86 494.6 L300.53 494.6 L301.2 494.6 L301.87 494.6 L302.54 494.6 L303.21 494.6 L303.88 494.6 L304.55 494.6 L305.22 494.6 L305.89 494.6 L306.56 494.6 L307.23 494.6 L307.89 494.6 L308.56 494.6 L309.23 494.6 L309.9 494.6 L310.57 494.6 L311.24 494.6 L311.91 494.6 L312.58 494.6 L313.25 494.6 L313.92 494.6 L314.59 494.6 L315.26 494.6 L315.93 494.6 L316.6 494.6 L317.27 494.6 L317.94 494.6 L318.61 494.6 L319.28 494.6 L319.94 494.6 L320.61 494.6 L321.28 494.6 L321.95 494.6 L322.62 494.6 L323.29 494.6 L323.96 494.6 L324.63 494.6 L325.3 494.6"/>
<path stroke="#ff8000" d="M58.2 480.3 L58.87 479.69 L59.54 479.06 L60.21 478.41 L60.88 477.74 L61.55 477.05 L62.22 476.34 L62.89 475.6 L63.56 474.84 L64.22 474.06 L64.89 473.26 L65.56 472.43 L66.23 471.58 L66.9 470.71 L67.57 469.82 L68.24 468.9 L68.91 467.95 L69.58 466.98 L70.25 465.99 L70.92 464.97 L71.59 463.93 L72.26 462.87 L72.93 461.78 L73.6 460.66 L74.27 459.52 L74.94 458.36 L75.61 457.17 L76.27 455.96 L76.94 454.72 L77.61 453.46 L78.28 452.17 L78.95 450.86 L79.62 449.53 L80.29 448.18 L80.96 446.8 L81.63 445.4 L82.3 443.98 L82.97 442.53 L83.64 441.07 L84.31 439.59 L84.98 438.08 L85.65 436.56 L86.32 435.02 L86.99 433.46 L87.65 431.88 L88.32 430.28 L88.99 428.68 L89.66 427.05 L90.33 425.41 L91 423.76 L91.67 422.1 L92.34 420.42 L93.01 418.74 L93.68 417.05 L94.35 415.34 L95.02 413.63 L95.69 411.92 L96.36 410.2 L97.03 408.48 L97.7 406.75 L98.37 405.02 L99.03 403.3 L99.7 401.57 L100.37 399.85 L101.04 398.13 L101.71 396.42 L102.38 394.71 L103.05 393.01 L103.72 391.32 L104.39 389.64 L105.06 387.98 L105.73 386.32 L106.4 384.68 L107.07 383.06 L107.74 381.46 L108.41 379.87 L109.08 378.31 L109.75 376.76 L110.42 375.24 L111.08 373.75 L111.75 372.28 L112.42 370.83 L113.09 369.42 L113.76 368.03 L114.43 366.68 L115.1 365.36 L115.77 364.07 L116.44 362.81 L117.11 361.59 L117.78 360.41 L118.45 359.26 L119.12 358.16 L119.79 357.09 L120.46 356.07 L121.13 355.08 L121.8 354.14 L122.46 353.24 L123.13 352.38 L123.8 351.57 L124.47 350.8 L125.14 350.08 L125.81 349.41 L126.48 348.78 L127.15 348.2 L127.82 347.67 L128.49 347.18 L129.16 346.74 L129.83 346.35 L130.5 346.01 L131.17 345.72 L131.84 345.47 L132.51 345.28 L133.18 345.13 L133.84 345.03 L134.51 344.97 L135.18 344.97 L135.85 345.01 L136.52 345.09 L137.19 345.23 L137.86 345.41 L138.53 345.63 L139.2 345.9 L139.87 346.21 L140.54 346.56 L141.21 346.96 L141.88 347.4 L142.55 347.87 L143.22 348.39 L143.89 348.95 L144.56 349.54 L145.23 350.17 L145.89 350.83 L146.56 351.53 L147.23 352.26 L147.9 353.02 L148.57 353.81 L149.24 354.63 L149.91 355.48 L150.58 356.35 L151.25 357.25 L151.92 358.18 L152.59 359.12 L153.26 360.09 L153.93 361.07 L154.6 362.08 L155.27 363.1 L155.94 364.13 L156.61 365.18 L157.27 366.24 L157.94 367.31 L158.61 368.39 L159.28 369.48 L159.95 370.57 L160.62 371.66 L161.29 372.76 L161.96 373.86 L162.63 374.96 L163.3 376.06 L163.97 377.16 L164.64 378.25 L165.31 379.33 L165.98 380.4 L166.65 381.47 L167.32 382.52 L167.99 383.56 L168.65 384.59 L169.32 385.6 L169.99 386.59 L170.66 387.57 L171.33 388.53 L172 389.46 L172.67 390.37 L173.34 391.26 L174.01 392.13 L174.68 392.97 L175.35 393.79 L176.02 394.58 L176.69 395.34 L177.36 396.07 L178.03 396.78 L178.7 397.46 L179.37 398.11 L180.04 398.74 L180.7 399.33 L181.37 399.9 L182.04 400.44 L182.71 400.96 L183.38 401.46 L184.05 401.92 L184.72 402.37 L185.39 402.8 L186.06 403.2 L186.73 403.59 L187.4 403.96 L188.07 404.31 L188.74 404.65 L189.41 404.98 L190.08 405.3 L190.75 405.6 L191.42 405.9 L192.08 406.19 L192.75 406.48 L193.42 406.76 L194.09 407.03 L194.76 407.31 L195.43 407.58 L196.1 407.84 L196.77 408.11 L197.44 408.37 L198.11 408.64 L198.78 408.9 L199.45 409.16 L200.12 409.42 L200.79 409.67 L201.46 409.92 L202.13 410.17 L202.8 410.41 L203.46 410.65 L204.13 410.88 L204.8 411.1 L205.47 411.31 L206.14 411.52 L206.81 411.71 L207.48 411.9 L208.15 412.08 L208.82 412.24 L209.49 412.39 L210.16 412.53 L210.83 412.66 L211.5 412.77 L212.17 412.87 L212.84 412.96 L213.51 413.04 L214.18 413.11 L214.85 413.16 L215.51 413.2 L216.18 413.24 L216.85 413.26 L217.52 413.27 L218.19 413.28 L218.86 413.27 L219.53 413.26 L220.2 413.25 L220.87 413.22 L221.54 413.2 L222.21 413.17 L222.88 413.14 L223.55 413.1 L224.22 413.07 L224.89 413.03 L225.56 413 L226.23 412.97 L226.89 412.94 L227.56 412.91 L228.23 412.89 L228.9 412.87 L229.57 412.85 L230.24 412.84 L230.91 412.84 L231.58 412.84 L232.25 412.85 L232.92 412.87 L233.59 412.9 L234.26 412.93 L234.93 412.97 L235.6 413.02 L236.27 413.08 L236.94 413.15 L237.61 413.23 L238.27 413.32 L238.94 413.42 L239.61 413.53 L240.28 413.65 L240.95 413.78 L241.62 413.92 L242.29 414.07 L242.96 414.23 L243.63 414.4 L244.3 414.58 L244.97 414.77 L245.64 414.97 L246.31 415.18 L246.98 415.4 L247.65 415.63 L248.32 415.86 L248.99 416.1 L249.66 416.35 L250.32 416.6 L250.99 416.85 L251.66 417.11 L252.33 417.36 L253 417.62 L253.67 417.86 L254.34 418.11 L255.01 418.34 L255.68 418.56 L256.35 418.76 L257.02 418.95 L257.69 419.11 L258.36 419.24 L259.03 419.34 L259.7 419.41 L260.37 419.43 L261.04 419.41 L261.7 419.33 L262.37 419.21 L263.04 419.02 L263.71 418.77 L264.38 418.45 L265.05 418.05 L265.72 417.59 L266.39 417.05 L267.06 416.43 L267.73 415.74 L268.4 414.98 L269.07 414.14 L269.74 413.23 L270.41 412.26 L271.08 411.24 L271.75 410.16 L272.42 409.05 L273.08 407.91 L273.75 406.76 L274.42 405.61 L275.09 404.47 L275.76 403.36 L276.43 402.29 L277.1 401.29 L277.77 400.37 L278.44 399.54 L279.11 398.82 L279.78 398.23 L280.45 397.78 L281.12 397.48 L281.79 397.35 L282.46 397.38 L283.13 397.6 L283.8 398.01 L284.47 398.6 L285.13 399.38 L285.8 400.35 L286.47 401.49 L287.14 402.82 L287.81 404.31 L288.48 405.96 L289.15 407.75 L289.82 409.67 L290.49 411.71 L291.16 413.84 L291.83 416.06 L292.5 418.34 L293.17 420.67 L293.84 423.03 L294.51 425.41 L295.18 427.79 L295.85 430.15 L296.51 432.48 L297.18 434.78 L297.85 437.02 L298.52 439.2 L299.19 441.31 L299.86 443.34 L300.53 445.3 L301.2 447.17 L301.87 448.96 L302.54 450.66 L303.21 452.27 L303.88 453.79 L304.55 455.23 L305.22 456.58 L305.89 457.86 L306.56 459.07 L307.23 460.2 L307.89 461.26 L308.56 462.26 L309.23 463.21 L309.9 464.1 L310.57 464.94 L311.24 465.73 L311.91 466.49 L312.58 467.2 L313.25 467.89 L313.92 468.54 L314.59 469.17 L315.26 469.77 L315.93 470.35 L316.6 470.91 L317.27 471.45 L317.94 471.97 L318.61 472.48 L319.28 472.98 L319.94 473.46 L320.61 473.93 L321.28 474.4 L321.95 474.85 L322.62 475.29 L323.29 475.73 L323.96 476.16 L324.63 476.58 L325.3 476.99"/>
</g>
<g font-family="Liberation Sans" font-size="17.3" fill="#000" stroke="#000" stroke-width="0.35">
<text x="58.2" y="515.7" text-anchor="middle">1.5</text>
<text x="124.98" y="515.7" text-anchor="middle">2.0</text>
<text x="191.75" y="515.7" text-anchor="middle">2.5</text>
<text x="258.53" y="515.7" text-anchor="middle">3.0</text>
<text x="325.3" y="515.7" text-anchor="middle">3.5</text>
<text x="50.4" y="499.8" text-anchor="end">0.0</text>
<text x="50.4" y="447.07" text-anchor="end">0.5</text>
<text x="50.4" y="394.35" text-anchor="end">1.0</text>
<text x="50.4" y="341.62" text-anchor="end">1.5</text>
<text x="50.4" y="288.9" text-anchor="end">2.0</text>
</g>
<text x="63.6" y="309.15" font-family="Liberation Serif" font-size="26" fill="#000">(c)</text>
<text x="198.7" y="533.7" text-anchor="middle" font-family="Liberation Serif" font-weight="bold" font-size="19.8" fill="#000">Energy(eV)</text>
<text transform="translate(19.5 389.1) rotate(-90)" text-anchor="middle" font-family="Liberation Serif" font-weight="bold" font-size="19.2" fill="#000">IL Intensity(×10<tspan dy="-10.5" font-size="10">4</tspan><tspan dy="10.5">a.u./eV)</tspan></text>
<g font-family="Liberation Sans" font-size="15.5" fill="#000" stroke="#000" stroke-width="0.3">
<text transform="translate(232 302.1) scale(1 1.06)">10s</text>
<text transform="translate(232 321.3) scale(1 1.06)">3.19eV</text>
<line x1="192.2" y1="316" x2="228.6" y2="316" stroke="#ff0000" stroke-width="1.3" stroke-dasharray="8 3 2 3"/>
<text transform="translate(232 340.5) scale(1 1.06)">2.84eV</text>
<line x1="192.2" y1="335.2" x2="228.6" y2="335.2" stroke="#ff00ff" stroke-width="1.3" stroke-dasharray="8 3 2 3"/>
<text transform="translate(232 359.7) scale(1 1.06)">2.54eV</text>
<line x1="192.2" y1="354.4" x2="228.6" y2="354.4" stroke="#008080" stroke-width="1.3" stroke-dasharray="8 3 2 3"/>
<text transform="translate(232 378.9) scale(1 1.06)">2.05eV</text>
<line x1="192.2" y1="373.6" x2="228.6" y2="373.6" stroke="#0000ff" stroke-width="1.3" stroke-dasharray="8 3 2 3"/>
<text transform="translate(232 398.1) scale(1 1.06)">Cumu.</text>
<line x1="192.2" y1="392.8" x2="228.6" y2="392.8" stroke="#ff8000" stroke-width="1.3" stroke-dasharray="8 3 2 3"/>
</g>
<g fill="#fff" stroke="#555" stroke-width="0.9"><path d="M210.4 293.6L213.6 296.8L210.4 300L207.2 296.8Z"/></g>
<clipPath id="clipd"><rect x="406.8" y="279.6" width="267.5" height="212.1"/></clipPath>
<g fill="#fff" stroke="#222" stroke-width="1.0">
<path d="M406.9 469.37L409.69 474.33L404.11 474.33Z"/>
<path d="M407.36 470.74L410.15 475.7L404.57 475.7Z"/>
<path d="M407.83 472.36L410.62 477.32L405.04 477.32Z"/>
<path d="M408.29 469.81L411.08 474.77L405.5 474.77Z"/>
<path d="M408.76 470.57L411.55 475.53L405.97 475.53Z"/>
<path d="M409.23 468.03L412.02 472.99L406.44 472.99Z"/>
<path d="M409.71 467.68L412.5 472.64L406.92 472.64Z"/>
<path d="M410.18 465.23L412.97 470.19L407.39 470.19Z"/>
<path d="M410.66 465.18L413.45 470.14L407.87 470.14Z"/>
<path d="M411.14 463.96L413.93 468.92L408.35 468.92Z"/>
<path d="M411.62 463.61L414.41 468.57L408.83 468.57Z"/>
<path d="M412.11 464.06L414.9 469.02L409.32 469.02Z"/>
<path d="M412.59 461.75L415.38 466.71L409.8 466.71Z"/>
<path d="M413.08 461.11L415.87 466.07L410.29 466.07Z"/>
<path d="M413.58 459.36L416.37 464.32L410.79 464.32Z"/>
<path d="M414.07 458.08L416.86 463.04L411.28 463.04Z"/>
<path d="M414.57 456.35L417.36 461.31L411.78 461.31Z"/>
<path d="M415.06 454.21L417.85 459.17L412.27 459.17Z"/>
<path d="M415.57 454.88L418.36 459.84L412.78 459.84Z"/>
<path d="M416.07 455.22L418.86 460.18L413.28 460.18Z"/>
<path d="M416.58 452.86L419.37 457.82L413.79 457.82Z"/>
<path d="M417.08 450.65L419.87 455.61L414.29 455.61Z"/>
<path d="M417.59 451.66L420.38 456.62L414.8 456.62Z"/>
<path d="M418.11 448.45L420.9 453.41L415.32 453.41Z"/>
<path d="M418.62 447.18L421.41 452.14L415.83 452.14Z"/>
<path d="M419.14 445.53L421.93 450.49L416.35 450.49Z"/>
<path d="M419.66 444.75L422.45 449.71L416.87 449.71Z"/>
<path d="M420.19 444.45L422.98 449.41L417.4 449.41Z"/>
<path d="M420.71 445.68L423.5 450.64L417.92 450.64Z"/>
<path d="M421.24 442.46L424.03 447.42L418.45 447.42Z"/>
<path d="M421.77 440.61L424.56 445.57L418.98 445.57Z"/>
<path d="M422.31 439.98L425.1 444.94L419.52 444.94Z"/>
<path d="M422.84 439.3L425.63 444.26L420.05 444.26Z"/>
<path d="M423.38 436.74L426.17 441.7L420.59 441.7Z"/>
<path d="M423.92 437.49L426.71 442.45L421.13 442.45Z"/>
<path d="M424.47 436.98L427.26 441.94L421.68 441.94Z"/>
<path d="M425.02 435.5L427.81 440.46L422.23 440.46Z"/>
<path d="M425.57 434.68L428.36 439.64L422.78 439.64Z"/>
<path d="M426.12 431.68L428.91 436.64L423.33 436.64Z"/>
<path d="M426.67 430.15L429.46 435.11L423.88 435.11Z"/>
<path d="M427.23 432.02L430.02 436.98L424.44 436.98Z"/>
<path d="M427.79 430.71L430.58 435.67L425 435.67Z"/>
<path d="M428.36 426.95L431.15 431.91L425.57 431.91Z"/>
<path d="M428.92 427.54L431.71 432.5L426.13 432.5Z"/>
<path d="M429.49 426.18L432.28 431.14L426.7 431.14Z"/>
<path d="M430.07 425.49L432.86 430.45L427.28 430.45Z"/>
<path d="M430.64 423.92L433.43 428.88L427.85 428.88Z"/>
<path d="M431.22 421.97L434.01 426.93L428.43 426.93Z"/>
<path d="M431.8 421.38L434.59 426.34L429.01 426.34Z"/>
<path d="M432.39 420.01L435.18 424.97L429.6 424.97Z"/>
<path d="M432.98 418.41L435.77 423.37L430.19 423.37Z"/>
<path d="M433.57 415.12L436.36 420.08L430.78 420.08Z"/>
<path d="M434.16 412.39L436.95 417.35L431.37 417.35Z"/>
<path d="M434.76 412.9L437.55 417.86L431.97 417.86Z"/>
<path d="M435.36 410.28L438.15 415.24L432.57 415.24Z"/>
<path d="M435.96 410.33L438.75 415.29L433.17 415.29Z"/>
<path d="M436.57 408.9L439.36 413.86L433.78 413.86Z"/>
<path d="M437.18 406.39L439.97 411.35L434.39 411.35Z"/>
<path d="M437.79 403.55L440.58 408.51L435 408.51Z"/>
<path d="M438.41 401.74L441.2 406.7L435.62 406.7Z"/>
<path d="M439.03 400.66L441.82 405.62L436.24 405.62Z"/>
<path d="M439.65 396.8L442.44 401.76L436.86 401.76Z"/>
<path d="M440.27 396.76L443.06 401.72L437.48 401.72Z"/>
<path d="M440.9 394.99L443.69 399.95L438.11 399.95Z"/>
<path d="M441.54 393.11L444.33 398.07L438.75 398.07Z"/>
<path d="M442.17 392.92L444.96 397.88L439.38 397.88Z"/>
<path d="M442.81 389.39L445.6 394.35L440.02 394.35Z"/>
<path d="M443.46 389.68L446.25 394.64L440.67 394.64Z"/>
<path d="M444.1 386.36L446.89 391.32L441.31 391.32Z"/>
<path d="M444.75 385L447.54 389.96L441.96 389.96Z"/>
<path d="M445.41 383.16L448.2 388.12L442.62 388.12Z"/>
<path d="M446.06 383.11L448.85 388.07L443.27 388.07Z"/>
<path d="M446.73 380.15L449.52 385.11L443.94 385.11Z"/>
<path d="M447.39 379.55L450.18 384.51L444.6 384.51Z"/>
<path d="M448.06 376.74L450.85 381.7L445.27 381.7Z"/>
<path d="M448.73 377.28L451.52 382.24L445.94 382.24Z"/>
<path d="M449.41 376.34L452.2 381.3L446.62 381.3Z"/>
<path d="M450.09 372.97L452.88 377.93L447.3 377.93Z"/>
<path d="M450.77 372.57L453.56 377.53L447.98 377.53Z"/>
<path d="M451.46 369.6L454.25 374.56L448.67 374.56Z"/>
<path d="M452.15 369.2L454.94 374.16L449.36 374.16Z"/>
<path d="M452.84 365L455.63 369.96L450.05 369.96Z"/>
<path d="M453.54 361.08L456.33 366.04L450.75 366.04Z"/>
<path d="M454.25 361.82L457.04 366.78L451.46 366.78Z"/>
<path d="M454.95 357.82L457.74 362.78L452.16 362.78Z"/>
<path d="M455.66 354.5L458.45 359.46L452.87 359.46Z"/>
<path d="M456.38 352.47L459.17 357.43L453.59 357.43Z"/>
<path d="M457.1 349.11L459.89 354.07L454.31 354.07Z"/>
<path d="M457.82 348.24L460.61 353.2L455.03 353.2Z"/>
<path d="M458.55 345.1L461.34 350.06L455.76 350.06Z"/>
<path d="M459.28 345.54L462.07 350.5L456.49 350.5Z"/>
<path d="M460.02 342.64L462.81 347.6L457.23 347.6Z"/>
<path d="M460.76 338.2L463.55 343.16L457.97 343.16Z"/>
<path d="M461.5 336.22L464.29 341.18L458.71 341.18Z"/>
<path d="M462.25 335.06L465.04 340.02L459.46 340.02Z"/>
<path d="M463 331.65L465.79 336.61L460.21 336.61Z"/>
<path d="M463.76 331.52L466.55 336.48L460.97 336.48Z"/>
<path d="M464.52 329.77L467.31 334.73L461.73 334.73Z"/>
<path d="M465.29 327.39L468.08 332.35L462.5 332.35Z"/>
<path d="M466.06 326.19L468.85 331.15L463.27 331.15Z"/>
<path d="M466.84 326.06L469.63 331.02L464.05 331.02Z"/>
<path d="M467.62 325.98L470.41 330.94L464.83 330.94Z"/>
<path d="M468.41 325.16L471.2 330.12L465.62 330.12Z"/>
<path d="M469.2 322.9L471.99 327.86L466.41 327.86Z"/>
<path d="M469.99 322.98L472.78 327.94L467.2 327.94Z"/>
<path d="M470.79 320.69L473.58 325.65L468 325.65Z"/>
<path d="M471.59 321.14L474.38 326.1L468.8 326.1Z"/>
<path d="M472.4 319.04L475.19 324L469.61 324Z"/>
<path d="M473.22 319.94L476.01 324.9L470.43 324.9Z"/>
<path d="M474.04 317.09L476.83 322.05L471.25 322.05Z"/>
<path d="M474.86 316.24L477.65 321.2L472.07 321.2Z"/>
<path d="M475.69 315.92L478.48 320.88L472.9 320.88Z"/>
<path d="M476.53 315.19L479.32 320.15L473.74 320.15Z"/>
<path d="M477.37 312.02L480.16 316.98L474.58 316.98Z"/>
<path d="M478.21 312.04L481 317L475.42 317Z"/>
<path d="M479.06 312.26L481.85 317.22L476.27 317.22Z"/>
<path d="M479.92 312.36L482.71 317.32L477.13 317.32Z"/>
<path d="M480.78 311.43L483.57 316.39L477.99 316.39Z"/>
<path d="M481.65 312.6L484.44 317.56L478.86 317.56Z"/>
<path d="M482.52 312.56L485.31 317.52L479.73 317.52Z"/>
<path d="M483.4 314.63L486.19 319.59L480.61 319.59Z"/>
<path d="M484.28 314.25L487.07 319.21L481.49 319.21Z"/>
<path d="M485.17 312.87L487.96 317.83L482.38 317.83Z"/>
<path d="M486.06 312.53L488.85 317.49L483.27 317.49Z"/>
<path d="M486.96 315.42L489.75 320.38L484.17 320.38Z"/>
<path d="M487.87 317.28L490.66 322.24L485.08 322.24Z"/>
<path d="M488.78 317.25L491.57 322.21L485.99 322.21Z"/>
<path d="M489.7 319.11L492.49 324.07L486.91 324.07Z"/>
<path d="M490.62 319.05L493.41 324.01L487.83 324.01Z"/>
<path d="M491.55 319.6L494.34 324.56L488.76 324.56Z"/>
<path d="M492.49 323.24L495.28 328.2L489.7 328.2Z"/>
<path d="M493.43 324.17L496.22 329.13L490.64 329.13Z"/>
<path d="M494.38 326.38L497.17 331.34L491.59 331.34Z"/>
<path d="M495.33 326.05L498.12 331.01L492.54 331.01Z"/>
<path d="M496.3 329.59L499.09 334.55L493.51 334.55Z"/>
<path d="M497.26 330.96L500.05 335.92L494.47 335.92Z"/>
<path d="M498.24 334.7L501.03 339.66L495.45 339.66Z"/>
<path d="M499.22 335.7L502.01 340.66L496.43 340.66Z"/>
<path d="M500.2 338.08L502.99 343.04L497.41 343.04Z"/>
<path d="M501.2 340.47L503.99 345.43L498.41 345.43Z"/>
<path d="M502.2 344.6L504.99 349.56L499.41 349.56Z"/>
<path d="M503.21 345.71L506 350.67L500.42 350.67Z"/>
<path d="M504.22 347.33L507.01 352.29L501.43 352.29Z"/>
<path d="M505.24 349.48L508.03 354.44L502.45 354.44Z"/>
<path d="M506.27 351.83L509.06 356.79L503.48 356.79Z"/>
<path d="M507.3 356.61L510.09 361.57L504.51 361.57Z"/>
<path d="M508.35 355.46L511.14 360.42L505.56 360.42Z"/>
<path d="M509.4 358.35L512.19 363.31L506.61 363.31Z"/>
<path d="M510.45 361.55L513.24 366.51L507.66 366.51Z"/>
<path d="M511.52 363.67L514.31 368.63L508.73 368.63Z"/>
<path d="M512.59 363.85L515.38 368.81L509.8 368.81Z"/>
<path d="M513.67 366.28L516.46 371.24L510.88 371.24Z"/>
<path d="M514.76 367.84L517.55 372.8L511.97 372.8Z"/>
<path d="M515.85 369.79L518.64 374.75L513.06 374.75Z"/>
<path d="M516.95 370.93L519.74 375.89L514.16 375.89Z"/>
<path d="M518.06 375.06L520.85 380.02L515.27 380.02Z"/>
<path d="M519.18 375.95L521.97 380.91L516.39 380.91Z"/>
<path d="M520.31 378.76L523.1 383.72L517.52 383.72Z"/>
<path d="M521.44 377.17L524.23 382.13L518.65 382.13Z"/>
<path d="M522.59 380.13L525.38 385.09L519.8 385.09Z"/>
<path d="M523.74 378.74L526.53 383.7L520.95 383.7Z"/>
<path d="M524.9 379.21L527.69 384.17L522.11 384.17Z"/>
<path d="M526.07 381.85L528.86 386.81L523.28 386.81Z"/>
<path d="M527.24 381.12L530.03 386.08L524.45 386.08Z"/>
<path d="M528.43 382.96L531.22 387.92L525.64 387.92Z"/>
<path d="M529.62 381.99L532.41 386.95L526.83 386.95Z"/>
<path d="M530.82 385.24L533.61 390.2L528.03 390.2Z"/>
<path d="M532.04 384.25L534.83 389.21L529.25 389.21Z"/>
<path d="M533.26 383.78L536.05 388.74L530.47 388.74Z"/>
<path d="M534.49 385.86L537.28 390.82L531.7 390.82Z"/>
<path d="M535.73 387.39L538.52 392.35L532.94 392.35Z"/>
<path d="M536.98 386.56L539.77 391.52L534.19 391.52Z"/>
<path d="M538.23 388.62L541.02 393.58L535.44 393.58Z"/>
<path d="M539.5 390.81L542.29 395.77L536.71 395.77Z"/>
<path d="M540.78 390.13L543.57 395.09L537.99 395.09Z"/>
<path d="M542.07 389.51L544.86 394.47L539.28 394.47Z"/>
<path d="M543.37 388.77L546.16 393.73L540.58 393.73Z"/>
<path d="M544.67 388.99L547.46 393.95L541.88 393.95Z"/>
<path d="M545.99 386.1L548.78 391.06L543.2 391.06Z"/>
<path d="M547.32 384.72L550.11 389.68L544.53 389.68Z"/>
<path d="M548.66 388.03L551.45 392.99L545.87 392.99Z"/>
<path d="M550.01 389.08L552.8 394.04L547.22 394.04Z"/>
<path d="M551.37 393.64L554.16 398.6L548.58 398.6Z"/>
<path d="M552.74 393.76L555.53 398.72L549.95 398.72Z"/>
<path d="M554.12 394.08L556.91 399.04L551.33 399.04Z"/>
<path d="M555.51 394.8L558.3 399.76L552.72 399.76Z"/>
<path d="M556.91 397.11L559.7 402.07L554.12 402.07Z"/>
<path d="M558.33 396.34L561.12 401.3L555.54 401.3Z"/>
<path d="M559.76 397.08L562.55 402.04L556.97 402.04Z"/>
<path d="M561.19 398.02L563.98 402.98L558.4 402.98Z"/>
<path d="M562.64 398.62L565.43 403.58L559.85 403.58Z"/>
<path d="M564.1 399.04L566.89 404L561.31 404Z"/>
<path d="M565.58 399.49L568.37 404.45L562.79 404.45Z"/>
<path d="M567.06 401.15L569.85 406.11L564.27 406.11Z"/>
<path d="M568.56 402.07L571.35 407.03L565.77 407.03Z"/>
<path d="M570.07 399.23L572.86 404.19L567.28 404.19Z"/>
<path d="M571.6 403.98L574.39 408.94L568.81 408.94Z"/>
<path d="M573.13 402.06L575.92 407.02L570.34 407.02Z"/>
<path d="M574.68 403.72L577.47 408.68L571.89 408.68Z"/>
<path d="M576.24 402.3L579.03 407.26L573.45 407.26Z"/>
<path d="M577.82 403.95L580.61 408.91L575.03 408.91Z"/>
<path d="M579.41 404.46L582.2 409.42L576.62 409.42Z"/>
<path d="M581.01 405.04L583.8 410L578.22 410Z"/>
<path d="M582.63 406.53L585.42 411.49L579.84 411.49Z"/>
<path d="M584.26 407.13L587.05 412.09L581.47 412.09Z"/>
<path d="M585.9 406.36L588.69 411.32L583.11 411.32Z"/>
<path d="M587.56 408.15L590.35 413.11L584.77 413.11Z"/>
<path d="M589.24 409.91L592.03 414.87L586.45 414.87Z"/>
<path d="M590.92 410.76L593.71 415.72L588.13 415.72Z"/>
<path d="M592.63 410.59L595.42 415.55L589.84 415.55Z"/>
<path d="M594.35 411.44L597.14 416.4L591.56 416.4Z"/>
<path d="M596.08 412.26L598.87 417.22L593.29 417.22Z"/>
<path d="M597.83 411.91L600.62 416.87L595.04 416.87Z"/>
<path d="M599.6 412.32L602.39 417.28L596.81 417.28Z"/>
<path d="M601.38 415.86L604.17 420.82L598.59 420.82Z"/>
<path d="M603.17 414.81L605.96 419.77L600.38 419.77Z"/>
<path d="M604.99 416.37L607.78 421.33L602.2 421.33Z"/>
<path d="M606.82 416.6L609.61 421.56L604.03 421.56Z"/>
<path d="M608.67 419.58L611.46 424.54L605.88 424.54Z"/>
<path d="M610.53 420.66L613.32 425.62L607.74 425.62Z"/>
<path d="M612.41 419.12L615.2 424.08L609.62 424.08Z"/>
<path d="M614.31 420.19L617.1 425.15L611.52 425.15Z"/>
<path d="M616.23 419.01L619.02 423.97L613.44 423.97Z"/>
<path d="M618.16 421.27L620.95 426.23L615.37 426.23Z"/>
<path d="M620.12 419.88L622.91 424.84L617.33 424.84Z"/>
<path d="M622.09 417.44L624.88 422.4L619.3 422.4Z"/>
<path d="M624.08 418.82L626.87 423.78L621.29 423.78Z"/>
<path d="M626.09 416.94L628.88 421.9L623.3 421.9Z"/>
<path d="M628.12 416.49L630.91 421.45L625.33 421.45Z"/>
<path d="M630.17 417.75L632.96 422.71L627.38 422.71Z"/>
<path d="M632.24 418.89L635.03 423.85L629.45 423.85Z"/>
<path d="M634.33 422.09L637.12 427.05L631.54 427.05Z"/>
<path d="M636.44 426.87L639.23 431.83L633.65 431.83Z"/>
<path d="M638.57 430.61L641.36 435.57L635.78 435.57Z"/>
<path d="M640.73 434.43L643.52 439.39L637.94 439.39Z"/>
<path d="M642.9 442.33L645.69 447.29L640.11 447.29Z"/>
<path d="M645.1 444.55L647.89 449.51L642.31 449.51Z"/>
<path d="M647.31 448.4L650.1 453.36L644.52 453.36Z"/>
<path d="M649.55 451.83L652.34 456.79L646.76 456.79Z"/>
<path d="M651.82 456.15L654.61 461.11L649.03 461.11Z"/>
<path d="M654.1 458.95L656.89 463.91L651.31 463.91Z"/>
<path d="M656.41 460.39L659.2 465.35L653.62 465.35Z"/>
<path d="M658.75 462.9L661.54 467.86L655.96 467.86Z"/>
<path d="M661.11 462.29L663.9 467.25L658.32 467.25Z"/>
<path d="M663.49 465.07L666.28 470.03L660.7 470.03Z"/>
<path d="M665.9 466.5L668.69 471.46L663.11 471.46Z"/>
</g>
<rect x="406.8" y="279.6" width="267.5" height="211.2" fill="none" stroke="#000" stroke-width="1.4"/>
<path d="M406.8 490.8v-7M406.8 279.6v7M420.18 490.8v-3.6M420.18 279.6v3.6M433.55 490.8v-3.6M433.55 279.6v3.6M446.93 490.8v-3.6M446.93 279.6v3.6M460.3 490.8v-3.6M460.3 279.6v3.6M473.68 490.8v-7M473.68 279.6v7M487.05 490.8v-3.6M487.05 279.6v3.6M500.43 490.8v-3.6M500.43 279.6v3.6M513.8 490.8v-3.6M513.8 279.6v3.6M527.17 490.8v-3.6M527.17 279.6v3.6M540.55 490.8v-7M540.55 279.6v7M553.92 490.8v-3.6M553.92 279.6v3.6M567.3 490.8v-3.6M567.3 279.6v3.6M580.67 490.8v-3.6M580.67 279.6v3.6M594.05 490.8v-3.6M594.05 279.6v3.6M607.42 490.8v-7M607.42 279.6v7M620.8 490.8v-3.6M620.8 279.6v3.6M634.17 490.8v-3.6M634.17 279.6v3.6M647.55 490.8v-3.6M647.55 279.6v3.6M660.92 490.8v-3.6M660.92 279.6v3.6M674.3 490.8v-7M674.3 279.6v7M406.8 490.8h7M674.3 490.8h-7M406.8 473.2h3.6M674.3 473.2h-3.6M406.8 455.6h7M674.3 455.6h-7M406.8 438h3.6M674.3 438h-3.6M406.8 420.4h7M674.3 420.4h-7M406.8 402.8h3.6M674.3 402.8h-3.6M406.8 385.2h7M674.3 385.2h-7M406.8 367.6h3.6M674.3 367.6h-3.6M406.8 350h7M674.3 350h-7M406.8 332.4h3.6M674.3 332.4h-3.6M406.8 314.8h7M674.3 314.8h-7M406.8 297.2h3.6M674.3 297.2h-3.6M406.8 279.6h7M674.3 279.6h-7" stroke="#000" stroke-width="1.3" fill="none"/>
<g fill="none" stroke-width="1.45" stroke-dasharray="8 3 2 3" clip-path="url(#clipd)">
<path stroke="#ff0000" d="M406.8 490.8 L407.45 490.8 L408.1 490.8 L408.76 490.8 L409.41 490.8 L410.06 490.8 L410.71 490.8 L411.36 490.8 L412.02 490.8 L412.67 490.8 L413.32 490.8 L413.97 490.8 L414.62 490.8 L415.28 490.8 L415.93 490.8 L416.58 490.8 L417.23 490.8 L417.88 490.8 L418.54 490.8 L419.19 490.8 L419.84 490.8 L420.49 490.8 L421.14 490.8 L421.8 490.8 L422.45 490.8 L423.1 490.8 L423.75 490.8 L424.4 490.8 L425.06 490.8 L425.71 490.8 L426.36 490.8 L427.01 490.8 L427.66 490.8 L428.32 490.8 L428.97 490.8 L429.62 490.8 L430.27 490.8 L430.92 490.8 L431.58 490.8 L432.23 490.8 L432.88 490.8 L433.53 490.8 L434.18 490.8 L434.84 490.8 L435.49 490.8 L436.14 490.8 L436.79 490.8 L437.44 490.8 L438.1 490.8 L438.75 490.8 L439.4 490.8 L440.05 490.8 L440.7 490.8 L441.36 490.8 L442.01 490.8 L442.66 490.8 L443.31 490.8 L443.96 490.8 L444.62 490.8 L445.27 490.8 L445.92 490.8 L446.57 490.8 L447.22 490.8 L447.88 490.8 L448.53 490.8 L449.18 490.8 L449.83 490.8 L450.48 490.8 L451.14 490.8 L451.79 490.8 L452.44 490.8 L453.09 490.8 L453.74 490.8 L454.4 490.8 L455.05 490.8 L455.7 490.8 L456.35 490.8 L457 490.8 L457.66 490.8 L458.31 490.8 L458.96 490.8 L459.61 490.8 L460.26 490.8 L460.92 490.8 L461.57 490.8 L462.22 490.8 L462.87 490.8 L463.52 490.8 L464.18 490.8 L464.83 490.8 L465.48 490.8 L466.13 490.8 L466.78 490.8 L467.44 490.8 L468.09 490.8 L468.74 490.8 L469.39 490.8 L470.04 490.8 L470.69 490.8 L471.35 490.8 L472 490.8 L472.65 490.8 L473.3 490.8 L473.95 490.8 L474.61 490.8 L475.26 490.8 L475.91 490.8 L476.56 490.8 L477.21 490.8 L477.87 490.8 L478.52 490.8 L479.17 490.8 L479.82 490.8 L480.47 490.8 L481.13 490.8 L481.78 490.8 L482.43 490.8 L483.08 490.8 L483.73 490.8 L484.39 490.8 L485.04 490.8 L485.69 490.8 L486.34 490.8 L486.99 490.8 L487.65 490.8 L488.3 490.8 L488.95 490.8 L489.6 490.8 L490.25 490.8 L490.91 490.8 L491.56 490.8 L492.21 490.8 L492.86 490.8 L493.51 490.8 L494.17 490.8 L494.82 490.8 L495.47 490.8 L496.12 490.8 L496.77 490.8 L497.43 490.8 L498.08 490.8 L498.73 490.8 L499.38 490.8 L500.03 490.8 L500.69 490.8 L501.34 490.8 L501.99 490.8 L502.64 490.8 L503.29 490.8 L503.95 490.8 L504.6 490.8 L505.25 490.8 L505.9 490.8 L506.55 490.8 L507.21 490.8 L507.86 490.8 L508.51 490.8 L509.16 490.8 L509.81 490.8 L510.47 490.8 L511.12 490.8 L511.77 490.8 L512.42 490.8 L513.07 490.8 L513.73 490.8 L514.38 490.8 L515.03 490.8 L515.68 490.8 L516.33 490.8 L516.99 490.8 L517.64 490.8 L518.29 490.8 L518.94 490.8 L519.59 490.8 L520.25 490.8 L520.9 490.8 L521.55 490.8 L522.2 490.8 L522.85 490.8 L523.51 490.8 L524.16 490.8 L524.81 490.8 L525.46 490.8 L526.11 490.8 L526.77 490.8 L527.42 490.8 L528.07 490.8 L528.72 490.8 L529.37 490.8 L530.03 490.8 L530.68 490.8 L531.33 490.8 L531.98 490.8 L532.63 490.8 L533.29 490.8 L533.94 490.8 L534.59 490.8 L535.24 490.8 L535.89 490.8 L536.55 490.8 L537.2 490.8 L537.85 490.8 L538.5 490.8 L539.15 490.8 L539.81 490.8 L540.46 490.8 L541.11 490.8 L541.76 490.8 L542.41 490.8 L543.07 490.8 L543.72 490.8 L544.37 490.8 L545.02 490.8 L545.67 490.8 L546.33 490.8 L546.98 490.8 L547.63 490.8 L548.28 490.8 L548.93 490.8 L549.59 490.8 L550.24 490.8 L550.89 490.8 L551.54 490.8 L552.19 490.8 L552.85 490.8 L553.5 490.8 L554.15 490.8 L554.8 490.8 L555.45 490.8 L556.11 490.8 L556.76 490.8 L557.41 490.8 L558.06 490.8 L558.71 490.8 L559.37 490.8 L560.02 490.8 L560.67 490.8 L561.32 490.8 L561.97 490.8 L562.63 490.8 L563.28 490.8 L563.93 490.8 L564.58 490.8 L565.23 490.8 L565.89 490.8 L566.54 490.8 L567.19 490.8 L567.84 490.8 L568.49 490.8 L569.15 490.8 L569.8 490.8 L570.45 490.8 L571.1 490.8 L571.75 490.8 L572.41 490.8 L573.06 490.8 L573.71 490.8 L574.36 490.8 L575.01 490.8 L575.67 490.8 L576.32 490.8 L576.97 490.8 L577.62 490.8 L578.27 490.8 L578.93 490.8 L579.58 490.8 L580.23 490.8 L580.88 490.8 L581.53 490.8 L582.19 490.8 L582.84 490.8 L583.49 490.8 L584.14 490.8 L584.79 490.8 L585.45 490.8 L586.1 490.8 L586.75 490.8 L587.4 490.8 L588.05 490.8 L588.71 490.8 L589.36 490.8 L590.01 490.8 L590.66 490.8 L591.31 490.8 L591.96 490.8 L592.62 490.8 L593.27 490.8 L593.92 490.8 L594.57 490.8 L595.22 490.8 L595.88 490.8 L596.53 490.8 L597.18 490.8 L597.83 490.8 L598.48 490.79 L599.14 490.79 L599.79 490.79 L600.44 490.79 L601.09 490.78 L601.74 490.77 L602.4 490.77 L603.05 490.76 L603.7 490.74 L604.35 490.73 L605 490.7 L605.66 490.68 L606.31 490.65 L606.96 490.61 L607.61 490.56 L608.26 490.49 L608.92 490.42 L609.57 490.33 L610.22 490.23 L610.87 490.1 L611.52 489.95 L612.18 489.78 L612.83 489.58 L613.48 489.34 L614.13 489.07 L614.78 488.77 L615.44 488.42 L616.09 488.03 L616.74 487.59 L617.39 487.11 L618.04 486.58 L618.7 486 L619.35 485.37 L620 484.69 L620.65 483.98 L621.3 483.22 L621.96 482.42 L622.61 481.6 L623.26 480.75 L623.91 479.89 L624.56 479.02 L625.22 478.15 L625.87 477.31 L626.52 476.48 L627.17 475.7 L627.82 474.97 L628.48 474.29 L629.13 473.69 L629.78 473.16 L630.43 472.73 L631.08 472.39 L631.74 472.16 L632.39 472.03 L633.04 472.01 L633.69 472.1 L634.34 472.29 L635 472.59 L635.65 472.99 L636.3 473.48 L636.95 474.05 L637.6 474.7 L638.26 475.42 L638.91 476.18 L639.56 476.99 L640.21 477.83 L640.86 478.69 L641.52 479.56 L642.17 480.42 L642.82 481.28 L643.47 482.11 L644.12 482.92 L644.78 483.69 L645.43 484.43 L646.08 485.12 L646.73 485.77 L647.38 486.36 L648.04 486.91 L648.69 487.42 L649.34 487.87 L649.99 488.28 L650.64 488.64 L651.3 488.96 L651.95 489.24 L652.6 489.49 L653.25 489.71 L653.9 489.89 L654.56 490.05 L655.21 490.18 L655.86 490.29 L656.51 490.39 L657.16 490.47 L657.82 490.53 L658.47 490.59 L659.12 490.63 L659.77 490.67 L660.42 490.7 L661.08 490.72 L661.73 490.74 L662.38 490.75 L663.03 490.76 L663.68 490.77 L664.34 490.78 L664.99 490.78 L665.64 490.79 L666.29 490.79 L666.94 490.79"/>
<path stroke="#ff00ff" d="M406.8 490.78 L407.45 490.78 L408.1 490.77 L408.76 490.77 L409.41 490.77 L410.06 490.77 L410.71 490.77 L411.36 490.77 L412.02 490.76 L412.67 490.76 L413.32 490.76 L413.97 490.76 L414.62 490.76 L415.28 490.75 L415.93 490.75 L416.58 490.75 L417.23 490.74 L417.88 490.74 L418.54 490.74 L419.19 490.74 L419.84 490.73 L420.49 490.73 L421.14 490.72 L421.8 490.72 L422.45 490.72 L423.1 490.71 L423.75 490.71 L424.4 490.7 L425.06 490.7 L425.71 490.69 L426.36 490.69 L427.01 490.68 L427.66 490.67 L428.32 490.67 L428.97 490.66 L429.62 490.65 L430.27 490.65 L430.92 490.64 L431.58 490.63 L432.23 490.62 L432.88 490.61 L433.53 490.6 L434.18 490.59 L434.84 490.58 L435.49 490.57 L436.14 490.56 L436.79 490.55 L437.44 490.54 L438.1 490.52 L438.75 490.51 L439.4 490.5 L440.05 490.48 L440.7 490.47 L441.36 490.45 L442.01 490.43 L442.66 490.42 L443.31 490.4 L443.96 490.38 L444.62 490.36 L445.27 490.34 L445.92 490.32 L446.57 490.3 L447.22 490.27 L447.88 490.25 L448.53 490.23 L449.18 490.2 L449.83 490.17 L450.48 490.15 L451.14 490.12 L451.79 490.09 L452.44 490.05 L453.09 490.02 L453.74 489.99 L454.4 489.95 L455.05 489.92 L455.7 489.88 L456.35 489.84 L457 489.8 L457.66 489.76 L458.31 489.71 L458.96 489.67 L459.61 489.62 L460.26 489.57 L460.92 489.52 L461.57 489.47 L462.22 489.41 L462.87 489.36 L463.52 489.3 L464.18 489.24 L464.83 489.18 L465.48 489.11 L466.13 489.05 L466.78 488.98 L467.44 488.91 L468.09 488.83 L468.74 488.76 L469.39 488.68 L470.04 488.6 L470.69 488.51 L471.35 488.43 L472 488.34 L472.65 488.25 L473.3 488.15 L473.95 488.05 L474.61 487.95 L475.26 487.85 L475.91 487.74 L476.56 487.63 L477.21 487.52 L477.87 487.4 L478.52 487.28 L479.17 487.15 L479.82 487.02 L480.47 486.89 L481.13 486.76 L481.78 486.62 L482.43 486.47 L483.08 486.33 L483.73 486.17 L484.39 486.02 L485.04 485.86 L485.69 485.69 L486.34 485.52 L486.99 485.35 L487.65 485.17 L488.3 484.99 L488.95 484.8 L489.6 484.61 L490.25 484.41 L490.91 484.21 L491.56 484 L492.21 483.79 L492.86 483.57 L493.51 483.35 L494.17 483.12 L494.82 482.89 L495.47 482.65 L496.12 482.41 L496.77 482.16 L497.43 481.9 L498.08 481.64 L498.73 481.37 L499.38 481.1 L500.03 480.82 L500.69 480.53 L501.34 480.24 L501.99 479.95 L502.64 479.64 L503.29 479.33 L503.95 479.02 L504.6 478.7 L505.25 478.37 L505.9 478.03 L506.55 477.69 L507.21 477.35 L507.86 476.99 L508.51 476.63 L509.16 476.26 L509.81 475.89 L510.47 475.51 L511.12 475.12 L511.77 474.73 L512.42 474.33 L513.07 473.93 L513.73 473.51 L514.38 473.09 L515.03 472.67 L515.68 472.24 L516.33 471.8 L516.99 471.35 L517.64 470.9 L518.29 470.44 L518.94 469.98 L519.59 469.51 L520.25 469.03 L520.9 468.55 L521.55 468.06 L522.2 467.56 L522.85 467.06 L523.51 466.55 L524.16 466.04 L524.81 465.52 L525.46 464.99 L526.11 464.46 L526.77 463.92 L527.42 463.38 L528.07 462.83 L528.72 462.28 L529.37 461.72 L530.03 461.16 L530.68 460.59 L531.33 460.02 L531.98 459.44 L532.63 458.86 L533.29 458.28 L533.94 457.69 L534.59 457.09 L535.24 456.49 L535.89 455.89 L536.55 455.29 L537.2 454.68 L537.85 454.07 L538.5 453.46 L539.15 452.84 L539.81 452.22 L540.46 451.6 L541.11 450.97 L541.76 450.35 L542.41 449.72 L543.07 449.09 L543.72 448.46 L544.37 447.83 L545.02 447.2 L545.67 446.57 L546.33 445.94 L546.98 445.31 L547.63 444.68 L548.28 444.05 L548.93 443.42 L549.59 442.79 L550.24 442.16 L550.89 441.53 L551.54 440.91 L552.19 440.29 L552.85 439.67 L553.5 439.05 L554.15 438.44 L554.8 437.83 L555.45 437.22 L556.11 436.62 L556.76 436.02 L557.41 435.43 L558.06 434.84 L558.71 434.25 L559.37 433.68 L560.02 433.1 L560.67 432.53 L561.32 431.97 L561.97 431.42 L562.63 430.87 L563.28 430.33 L563.93 429.79 L564.58 429.27 L565.23 428.75 L565.89 428.24 L566.54 427.74 L567.19 427.24 L567.84 426.76 L568.49 426.28 L569.15 425.82 L569.8 425.36 L570.45 424.92 L571.1 424.48 L571.75 424.06 L572.41 423.64 L573.06 423.24 L573.71 422.84 L574.36 422.46 L575.01 422.09 L575.67 421.73 L576.32 421.39 L576.97 421.05 L577.62 420.73 L578.27 420.42 L578.93 420.13 L579.58 419.85 L580.23 419.58 L580.88 419.32 L581.53 419.07 L582.19 418.84 L582.84 418.63 L583.49 418.43 L584.14 418.24 L584.79 418.06 L585.45 417.9 L586.1 417.76 L586.75 417.62 L587.4 417.51 L588.05 417.4 L588.71 417.32 L589.36 417.24 L590.01 417.18 L590.66 417.14 L591.31 417.11 L591.96 417.09 L592.62 417.09 L593.27 417.11 L593.92 417.14 L594.57 417.18 L595.22 417.24 L595.88 417.31 L596.53 417.4 L597.18 417.5 L597.83 417.62 L598.48 417.75 L599.14 417.89 L599.79 418.05 L600.44 418.23 L601.09 418.41 L601.74 418.62 L602.4 418.83 L603.05 419.06 L603.7 419.3 L604.35 419.56 L605 419.83 L605.66 420.11 L606.31 420.41 L606.96 420.71 L607.61 421.03 L608.26 421.37 L608.92 421.71 L609.57 422.07 L610.22 422.44 L610.87 422.82 L611.52 423.21 L612.18 423.61 L612.83 424.03 L613.48 424.45 L614.13 424.89 L614.78 425.33 L615.44 425.79 L616.09 426.26 L616.74 426.73 L617.39 427.21 L618.04 427.71 L618.7 428.21 L619.35 428.72 L620 429.24 L620.65 429.76 L621.3 430.29 L621.96 430.84 L622.61 431.38 L623.26 431.94 L623.91 432.5 L624.56 433.07 L625.22 433.64 L625.87 434.22 L626.52 434.8 L627.17 435.39 L627.82 435.98 L628.48 436.58 L629.13 437.19 L629.78 437.79 L630.43 438.4 L631.08 439.02 L631.74 439.63 L632.39 440.25 L633.04 440.87 L633.69 441.5 L634.34 442.12 L635 442.75 L635.65 443.38 L636.3 444.01 L636.95 444.64 L637.6 445.27 L638.26 445.9 L638.91 446.53 L639.56 447.16 L640.21 447.79 L640.86 448.43 L641.52 449.05 L642.17 449.68 L642.82 450.31 L643.47 450.94 L644.12 451.56 L644.78 452.18 L645.43 452.8 L646.08 453.42 L646.73 454.03 L647.38 454.64 L648.04 455.25 L648.69 455.86 L649.34 456.46 L649.99 457.05 L650.64 457.65 L651.3 458.24 L651.95 458.82 L652.6 459.41 L653.25 459.98 L653.9 460.56 L654.56 461.12 L655.21 461.69 L655.86 462.25 L656.51 462.8 L657.16 463.35 L657.82 463.89 L658.47 464.43 L659.12 464.96 L659.77 465.48 L660.42 466 L661.08 466.52 L661.73 467.03 L662.38 467.53 L663.03 468.02 L663.68 468.51 L664.34 469 L664.99 469.48 L665.64 469.95 L666.29 470.41 L666.94 470.87"/>
<path stroke="#008080" d="M406.8 490.8 L407.45 490.8 L408.1 490.8 L408.76 490.8 L409.41 490.8 L410.06 490.8 L410.71 490.8 L411.36 490.8 L412.02 490.8 L412.67 490.8 L413.32 490.8 L413.97 490.8 L414.62 490.8 L415.28 490.8 L415.93 490.8 L416.58 490.8 L417.23 490.8 L417.88 490.8 L418.54 490.8 L419.19 490.8 L419.84 490.8 L420.49 490.8 L421.14 490.8 L421.8 490.8 L422.45 490.8 L423.1 490.8 L423.75 490.8 L424.4 490.8 L425.06 490.8 L425.71 490.8 L426.36 490.8 L427.01 490.8 L427.66 490.8 L428.32 490.8 L428.97 490.8 L429.62 490.8 L430.27 490.8 L430.92 490.8 L431.58 490.8 L432.23 490.8 L432.88 490.8 L433.53 490.8 L434.18 490.8 L434.84 490.8 L435.49 490.8 L436.14 490.8 L436.79 490.8 L437.44 490.8 L438.1 490.8 L438.75 490.8 L439.4 490.8 L440.05 490.8 L440.7 490.8 L441.36 490.8 L442.01 490.8 L442.66 490.8 L443.31 490.8 L443.96 490.8 L444.62 490.8 L445.27 490.8 L445.92 490.8 L446.57 490.8 L447.22 490.8 L447.88 490.8 L448.53 490.8 L449.18 490.8 L449.83 490.8 L450.48 490.8 L451.14 490.8 L451.79 490.8 L452.44 490.8 L453.09 490.8 L453.74 490.8 L454.4 490.8 L455.05 490.8 L455.7 490.8 L456.35 490.8 L457 490.8 L457.66 490.8 L458.31 490.8 L458.96 490.8 L459.61 490.8 L460.26 490.8 L460.92 490.8 L461.57 490.8 L462.22 490.8 L462.87 490.8 L463.52 490.8 L464.18 490.8 L464.83 490.8 L465.48 490.8 L466.13 490.8 L466.78 490.8 L467.44 490.8 L468.09 490.8 L468.74 490.8 L469.39 490.8 L470.04 490.8 L470.69 490.8 L471.35 490.8 L472 490.8 L472.65 490.79 L473.3 490.79 L473.95 490.79 L474.61 490.79 L475.26 490.79 L475.91 490.79 L476.56 490.79 L477.21 490.79 L477.87 490.78 L478.52 490.78 L479.17 490.78 L479.82 490.77 L480.47 490.77 L481.13 490.77 L481.78 490.76 L482.43 490.76 L483.08 490.75 L483.73 490.74 L484.39 490.74 L485.04 490.73 L485.69 490.72 L486.34 490.71 L486.99 490.7 L487.65 490.69 L488.3 490.67 L488.95 490.66 L489.6 490.64 L490.25 490.62 L490.91 490.6 L491.56 490.57 L492.21 490.55 L492.86 490.52 L493.51 490.49 L494.17 490.45 L494.82 490.41 L495.47 490.37 L496.12 490.32 L496.77 490.27 L497.43 490.22 L498.08 490.16 L498.73 490.09 L499.38 490.02 L500.03 489.94 L500.69 489.86 L501.34 489.77 L501.99 489.67 L502.64 489.56 L503.29 489.45 L503.95 489.33 L504.6 489.2 L505.25 489.05 L505.9 488.9 L506.55 488.74 L507.21 488.57 L507.86 488.38 L508.51 488.19 L509.16 487.98 L509.81 487.75 L510.47 487.52 L511.12 487.27 L511.77 487.01 L512.42 486.73 L513.07 486.44 L513.73 486.13 L514.38 485.81 L515.03 485.47 L515.68 485.12 L516.33 484.75 L516.99 484.36 L517.64 483.96 L518.29 483.55 L518.94 483.11 L519.59 482.66 L520.25 482.2 L520.9 481.72 L521.55 481.23 L522.2 480.72 L522.85 480.2 L523.51 479.67 L524.16 479.13 L524.81 478.57 L525.46 478 L526.11 477.43 L526.77 476.85 L527.42 476.26 L528.07 475.66 L528.72 475.06 L529.37 474.45 L530.03 473.85 L530.68 473.24 L531.33 472.64 L531.98 472.04 L532.63 471.44 L533.29 470.85 L533.94 470.26 L534.59 469.69 L535.24 469.13 L535.89 468.58 L536.55 468.05 L537.2 467.53 L537.85 467.03 L538.5 466.55 L539.15 466.1 L539.81 465.66 L540.46 465.25 L541.11 464.87 L541.76 464.52 L542.41 464.19 L543.07 463.89 L543.72 463.63 L544.37 463.4 L545.02 463.2 L545.67 463.03 L546.33 462.9 L546.98 462.8 L547.63 462.74 L548.28 462.71 L548.93 462.72 L549.59 462.77 L550.24 462.85 L550.89 462.96 L551.54 463.11 L552.19 463.29 L552.85 463.51 L553.5 463.76 L554.15 464.04 L554.8 464.35 L555.45 464.69 L556.11 465.06 L556.76 465.46 L557.41 465.88 L558.06 466.33 L558.71 466.79 L559.37 467.28 L560.02 467.79 L560.67 468.32 L561.32 468.86 L561.97 469.41 L562.63 469.98 L563.28 470.56 L563.93 471.15 L564.58 471.74 L565.23 472.34 L565.89 472.95 L566.54 473.55 L567.19 474.16 L567.84 474.76 L568.49 475.37 L569.15 475.96 L569.8 476.56 L570.45 477.14 L571.1 477.72 L571.75 478.3 L572.41 478.86 L573.06 479.41 L573.71 479.95 L574.36 480.47 L575.01 480.98 L575.67 481.48 L576.32 481.97 L576.97 482.44 L577.62 482.9 L578.27 483.34 L578.93 483.76 L579.58 484.17 L580.23 484.56 L580.88 484.94 L581.53 485.3 L582.19 485.65 L582.84 485.98 L583.49 486.29 L584.14 486.59 L584.79 486.87 L585.45 487.14 L586.1 487.4 L586.75 487.64 L587.4 487.87 L588.05 488.09 L588.71 488.29 L589.36 488.48 L590.01 488.66 L590.66 488.82 L591.31 488.98 L591.96 489.13 L592.62 489.26 L593.27 489.39 L593.92 489.51 L594.57 489.62 L595.22 489.72 L595.88 489.82 L596.53 489.9 L597.18 489.98 L597.83 490.06 L598.48 490.13 L599.14 490.19 L599.79 490.25 L600.44 490.3 L601.09 490.35 L601.74 490.39 L602.4 490.43 L603.05 490.47 L603.7 490.5 L604.35 490.53 L605 490.56 L605.66 490.59 L606.31 490.61 L606.96 490.63 L607.61 490.65 L608.26 490.66 L608.92 490.68 L609.57 490.69 L610.22 490.7 L610.87 490.72 L611.52 490.73 L612.18 490.73 L612.83 490.74 L613.48 490.75 L614.13 490.75 L614.78 490.76 L615.44 490.76 L616.09 490.77 L616.74 490.77 L617.39 490.78 L618.04 490.78 L618.7 490.78 L619.35 490.78 L620 490.79 L620.65 490.79 L621.3 490.79 L621.96 490.79 L622.61 490.79 L623.26 490.79 L623.91 490.79 L624.56 490.79 L625.22 490.8 L625.87 490.8 L626.52 490.8 L627.17 490.8 L627.82 490.8 L628.48 490.8 L629.13 490.8 L629.78 490.8 L630.43 490.8 L631.08 490.8 L631.74 490.8 L632.39 490.8 L633.04 490.8 L633.69 490.8 L634.34 490.8 L635 490.8 L635.65 490.8 L636.3 490.8 L636.95 490.8 L637.6 490.8 L638.26 490.8 L638.91 490.8 L639.56 490.8 L640.21 490.8 L640.86 490.8 L641.52 490.8 L642.17 490.8 L642.82 490.8 L643.47 490.8 L644.12 490.8 L644.78 490.8 L645.43 490.8 L646.08 490.8 L646.73 490.8 L647.38 490.8 L648.04 490.8 L648.69 490.8 L649.34 490.8 L649.99 490.8 L650.64 490.8 L651.3 490.8 L651.95 490.8 L652.6 490.8 L653.25 490.8 L653.9 490.8 L654.56 490.8 L655.21 490.8 L655.86 490.8 L656.51 490.8 L657.16 490.8 L657.82 490.8 L658.47 490.8 L659.12 490.8 L659.77 490.8 L660.42 490.8 L661.08 490.8 L661.73 490.8 L662.38 490.8 L663.03 490.8 L663.68 490.8 L664.34 490.8 L664.99 490.8 L665.64 490.8 L666.29 490.8 L666.94 490.8"/>
<path stroke="#0000ff" d="M406.8 472.57 L407.45 471.83 L408.1 471.06 L408.76 470.26 L409.41 469.44 L410.06 468.6 L410.71 467.73 L411.36 466.83 L412.02 465.91 L412.67 464.97 L413.32 463.99 L413.97 463 L414.62 461.97 L415.28 460.92 L415.93 459.84 L416.58 458.73 L417.23 457.6 L417.88 456.44 L418.54 455.25 L419.19 454.03 L419.84 452.79 L420.49 451.52 L421.14 450.22 L421.8 448.89 L422.45 447.54 L423.1 446.15 L423.75 444.74 L424.4 443.31 L425.06 441.84 L425.71 440.35 L426.36 438.84 L427.01 437.29 L427.66 435.72 L428.32 434.13 L428.97 432.51 L429.62 430.87 L430.27 429.2 L430.92 427.51 L431.58 425.8 L432.23 424.06 L432.88 422.31 L433.53 420.53 L434.18 418.73 L434.84 416.92 L435.49 415.09 L436.14 413.24 L436.79 411.37 L437.44 409.49 L438.1 407.59 L438.75 405.68 L439.4 403.76 L440.05 401.83 L440.7 399.89 L441.36 397.94 L442.01 395.98 L442.66 394.02 L443.31 392.05 L443.96 390.08 L444.62 388.11 L445.27 386.14 L445.92 384.16 L446.57 382.19 L447.22 380.23 L447.88 378.27 L448.53 376.32 L449.18 374.37 L449.83 372.44 L450.48 370.52 L451.14 368.61 L451.79 366.72 L452.44 364.84 L453.09 362.98 L453.74 361.14 L454.4 359.33 L455.05 357.53 L455.7 355.77 L456.35 354.02 L457 352.31 L457.66 350.63 L458.31 348.97 L458.96 347.36 L459.61 345.77 L460.26 344.22 L460.92 342.71 L461.57 341.24 L462.22 339.81 L462.87 338.42 L463.52 337.07 L464.18 335.77 L464.83 334.51 L465.48 333.3 L466.13 332.14 L466.78 331.04 L467.44 329.98 L468.09 328.97 L468.74 328.02 L469.39 327.12 L470.04 326.27 L470.69 325.49 L471.35 324.76 L472 324.08 L472.65 323.47 L473.3 322.91 L473.95 322.42 L474.61 321.98 L475.26 321.61 L475.91 321.29 L476.56 321.04 L477.21 320.85 L477.87 320.72 L478.52 320.65 L479.17 320.65 L479.82 320.71 L480.47 320.83 L481.13 321.01 L481.78 321.25 L482.43 321.56 L483.08 321.92 L483.73 322.35 L484.39 322.84 L485.04 323.38 L485.69 323.99 L486.34 324.66 L486.99 325.38 L487.65 326.16 L488.3 326.99 L488.95 327.89 L489.6 328.83 L490.25 329.83 L490.91 330.88 L491.56 331.98 L492.21 333.14 L492.86 334.34 L493.51 335.59 L494.17 336.88 L494.82 338.22 L495.47 339.61 L496.12 341.03 L496.77 342.5 L497.43 344 L498.08 345.55 L498.73 347.13 L499.38 348.74 L500.03 350.39 L500.69 352.07 L501.34 353.78 L501.99 355.52 L502.64 357.28 L503.29 359.07 L503.95 360.88 L504.6 362.72 L505.25 364.57 L505.9 366.45 L506.55 368.34 L507.21 370.25 L507.86 372.17 L508.51 374.1 L509.16 376.04 L509.81 377.99 L510.47 379.95 L511.12 381.91 L511.77 383.88 L512.42 385.85 L513.07 387.83 L513.73 389.8 L514.38 391.77 L515.03 393.74 L515.68 395.7 L516.33 397.66 L516.99 399.61 L517.64 401.55 L518.29 403.49 L518.94 405.41 L519.59 407.32 L520.25 409.22 L520.9 411.1 L521.55 412.97 L522.2 414.82 L522.85 416.66 L523.51 418.48 L524.16 420.28 L524.81 422.06 L525.46 423.81 L526.11 425.55 L526.77 427.27 L527.42 428.96 L528.07 430.63 L528.72 432.28 L529.37 433.9 L530.03 435.5 L530.68 437.07 L531.33 438.62 L531.98 440.14 L532.63 441.63 L533.29 443.1 L533.94 444.54 L534.59 445.95 L535.24 447.34 L535.89 448.7 L536.55 450.03 L537.2 451.33 L537.85 452.61 L538.5 453.86 L539.15 455.08 L539.81 456.27 L540.46 457.44 L541.11 458.57 L541.76 459.68 L542.41 460.77 L543.07 461.82 L543.72 462.85 L544.37 463.85 L545.02 464.83 L545.67 465.78 L546.33 466.7 L546.98 467.6 L547.63 468.47 L548.28 469.32 L548.93 470.14 L549.59 470.94 L550.24 471.72 L550.89 472.47 L551.54 473.2 L552.19 473.9 L552.85 474.59 L553.5 475.25 L554.15 475.89 L554.8 476.51 L555.45 477.1 L556.11 477.68 L556.76 478.24 L557.41 478.78 L558.06 479.3 L558.71 479.8 L559.37 480.28 L560.02 480.75 L560.67 481.2 L561.32 481.63 L561.97 482.04 L562.63 482.44 L563.28 482.83 L563.93 483.2 L564.58 483.55 L565.23 483.89 L565.89 484.22 L566.54 484.54 L567.19 484.84 L567.84 485.13 L568.49 485.4 L569.15 485.67 L569.8 485.92 L570.45 486.17 L571.1 486.4 L571.75 486.62 L572.41 486.83 L573.06 487.04 L573.71 487.23 L574.36 487.42 L575.01 487.59 L575.67 487.76 L576.32 487.92 L576.97 488.08 L577.62 488.22 L578.27 488.36 L578.93 488.49 L579.58 488.62 L580.23 488.74 L580.88 488.85 L581.53 488.96 L582.19 489.07 L582.84 489.16 L583.49 489.26 L584.14 489.34 L584.79 489.43 L585.45 489.51 L586.1 489.58 L586.75 489.65 L587.4 489.72 L588.05 489.79 L588.71 489.85 L589.36 489.9 L590.01 489.96 L590.66 490.01 L591.31 490.06 L591.96 490.1 L592.62 490.14 L593.27 490.19 L593.92 490.22 L594.57 490.26 L595.22 490.29 L595.88 490.33 L596.53 490.36 L597.18 490.38 L597.83 490.41 L598.48 490.44 L599.14 490.46 L599.79 490.48 L600.44 490.5 L601.09 490.52 L601.74 490.54 L602.4 490.56 L603.05 490.57 L603.7 490.59 L604.35 490.6 L605 490.62 L605.66 490.63 L606.31 490.64 L606.96 490.65 L607.61 490.66 L608.26 490.67 L608.92 490.68 L609.57 490.69 L610.22 490.7 L610.87 490.7 L611.52 490.71 L612.18 490.72 L612.83 490.72 L613.48 490.73 L614.13 490.73 L614.78 490.74 L615.44 490.74 L616.09 490.75 L616.74 490.75 L617.39 490.76 L618.04 490.76 L618.7 490.76 L619.35 490.76 L620 490.77 L620.65 490.77 L621.3 490.77 L621.96 490.77 L622.61 490.78 L623.26 490.78 L623.91 490.78 L624.56 490.78 L625.22 490.78 L625.87 490.78 L626.52 490.79 L627.17 490.79 L627.82 490.79 L628.48 490.79 L629.13 490.79 L629.78 490.79 L630.43 490.79 L631.08 490.79 L631.74 490.79 L632.39 490.79 L633.04 490.79 L633.69 490.79 L634.34 490.79 L635 490.8 L635.65 490.8 L636.3 490.8 L636.95 490.8 L637.6 490.8 L638.26 490.8 L638.91 490.8 L639.56 490.8 L640.21 490.8 L640.86 490.8 L641.52 490.8 L642.17 490.8 L642.82 490.8 L643.47 490.8 L644.12 490.8 L644.78 490.8 L645.43 490.8 L646.08 490.8 L646.73 490.8 L647.38 490.8 L648.04 490.8 L648.69 490.8 L649.34 490.8 L649.99 490.8 L650.64 490.8 L651.3 490.8 L651.95 490.8 L652.6 490.8 L653.25 490.8 L653.9 490.8 L654.56 490.8 L655.21 490.8 L655.86 490.8 L656.51 490.8 L657.16 490.8 L657.82 490.8 L658.47 490.8 L659.12 490.8 L659.77 490.8 L660.42 490.8 L661.08 490.8 L661.73 490.8 L662.38 490.8 L663.03 490.8 L663.68 490.8 L664.34 490.8 L664.99 490.8 L665.64 490.8 L666.29 490.8 L666.94 490.8"/>
<path stroke="#ff8000" d="M406.8 472.55 L407.45 471.8 L408.1 471.03 L408.76 470.23 L409.41 469.41 L410.06 468.57 L410.71 467.69 L411.36 466.8 L412.02 465.88 L412.67 464.93 L413.32 463.95 L413.97 462.95 L414.62 461.93 L415.28 460.87 L415.93 459.79 L416.58 458.68 L417.23 457.55 L417.88 456.38 L418.54 455.19 L419.19 453.97 L419.84 452.72 L420.49 451.45 L421.14 450.14 L421.8 448.81 L422.45 447.45 L423.1 446.06 L423.75 444.65 L424.4 443.21 L425.06 441.74 L425.71 440.24 L426.36 438.72 L427.01 437.17 L427.66 435.6 L428.32 434 L428.97 432.37 L429.62 430.72 L430.27 429.05 L430.92 427.35 L431.58 425.63 L432.23 423.88 L432.88 422.12 L433.53 420.33 L434.18 418.53 L434.84 416.7 L435.49 414.86 L436.14 413 L436.79 411.12 L437.44 409.22 L438.1 407.31 L438.75 405.39 L439.4 403.46 L440.05 401.51 L440.7 399.55 L441.36 397.59 L442.01 395.62 L442.66 393.64 L443.31 391.65 L443.96 389.66 L444.62 387.67 L445.27 385.68 L445.92 383.68 L446.57 381.69 L447.22 379.7 L447.88 377.72 L448.53 375.74 L449.18 373.77 L449.83 371.81 L450.48 369.86 L451.14 367.93 L451.79 366 L452.44 364.1 L453.09 362.2 L453.74 360.33 L454.4 358.48 L455.05 356.65 L455.7 354.85 L456.35 353.06 L457 351.31 L457.66 349.58 L458.31 347.89 L458.96 346.22 L459.61 344.59 L460.26 342.99 L460.92 341.43 L461.57 339.91 L462.22 338.42 L462.87 336.97 L463.52 335.57 L464.18 334.21 L464.83 332.89 L465.48 331.62 L466.13 330.39 L466.78 329.21 L467.44 328.08 L468.09 327 L468.74 325.97 L469.39 324.99 L470.04 324.07 L470.69 323.2 L471.35 322.38 L472 321.62 L472.65 320.91 L473.3 320.26 L473.95 319.66 L474.61 319.12 L475.26 318.64 L475.91 318.22 L476.56 317.86 L477.21 317.55 L477.87 317.3 L478.52 317.11 L479.17 316.98 L479.82 316.91 L480.47 316.89 L481.13 316.93 L481.78 317.03 L482.43 317.19 L483.08 317.4 L483.73 317.67 L484.39 317.99 L485.04 318.37 L485.69 318.8 L486.34 319.29 L486.99 319.83 L487.65 320.42 L488.3 321.06 L488.95 321.74 L489.6 322.48 L490.25 323.26 L490.91 324.09 L491.56 324.96 L492.21 325.87 L492.86 326.83 L493.51 327.82 L494.17 328.86 L494.82 329.92 L495.47 331.03 L496.12 332.16 L496.77 333.33 L497.43 334.52 L498.08 335.74 L498.73 336.99 L499.38 338.26 L500.03 339.55 L500.69 340.86 L501.34 342.19 L501.99 343.53 L502.64 344.89 L503.29 346.26 L503.95 347.63 L504.6 349.01 L505.25 350.4 L505.9 351.78 L506.55 353.17 L507.21 354.56 L507.86 355.94 L508.51 357.31 L509.16 358.68 L509.81 360.04 L510.47 361.38 L511.12 362.71 L511.77 364.02 L512.42 365.32 L513.07 366.59 L513.73 367.84 L514.38 369.07 L515.03 370.28 L515.68 371.46 L516.33 372.61 L516.99 373.73 L517.64 374.82 L518.29 375.87 L518.94 376.9 L519.59 377.89 L520.25 378.85 L520.9 379.77 L521.55 380.66 L522.2 381.51 L522.85 382.32 L523.51 383.1 L524.16 383.84 L524.81 384.54 L525.46 385.21 L526.11 385.84 L526.77 386.44 L527.42 387 L528.07 387.52 L528.72 388.02 L529.37 388.48 L530.03 388.91 L530.68 389.3 L531.33 389.67 L531.98 390.02 L532.63 390.33 L533.29 390.62 L533.94 390.89 L534.59 391.14 L535.24 391.36 L535.89 391.57 L536.55 391.77 L537.2 391.94 L537.85 392.11 L538.5 392.27 L539.15 392.41 L539.81 392.55 L540.46 392.69 L541.11 392.82 L541.76 392.95 L542.41 393.08 L543.07 393.21 L543.72 393.34 L544.37 393.48 L545.02 393.63 L545.67 393.78 L546.33 393.94 L546.98 394.11 L547.63 394.29 L548.28 394.48 L548.93 394.68 L549.59 394.9 L550.24 395.12 L550.89 395.36 L551.54 395.62 L552.19 395.89 L552.85 396.17 L553.5 396.46 L554.15 396.77 L554.8 397.09 L555.45 397.42 L556.11 397.77 L556.76 398.12 L557.41 398.49 L558.06 398.86 L558.71 399.25 L559.37 399.64 L560.02 400.04 L560.67 400.45 L561.32 400.86 L561.97 401.28 L562.63 401.7 L563.28 402.12 L563.93 402.54 L564.58 402.96 L565.23 403.39 L565.89 403.81 L566.54 404.22 L567.19 404.64 L567.84 405.05 L568.49 405.45 L569.15 405.85 L569.8 406.24 L570.45 406.63 L571.1 407 L571.75 407.37 L572.41 407.73 L573.06 408.08 L573.71 408.42 L574.36 408.75 L575.01 409.07 L575.67 409.38 L576.32 409.68 L576.97 409.97 L577.62 410.25 L578.27 410.52 L578.93 410.78 L579.58 411.03 L580.23 411.28 L580.88 411.51 L581.53 411.74 L582.19 411.96 L582.84 412.17 L583.49 412.37 L584.14 412.57 L584.79 412.77 L585.45 412.95 L586.1 413.14 L586.75 413.32 L587.4 413.5 L588.05 413.67 L588.71 413.85 L589.36 414.02 L590.01 414.2 L590.66 414.37 L591.31 414.55 L591.96 414.72 L592.62 414.9 L593.27 415.08 L593.92 415.27 L594.57 415.46 L595.22 415.65 L595.88 415.85 L596.53 416.05 L597.18 416.26 L597.83 416.48 L598.48 416.7 L599.14 416.93 L599.79 417.17 L600.44 417.41 L601.09 417.66 L601.74 417.92 L602.4 418.19 L603.05 418.46 L603.7 418.74 L604.35 419.02 L605 419.31 L605.66 419.6 L606.31 419.9 L606.96 420.2 L607.61 420.5 L608.26 420.8 L608.92 421.09 L609.57 421.38 L610.22 421.67 L610.87 421.94 L611.52 422.2 L612.18 422.45 L612.83 422.67 L613.48 422.87 L614.13 423.05 L614.78 423.2 L615.44 423.32 L616.09 423.4 L616.74 423.45 L617.39 423.45 L618.04 423.42 L618.7 423.35 L619.35 423.24 L620 423.08 L620.65 422.89 L621.3 422.67 L621.96 422.42 L622.61 422.15 L623.26 421.86 L623.91 421.56 L624.56 421.26 L625.22 420.97 L625.87 420.7 L626.52 420.47 L627.17 420.28 L627.82 420.14 L628.48 420.06 L629.13 420.06 L629.78 420.15 L630.43 420.32 L631.08 420.6 L631.74 420.98 L632.39 421.47 L633.04 422.07 L633.69 422.79 L634.34 423.61 L635 424.54 L635.65 425.56 L636.3 426.68 L636.95 427.89 L637.6 429.17 L638.26 430.51 L638.91 431.91 L639.56 433.35 L640.21 434.82 L640.86 436.31 L641.52 437.81 L642.17 439.3 L642.82 440.79 L643.47 442.25 L644.12 443.68 L644.78 445.07 L645.43 446.43 L646.08 447.74 L646.73 449 L647.38 450.21 L648.04 451.36 L648.69 452.47 L649.34 453.53 L649.99 454.53 L650.64 455.49 L651.3 456.4 L651.95 457.27 L652.6 458.1 L653.25 458.89 L653.9 459.65 L654.56 460.37 L655.21 461.07 L655.86 461.74 L656.51 462.39 L657.16 463.02 L657.82 463.62 L658.47 464.21 L659.12 464.79 L659.77 465.35 L660.42 465.9 L661.08 466.44 L661.73 466.96 L662.38 467.48 L663.03 467.99 L663.68 468.49 L664.34 468.98 L664.99 469.46 L665.64 469.94 L666.29 470.4 L666.94 470.86"/>
</g>
<g font-family="Liberation Sans" font-size="17.3" fill="#000" stroke="#000" stroke-width="0.35">
<text x="406.8" y="510.8" text-anchor="middle">1.5</text>
<text x="473.68" y="510.8" text-anchor="middle">2.0</text>
<text x="540.55" y="510.8" text-anchor="middle">2.5</text>
<text x="607.42" y="510.8" text-anchor="middle">3.0</text>
<text x="674.3" y="510.8" text-anchor="middle">3.5</text>
<text x="399.2" y="496" text-anchor="end">0.0</text>
<text x="399.2" y="460.8" text-anchor="end">0.5</text>
<text x="399.2" y="425.6" text-anchor="end">1.0</text>
<text x="399.2" y="390.4" text-anchor="end">1.5</text>
<text x="399.2" y="355.2" text-anchor="end">2.0</text>
<text x="399.2" y="320" text-anchor="end">2.5</text>
<text x="399.2" y="284.8" text-anchor="end">3.0</text>
</g>
<text x="411.9" y="303.95" font-family="Liberation Serif" font-size="26" fill="#000">(d)</text>
<text x="538.2" y="529.7" text-anchor="middle" font-family="Liberation Serif" font-weight="bold" font-size="19.8" fill="#000">Energy(eV)</text>
<text transform="translate(370.9 384.9) rotate(-90)" text-anchor="middle" font-family="Liberation Serif" font-weight="bold" font-size="19.2" fill="#000">IL Intensity(×10<tspan dy="-10.5" font-size="10">4</tspan><tspan dy="10.5">a.u./eV)</tspan></text>
<g font-family="Liberation Sans" font-size="15.5" fill="#000" stroke="#000" stroke-width="0.3">
<text transform="translate(612.8 303.6) scale(1 1.06)">15s</text>
<text transform="translate(612.8 323.4) scale(1 1.06)">3.19eV</text>
<line x1="573.3" y1="318.1" x2="609.2" y2="318.1" stroke="#ff0000" stroke-width="1.3" stroke-dasharray="8 3 2 3"/>
<text transform="translate(612.8 342.7) scale(1 1.06)">2.88eV</text>
<line x1="573.3" y1="337.4" x2="609.2" y2="337.4" stroke="#ff00ff" stroke-width="1.3" stroke-dasharray="8 3 2 3"/>
<text transform="translate(612.8 362) scale(1 1.06)">2.56eV</text>
<line x1="573.3" y1="356.7" x2="609.2" y2="356.7" stroke="#008080" stroke-width="1.3" stroke-dasharray="8 3 2 3"/>
<text transform="translate(612.8 381.3) scale(1 1.06)">2.04eV</text>
<line x1="573.3" y1="376" x2="609.2" y2="376" stroke="#0000ff" stroke-width="1.3" stroke-dasharray="8 3 2 3"/>
<text transform="translate(612.8 400.6) scale(1 1.06)">Cumu.</text>
<line x1="573.3" y1="395.3" x2="609.2" y2="395.3" stroke="#ff8000" stroke-width="1.3" stroke-dasharray="8 3 2 3"/>
</g>
<g fill="#fff" stroke="#555" stroke-width="0.9"><path d="M591.25 295.2L594.04 300.16L588.46 300.16Z"/></g>
</svg></body></html>
